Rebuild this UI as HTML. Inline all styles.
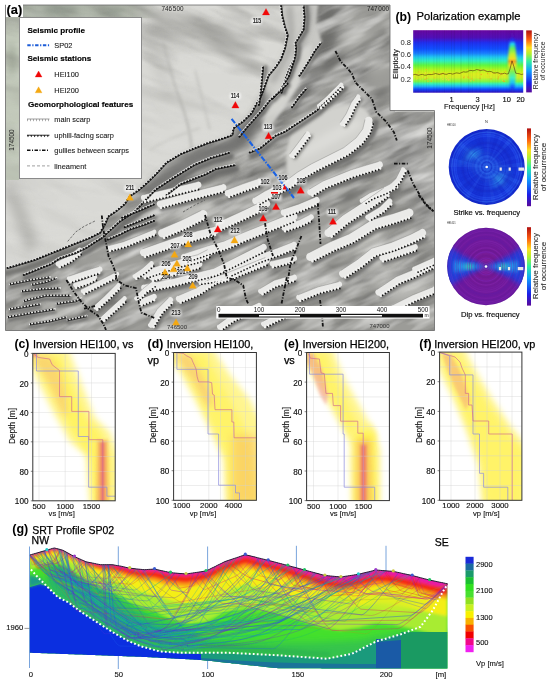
<!DOCTYPE html>
<html><head><meta charset="utf-8">
<style>
html,body{margin:0;padding:0;background:#fff;}
body{width:550px;height:684px;position:relative;overflow:hidden;font-family:"Liberation Sans", sans-serif;}
.abs{position:absolute;}
svg{position:absolute;left:0;top:0;overflow:visible;}
.t{position:absolute;white-space:nowrap;line-height:1;}
</style></head><body>

<svg width="440" height="335" viewBox="0 0 440 335" style="left:0;top:0">
<defs>
<clipPath id="mc"><path d="M5.5,5 H390 V110.5 H434.5 V330.5 H5.5 Z"/></clipPath>
<filter id="bl3" x="-20%" y="-20%" width="140%" height="140%"><feGaussianBlur stdDeviation="3"/></filter>
<filter id="bl6" x="-20%" y="-20%" width="140%" height="140%"><feGaussianBlur stdDeviation="6"/></filter>
<filter id="bl1" x="-20%" y="-20%" width="140%" height="140%"><feGaussianBlur stdDeviation="1"/></filter>
<filter id="bl05" x="-20%" y="-20%" width="140%" height="140%"><feGaussianBlur stdDeviation="0.4"/></filter>
<filter id="bl15" x="-20%" y="-20%" width="140%" height="140%"><feGaussianBlur stdDeviation="1.6"/></filter>
<filter id="tex" x="0" y="0" width="100%" height="100%">
 <feTurbulence type="fractalNoise" baseFrequency="0.018 0.07" numOctaves="3" seed="4" result="n"/>
 <feColorMatrix in="n" type="matrix" values="0 0 0 0 0  0 0 0 0 0  0 0 0 0 0  -1.6 0 0 0 0.9" result="a"/>
 <feComposite in="SourceGraphic" in2="a" operator="in"/>
</filter>
<filter id="tex3" x="0" y="0" width="100%" height="100%">
 <feTurbulence type="fractalNoise" baseFrequency="0.012 0.05" numOctaves="3" seed="21" result="n"/>
 <feColorMatrix in="n" type="matrix" values="0 0 0 0 0  0 0 0 0 0  0 0 0 0 0  -2.2 0 0 0 1.25" result="a"/>
 <feComposite in="SourceGraphic" in2="a" operator="in"/>
</filter>
<filter id="tex2" x="0" y="0" width="100%" height="100%">
 <feTurbulence type="fractalNoise" baseFrequency="0.02 0.09" numOctaves="3" seed="9" result="n"/>
 <feColorMatrix in="n" type="matrix" values="0 0 0 0 0  0 0 0 0 0  0 0 0 0 0  1.7 0 0 0 -0.7" result="a"/>
 <feComposite in="SourceGraphic" in2="a" operator="in"/>
</filter>
</defs>
<g clip-path="url(#mc)">
<rect x="0" y="0" width="440" height="335" fill="#d9d9d5"/>
<g filter="url(#bl6)">
<path d="M150,14 C175,18 200,16 228,28 L236,44 C210,40 175,42 150,34 Z" fill="#b2b2ae"/>
<path d="M222,36 C235,38 248,42 258,48 L254,54 C240,50 230,48 222,44 Z" fill="#bcbcb8"/>
<path d="M150,45 C160,60 170,80 175,100 L168,102 C160,80 152,62 146,50 Z" fill="#c4c4c0"/>
<path d="M5,178 C18,190 28,215 36,240 L30,258 C20,230 12,205 5,195 Z" fill="#b0b0ac"/>
</g>
<rect x="5" y="17" width="14" height="163" fill="#c2c9ba"/>
<defs><linearGradient id="tsg" x1="0" x2="1" y1="0" y2="0"><stop offset="0" stop-color="#a9b1a4"/><stop offset="0.75" stop-color="#b0b6aa"/><stop offset="1" stop-color="#c8c8c4" stop-opacity="0"/></linearGradient></defs>
<rect x="20" y="5" width="150" height="13" fill="url(#tsg)"/>
<g filter="url(#bl3)"><ellipse cx="60" cy="10" rx="18" ry="5" fill="#8f978c"/><ellipse cx="110" cy="12" rx="14" ry="5" fill="#98a094"/><ellipse cx="12" cy="60" rx="4" ry="18" fill="#a8b0a0"/><ellipse cx="12" cy="140" rx="4" ry="14" fill="#b0b8a8"/></g>
<defs><linearGradient id="nwfade" x1="0" y1="0" x2="0" y2="1"><stop offset="0" stop-color="#fff" stop-opacity="1"/><stop offset="0.2" stop-color="#fff" stop-opacity="0.7"/><stop offset="0.35" stop-color="#fff" stop-opacity="0.2"/><stop offset="1" stop-color="#fff" stop-opacity="0.15"/></linearGradient><mask id="nwm"><rect x="0" y="0" width="440" height="335" fill="url(#nwfade)"/></mask></defs>
<g mask="url(#nwm)"><g transform="rotate(20 140 100)"><rect x="-100" y="-150" width="500" height="450" fill="#70706c" filter="url(#tex3)" opacity="0.6"/></g></g>
<g filter="url(#bl15)" opacity="0.8"><path d="M163,42 C168,60 172,80 180,100 C186,115 190,130 192,150" fill="none" stroke="#b4b4b0" stroke-width="2.5"/><path d="M195,70 C200,90 205,110 210,130" fill="none" stroke="#c0c0bc" stroke-width="2"/><path d="M150,150 C165,140 180,135 200,128" fill="none" stroke="#c4c4c0" stroke-width="2"/></g>
<polygon points="3.0,269.0 7.7,268.6 21.4,264.5 35.0,260.5 48.6,255.0 62.3,249.5 75.9,244.0 89.5,238.6 100.5,233.2 105.9,223.6 108.6,216.8 116.8,211.4 125.0,204.5 130.4,196.4 138.6,190.9 145.5,185.0 156.0,175.0 167.0,163.0 181.0,154.5 194.5,149.0 208.0,143.6 221.8,139.5 232.7,135.5 234.0,128.6 243.6,121.8 252.0,113.6 257.0,104.0 261.0,97.7 265.0,86.8 269.0,75.9 276.0,67.7 281.4,59.5 285.4,48.6 288.2,35.0 285.4,26.8 282.7,15.9 281.4,3.0 300.0,3.0 395.0,3.0 395.0,112.0 440.0,112.0 440.0,340.0 0.0,340.0" fill="#9c9c98"/>
<path d="M306,30 L320,44 L309,61 L300,76 L290,95 L282,105 L276,100 L286,80 L296,60 Z" fill="#bcbcb8" filter="url(#bl1)"/>
<g filter="url(#bl6)">
<path d="M316,5 L342,5 L340,30 L336,55 L328,72 L316,62 L310,30 Z" fill="#6e6e6c"/>
<path d="M345,60 L362,62 L372,95 L380,112 L360,110 L350,85 Z" fill="#8a8a88"/>
<path d="M395,112 L434,112 L434,135 L400,140 Z" fill="#8e8e8c"/>
<path d="M405,175 L434,170 L434,240 L420,235 Z" fill="#8a8a88"/>
<path d="M300,70 L320,66 L318,90 L305,105 L292,104 Z" fill="#8a8a88"/>
<ellipse cx="352" cy="34" rx="14" ry="10" fill="#bcbcb8"/>
<ellipse cx="378" cy="56" rx="10" ry="12" fill="#c0c0bc"/>
<ellipse cx="360" cy="95" rx="10" ry="8" fill="#b4b4b0"/>
<ellipse cx="405" cy="150" rx="20" ry="25" fill="#9a9a98"/>
<ellipse cx="420" cy="125" rx="12" ry="10" fill="#b8b8b4"/>
<ellipse cx="400" cy="285" rx="25" ry="15" fill="#bcbcb8"/>
<ellipse cx="370" cy="250" rx="14" ry="10" fill="#c4c4c0"/>
<ellipse cx="60" cy="300" rx="40" ry="15" fill="#b0b0ac"/>
</g>
<clipPath id="darkclip"><polygon points="3.0,269.0 7.7,268.6 21.4,264.5 35.0,260.5 48.6,255.0 62.3,249.5 75.9,244.0 89.5,238.6 100.5,233.2 105.9,223.6 108.6,216.8 116.8,211.4 125.0,204.5 130.4,196.4 138.6,190.9 145.5,185.0 156.0,175.0 167.0,163.0 181.0,154.5 194.5,149.0 208.0,143.6 221.8,139.5 232.7,135.5 234.0,128.6 243.6,121.8 252.0,113.6 257.0,104.0 261.0,97.7 265.0,86.8 269.0,75.9 276.0,67.7 281.4,59.5 285.4,48.6 288.2,35.0 285.4,26.8 282.7,15.9 281.4,3.0 300.0,3.0 395.0,3.0 395.0,112.0 440.0,112.0 440.0,340.0 0.0,340.0"/></clipPath>
<g clip-path="url(#darkclip)"><g transform="rotate(-24 220 200)">
<rect x="-100" y="-150" width="650" height="650" fill="#5e5e5c" filter="url(#tex)"/>
<rect x="-100" y="-150" width="650" height="650" fill="#ececea" filter="url(#tex2)"/>
</g></g>
<g filter="url(#tex2)" opacity="0.2"><rect x="0" y="0" width="300" height="270" fill="#ececea"/></g>
<path d="M284,3 L305,3 L306,17 L304,30 L297,42 L296,57 L290,68 L281,89 L272,100 L262,106 L261,98 L265,87 L269,76 L276,68 L281,60 L285,49 L288,35 L285,27 L283,16 Z" fill="#d0d0cc" filter="url(#bl1)" opacity="0.9"/>
<path d="M305,3 L318,3 L316,25 L322,42 L312,58 L302,75 L296,60 L298,45 L305,33 L306,17 Z" fill="#c8c8c4" filter="url(#bl15)"/>
<path d="M292,130 C305,117 325,108 345,105 C360,104 370,110 371,120 C368,134 358,145 344,153 C325,163 306,173 290,184 C284,168 286,148 292,130 Z" fill="#d2d2ce" filter="url(#bl15)"/>
<path d="M300,150 C320,135 345,122 362,118 L360,128 C340,140 318,152 300,160 Z" fill="#dcdcd8" filter="url(#bl3)"/>
<g filter="url(#bl3)" opacity="0.8">
<path d="M340,240 C355,232 370,228 385,226 L380,238 C365,243 352,250 340,255 Z" fill="#d0d0cc"/>
<path d="M355,262 C370,256 385,252 400,250 L398,262 C383,266 370,270 355,274 Z" fill="#c8c8c4"/>
<path d="M180,215 C195,208 205,204 215,200 L212,210 C200,214 190,220 182,224 Z" fill="#d0d0cc"/>
</g>
<g filter="url(#bl3)">
<ellipse cx="282" cy="96" rx="22" ry="7" transform="rotate(-55 282 96)" fill="#d6d6d2"/>
<ellipse cx="262" cy="140" rx="14" ry="5" transform="rotate(-30 262 140)" fill="#cfcfcb"/>
<path d="M289,5 L291,30 L289,50 L281,66 L272,82" fill="none" stroke="#7a7a78" stroke-width="2.5"/>
<path d="M309,5 L309,20 L305,35 L299,48 L298,60 L291,72" fill="none" stroke="#7a7a78" stroke-width="2.5"/>
<path d="M250,130 L240,140 L225,147 L205,152 L185,160" fill="none" stroke="#6e6e6c" stroke-width="5"/>
</g>
<g filter="url(#bl3)">
<path d="M140,190 L156,177 L170,166 L185,157 L200,151 L215,146 L232,140 L240,128 L250,118 L258,112 L262,125 L252,140 L235,152 L215,158 L195,166 L175,178 L160,190 L150,198 Z" fill="#727270" opacity="0.85"/>
<path d="M165,198 L182,187 L205,178 L218,172 L236,168 L238,176 L215,180 L195,186 L175,196 Z" fill="#6a6a68" opacity="0.8"/>
<path d="M238,132 L248,120 L256,108 L262,98 L266,92 L270,96 L262,110 L252,122 L243,134 Z" fill="#5e5e5c" opacity="0.8"/>
</g>
<g filter="url(#bl15)" opacity="0.9">
<path d="M272,100 L282,88 L290,74 L298,60 L304,48 L312,44 L310,60 L302,76 L294,92 L284,108 L274,122 L266,132 L262,124 Z" fill="#d4d4d0"/>
<path d="M266,140 L280,132 L296,122 L310,114 L318,112 L314,120 L300,128 L284,138 L270,146 Z" fill="#d2d2ce"/>
</g>
<g filter="url(#bl15)"><path d="M3.4,273.5 L8.8,273.0 L22.7,268.8 L36.5,264.7 L50.3,259.2 L64.0,253.7 L77.6,248.2 L91.3,242.7 L102.5,237.2" fill="none" stroke="#6c6c6a" stroke-width="6" stroke-linejoin="round" opacity="0.85"/></g>
<g filter="url(#bl15)">
<path d="M25.2,278.4 L38.9,272.9 L52.8,267.3 L60.8,261.8 L77.0,256.5 L88.3,250.9 L96.7,245.3 L103.4,241.3" fill="none" stroke="#6a6a68" stroke-width="5" stroke-linecap="round" stroke-linejoin="round" opacity="0.9"/>
<path d="M104.2,241.3 L122.3,224.8 L137.4,214.7 L158.4,192.7 L174.6,182.0 L196.2,168.7 L212.2,162.0 L231.0,156.5" fill="none" stroke="#6a6a68" stroke-width="6" stroke-linecap="round" stroke-linejoin="round" opacity="0.9"/>
<path d="M169.2,198.3 L182.7,187.7 L206.9,178.3 L217.1,172.9 L236.2,169.0" fill="none" stroke="#6a6a68" stroke-width="6" stroke-linecap="round" stroke-linejoin="round" opacity="0.9"/>
<path d="M251.2,155.9 L261.7,151.6 L277.7,138.6 L286.5,135.0 L303.1,124.0 L319.5,113.0 L322.9,109.7 L332.3,101.3 L338.7,95.0 L344.9,88.7" fill="none" stroke="#6a6a68" stroke-width="5" stroke-linecap="round" stroke-linejoin="round" opacity="0.9"/>
<path d="M259.9,207.1 L269.7,201.2 L281.6,195.2 L292.4,189.9 L303.4,181.6 L316.7,173.7 L333.0,165.5 L349.6,157.0 L363.9,145.8 L372.7,133.9 L375.8,122.3" fill="none" stroke="#6a6a68" stroke-width="6" stroke-linecap="round" stroke-linejoin="round" opacity="0.9"/>
<path d="M294.2,108.6 L301.6,98.3 L308.8,90.0" fill="none" stroke="#6a6a68" stroke-width="3" stroke-linecap="round" stroke-linejoin="round" opacity="0.9"/>
<path d="M301.7,77.2 L305.8,70.9 L311.1,62.5 L317.2,52.2 L323.5,43.9" fill="none" stroke="#6a6a68" stroke-width="3" stroke-linecap="round" stroke-linejoin="round" opacity="0.9"/>
<path d="M284.5,93.5 L288.8,79.0 L292.9,68.8 L298.2,58.0 L299.3,46.8 L298.2,44.3 L301.0,39.8 L306.5,30.7 L307.6,17.5 L306.6,4.8" fill="none" stroke="#6a6a68" stroke-width="4" stroke-linecap="round" stroke-linejoin="round" opacity="0.9"/>
<path d="M274.6,100.4 L283.1,90.7 L291.4,76.9 L297.0,60.2" fill="none" stroke="#6a6a68" stroke-width="3" stroke-linecap="round" stroke-linejoin="round" opacity="0.9"/>
<path d="M241.6,138.3 L249.6,128.4 L257.6,119.4 L264.6,111.3 L271.5,102.4 L281.4,93.5 L289.5,85.5" fill="none" stroke="#6a6a68" stroke-width="3" stroke-linecap="round" stroke-linejoin="round" opacity="0.9"/>
<path d="M261.6,105.3 L263.1,95.2 L264.4,81.6 L265.7,66.6" fill="none" stroke="#6a6a68" stroke-width="3" stroke-linecap="round" stroke-linejoin="round" opacity="0.9"/>
<path d="M322.2,109.0 L331.6,100.5 L338.0,94.3 L344.2,88.0" fill="none" stroke="#6a6a68" stroke-width="3" stroke-linecap="round" stroke-linejoin="round" opacity="0.9"/>
<path d="M313.9,197.7 L327.4,189.6 L340.7,184.3 L354.0,178.9 L367.7,174.8 L381.4,170.7" fill="none" stroke="#6a6a68" stroke-width="5" stroke-linecap="round" stroke-linejoin="round" opacity="0.9"/>
<path d="M365.4,205.2 L373.4,200.0 L387.1,194.7 L398.0,189.1" fill="none" stroke="#6a6a68" stroke-width="4" stroke-linecap="round" stroke-linejoin="round" opacity="0.9"/>
<path d="M395.5,188.3 L401.2,182.6 L406.9,171.4" fill="none" stroke="#6a6a68" stroke-width="3" stroke-linecap="round" stroke-linejoin="round" opacity="0.9"/>
<path d="M294.9,158.1 L303.1,147.3 L311.2,136.2" fill="none" stroke="#6a6a68" stroke-width="3" stroke-linecap="round" stroke-linejoin="round" opacity="0.9"/>
<path d="M145.6,203.5 L170.6,197.5 L199.6,190.5" fill="none" stroke="#6a6a68" stroke-width="4" stroke-linecap="round" stroke-linejoin="round" opacity="0.9"/>
<path d="M161.7,209.5 L190.7,201.5 L224.6,193.0" fill="none" stroke="#6a6a68" stroke-width="4" stroke-linecap="round" stroke-linejoin="round" opacity="0.9"/>
<path d="M229.9,198.4 L245.9,192.5 L260.8,187.5" fill="none" stroke="#6a6a68" stroke-width="4" stroke-linecap="round" stroke-linejoin="round" opacity="0.9"/>
<path d="M165.2,239.8 L186.3,230.8 L206.4,220.8" fill="none" stroke="#6a6a68" stroke-width="5" stroke-linecap="round" stroke-linejoin="round" opacity="0.9"/>
<path d="M222.3,231.8 L246.3,220.8 L269.3,209.8" fill="none" stroke="#6a6a68" stroke-width="5" stroke-linecap="round" stroke-linejoin="round" opacity="0.9"/>
<path d="M146.0,258.9 L163.0,252.9 L180.9,247.0 L200.8,241.0 L216.8,237.0" fill="none" stroke="#6a6a68" stroke-width="5" stroke-linecap="round" stroke-linejoin="round" opacity="0.9"/>
<path d="M187.0,263.9 L210.9,256.0 L228.1,250.9 L246.2,242.9 L261.2,236.9 L281.2,228.9 L296.2,222.9" fill="none" stroke="#6a6a68" stroke-width="5" stroke-linecap="round" stroke-linejoin="round" opacity="0.9"/>
<path d="M153.7,282.5 L175.7,276.5 L200.7,269.5" fill="none" stroke="#6a6a68" stroke-width="4" stroke-linecap="round" stroke-linejoin="round" opacity="0.9"/>
<path d="M231.1,277.4 L246.1,270.4 L261.0,263.4 L280.9,256.4 L296.0,250.4" fill="none" stroke="#6a6a68" stroke-width="4" stroke-linecap="round" stroke-linejoin="round" opacity="0.9"/>
<path d="M200.4,285.6 L220.4,282.6 L235.3,280.6" fill="none" stroke="#6a6a68" stroke-width="4" stroke-linecap="round" stroke-linejoin="round" opacity="0.9"/>
<path d="M145.8,279.8 L162.2,274.3 L178.4,268.9 L200.3,263.5 L211.7,257.8" fill="none" stroke="#6a6a68" stroke-width="4" stroke-linecap="round" stroke-linejoin="round" opacity="0.9"/>
<path d="M145.5,293.5 L172.9,288.0 L194.6,282.5 L216.9,277.0 L233.5,268.7 L255.2,257.8 L266.2,252.3" fill="none" stroke="#6a6a68" stroke-width="4" stroke-linecap="round" stroke-linejoin="round" opacity="0.9"/>
<path d="M181.5,304.2 L200.7,295.9 L217.2,285.0 L227.7,282.4 L255.0,271.4 L268.7,266.0" fill="none" stroke="#6a6a68" stroke-width="4" stroke-linecap="round" stroke-linejoin="round" opacity="0.9"/>
<path d="M155.4,327.7 L163.5,314.3 L174.1,303.6" fill="none" stroke="#6a6a68" stroke-width="4" stroke-linecap="round" stroke-linejoin="round" opacity="0.9"/>
<path d="M263.6,295.8 L277.0,287.9 L295.7,282.5" fill="none" stroke="#6a6a68" stroke-width="4" stroke-linecap="round" stroke-linejoin="round" opacity="0.9"/>
<path d="M222.9,331.1 L233.7,323.2 L244.3,317.9 L261.1,310.4" fill="none" stroke="#6a6a68" stroke-width="4" stroke-linecap="round" stroke-linejoin="round" opacity="0.9"/>
<path d="M266.2,328.7 L282.5,320.6 L296.0,315.1" fill="none" stroke="#6a6a68" stroke-width="4" stroke-linecap="round" stroke-linejoin="round" opacity="0.9"/>
<path d="M273.5,268.4 L295.5,263.0" fill="none" stroke="#6a6a68" stroke-width="3" stroke-linecap="round" stroke-linejoin="round" opacity="0.9"/>
<path d="M333.4,238.4 L349.5,224.8 L368.5,212.6 L390.4,197.6" fill="none" stroke="#6a6a68" stroke-width="5" stroke-linecap="round" stroke-linejoin="round" opacity="0.9"/>
<path d="M285.8,218.0 L302.3,212.4 L318.7,205.6" fill="none" stroke="#6a6a68" stroke-width="4" stroke-linecap="round" stroke-linejoin="round" opacity="0.9"/>
<path d="M313.7,263.3 L335.3,252.3 L354.7,244.1 L376.3,230.5 L394.9,225.3 L411.5,219.7" fill="none" stroke="#6a6a68" stroke-width="5" stroke-linecap="round" stroke-linejoin="round" opacity="0.9"/>
<path d="M346.7,279.4 L363.2,268.5 L376.4,257.8 L395.0,252.4 L414.5,244.2 L425.4,238.8" fill="none" stroke="#6a6a68" stroke-width="5" stroke-linecap="round" stroke-linejoin="round" opacity="0.9"/>
<path d="M383.8,263.0 L400.3,257.5 L416.8,252.0" fill="none" stroke="#6a6a68" stroke-width="4" stroke-linecap="round" stroke-linejoin="round" opacity="0.9"/>
<path d="M370.8,221.7 L384.6,213.5 L393.2,205.1" fill="none" stroke="#6a6a68" stroke-width="4" stroke-linecap="round" stroke-linejoin="round" opacity="0.9"/>
<path d="M285.8,233.0 L302.4,227.4 L313.5,221.8" fill="none" stroke="#6a6a68" stroke-width="4" stroke-linecap="round" stroke-linejoin="round" opacity="0.9"/>
<path d="M381.9,297.2 L400.8,284.6 L414.3,279.2 L436.2,268.3" fill="none" stroke="#6a6a68" stroke-width="4" stroke-linecap="round" stroke-linejoin="round" opacity="0.9"/>
<path d="M416.8,273.3 L435.8,264.9" fill="none" stroke="#6a6a68" stroke-width="3" stroke-linecap="round" stroke-linejoin="round" opacity="0.9"/>
<path d="M396.2,312.3 L416.1,302.4 L436.0,294.4" fill="none" stroke="#6a6a68" stroke-width="4" stroke-linecap="round" stroke-linejoin="round" opacity="0.9"/>
<path d="M301.0,302.4 L320.8,294.5 L340.6,289.5" fill="none" stroke="#6a6a68" stroke-width="4" stroke-linecap="round" stroke-linejoin="round" opacity="0.9"/>
<path d="M32.8,288.0 L46.7,285.2 L57.7,281.0" fill="none" stroke="#6a6a68" stroke-width="4" stroke-linecap="round" stroke-linejoin="round" opacity="0.9"/>
<path d="M60.4,268.3 L71.6,262.8 L82.7,254.4" fill="none" stroke="#6a6a68" stroke-width="3" stroke-linecap="round" stroke-linejoin="round" opacity="0.9"/>
<path d="M71.3,283.9 L87.6,278.5 L101.3,274.3" fill="none" stroke="#6a6a68" stroke-width="4" stroke-linecap="round" stroke-linejoin="round" opacity="0.9"/>
<path d="M24.6,304.3 L46.3,299.0 L70.5,299.0" fill="none" stroke="#6a6a68" stroke-width="4" stroke-linecap="round" stroke-linejoin="round" opacity="0.9"/>
<path d="M57.1,306.6 L76.4,303.8 L82.4,300.9" fill="none" stroke="#6a6a68" stroke-width="3" stroke-linecap="round" stroke-linejoin="round" opacity="0.9"/>
<path d="M84.9,294.9 L100.9,286.9 L118.9,277.9" fill="none" stroke="#6a6a68" stroke-width="3" stroke-linecap="round" stroke-linejoin="round" opacity="0.9"/>
<path d="M76.7,289.0 L88.8,284.9 L96.9,280.9" fill="none" stroke="#6a6a68" stroke-width="3" stroke-linecap="round" stroke-linejoin="round" opacity="0.9"/>
<path d="M98.4,310.6 L109.5,300.5 L121.5,288.5" fill="none" stroke="#6a6a68" stroke-width="3" stroke-linecap="round" stroke-linejoin="round" opacity="0.9"/>
<path d="M105.4,321.6 L116.4,311.6 L127.4,301.6" fill="none" stroke="#6a6a68" stroke-width="3" stroke-linecap="round" stroke-linejoin="round" opacity="0.9"/>
<path d="M68.1,323.0 L87.2,318.9" fill="none" stroke="#6a6a68" stroke-width="3" stroke-linecap="round" stroke-linejoin="round" opacity="0.9"/>
<path d="M137.2,279.7 L146.3,273.7 L154.4,266.6" fill="none" stroke="#6a6a68" stroke-width="3" stroke-linecap="round" stroke-linejoin="round" opacity="0.9"/>
<path d="M139.5,301.5 L147.4,293.6 L156.3,286.7" fill="none" stroke="#6a6a68" stroke-width="3" stroke-linecap="round" stroke-linejoin="round" opacity="0.9"/>
<path d="M142.2,306.4 L155.8,300.9" fill="none" stroke="#6a6a68" stroke-width="3" stroke-linecap="round" stroke-linejoin="round" opacity="0.9"/>
<path d="M109.0,242.4 L119.1,238.4 L131.0,232.4 L145.9,227.4 L156.0,223.4" fill="none" stroke="#6a6a68" stroke-width="4" stroke-linecap="round" stroke-linejoin="round" opacity="0.9"/>
<path d="M110.7,252.5 L125.8,248.5 L141.0,242.4 L156.0,236.4" fill="none" stroke="#6a6a68" stroke-width="4" stroke-linecap="round" stroke-linejoin="round" opacity="0.9"/>
<path d="M123.1,220.1 L136.8,214.6 L155.8,206.4" fill="none" stroke="#6a6a68" stroke-width="3" stroke-linecap="round" stroke-linejoin="round" opacity="0.9"/>
<path d="M125.8,229.6 L142.2,222.9 L155.8,217.4" fill="none" stroke="#6a6a68" stroke-width="3" stroke-linecap="round" stroke-linejoin="round" opacity="0.9"/>
<path d="M10.4,287.1 L30.4,283.1 L50.3,280.1" fill="none" stroke="#6a6a68" stroke-width="3" stroke-linecap="round" stroke-linejoin="round" opacity="0.9"/>
<path d="M22.2,294.1 L40.2,292.1 L60.1,291.1" fill="none" stroke="#6a6a68" stroke-width="3" stroke-linecap="round" stroke-linejoin="round" opacity="0.9"/>
<path d="M8.4,320.1 L30.4,316.1 L55.3,312.1" fill="none" stroke="#6a6a68" stroke-width="3" stroke-linecap="round" stroke-linejoin="round" opacity="0.9"/>
<path d="M30.3,327.1 L50.4,324.1 L66.5,320.0" fill="none" stroke="#6a6a68" stroke-width="3" stroke-linecap="round" stroke-linejoin="round" opacity="0.9"/>
<path d="M10.3,312.1 L40.3,307.1" fill="none" stroke="#6a6a68" stroke-width="3" stroke-linecap="round" stroke-linejoin="round" opacity="0.9"/>
<path d="M345.7,126.2 L351.8,117.0 L356.8,106.0 L361.7,99.2" fill="none" stroke="#6a6a68" stroke-width="3" stroke-linecap="round" stroke-linejoin="round" opacity="0.9"/>
<path d="M397.1,105.1 L405.1,97.1" fill="none" stroke="#6a6a68" stroke-width="2" stroke-linecap="round" stroke-linejoin="round" opacity="0.9"/>
</g>
<g filter="url(#bl05)">
<path d="M256.1,200.8 L266.2,194.7 L278.3,188.6 L288.5,183.6 L299.3,175.5 L313.2,167.2 L329.7,159.0 L345.7,150.8 L358.8,140.5 L366.1,130.6 L368.7,120.5" fill="none" stroke="#eaeae8" stroke-width="7.5" stroke-linecap="round" stroke-linejoin="round"/>
<path d="M254.1,197.6 L264.4,191.4 L276.7,185.3 L286.5,180.4 L297.2,172.4 L311.4,163.9 L328.0,155.6 L343.7,147.7 L356.1,137.9 L362.8,128.9 L365.0,119.5" fill="none" stroke="#7a7a78" stroke-width="0.6" opacity="0.7"/>
<path d="M319.3,105.7 L328.7,97.4 L334.9,91.2 L341.1,84.9" fill="none" stroke="#eaeae8" stroke-width="4.5" stroke-linecap="round" stroke-linejoin="round"/>
<path d="M317.8,104.0 L327.1,95.7 L333.3,89.6 L339.5,83.3" fill="none" stroke="#7a7a78" stroke-width="0.6" opacity="0.7"/>
<path d="M310.6,192.2 L324.5,183.9 L338.3,178.4 L351.9,172.9 L365.9,168.7 L379.6,164.6" fill="none" stroke="#eaeae8" stroke-width="6.5" stroke-linecap="round" stroke-linejoin="round"/>
<path d="M309.0,189.4 L323.1,181.0 L337.1,175.4 L350.8,169.9 L364.9,165.6 L378.6,161.5" fill="none" stroke="#7a7a78" stroke-width="0.6" opacity="0.7"/>
<path d="M362.5,200.7 L371.1,195.2 L384.9,189.8 L395.6,184.3" fill="none" stroke="#eaeae8" stroke-width="5.5" stroke-linecap="round" stroke-linejoin="round"/>
<path d="M361.0,198.4 L369.9,192.8 L383.8,187.3 L394.3,181.9" fill="none" stroke="#7a7a78" stroke-width="0.6" opacity="0.7"/>
<path d="M392.4,185.2 L397.6,180.1 L403.0,169.5" fill="none" stroke="#eaeae8" stroke-width="4.5" stroke-linecap="round" stroke-linejoin="round"/>
<path d="M390.8,183.6 L395.8,178.9 L401.0,168.5" fill="none" stroke="#7a7a78" stroke-width="0.6" opacity="0.7"/>
<path d="M291.4,155.4 L299.6,144.7 L307.7,133.7" fill="none" stroke="#eaeae8" stroke-width="4.5" stroke-linecap="round" stroke-linejoin="round"/>
<path d="M289.6,154.1 L297.8,143.3 L305.9,132.3" fill="none" stroke="#7a7a78" stroke-width="0.6" opacity="0.7"/>
<path d="M144.2,197.8 L169.2,191.8 L198.2,184.8" fill="none" stroke="#eaeae8" stroke-width="6.5" stroke-linecap="round" stroke-linejoin="round"/>
<path d="M143.5,194.7 L168.5,188.7 L197.5,181.7" fill="none" stroke="#7a7a78" stroke-width="0.6" opacity="0.7"/>
<path d="M160.1,203.9 L189.2,195.9 L223.2,187.3" fill="none" stroke="#eaeae8" stroke-width="6.5" stroke-linecap="round" stroke-linejoin="round"/>
<path d="M159.3,200.7 L188.4,192.7 L222.4,184.2" fill="none" stroke="#7a7a78" stroke-width="0.6" opacity="0.7"/>
<path d="M227.9,193.0 L243.9,186.9 L259.0,181.9" fill="none" stroke="#eaeae8" stroke-width="6.5" stroke-linecap="round" stroke-linejoin="round"/>
<path d="M226.7,189.9 L242.8,183.9 L257.9,178.8" fill="none" stroke="#7a7a78" stroke-width="0.6" opacity="0.7"/>
<path d="M162.3,233.1 L183.2,224.1 L203.1,214.2" fill="none" stroke="#eaeae8" stroke-width="8.5" stroke-linecap="round" stroke-linejoin="round"/>
<path d="M160.7,229.2 L181.4,220.3 L201.2,210.4" fill="none" stroke="#7a7a78" stroke-width="0.6" opacity="0.7"/>
<path d="M219.4,225.6 L243.4,214.6 L266.4,203.6" fill="none" stroke="#eaeae8" stroke-width="7.5" stroke-linecap="round" stroke-linejoin="round"/>
<path d="M217.9,222.2 L241.8,211.2 L264.8,200.2" fill="none" stroke="#7a7a78" stroke-width="0.6" opacity="0.7"/>
<path d="M143.8,252.5 L160.8,246.5 L178.9,240.4 L199.0,234.4 L215.1,230.4" fill="none" stroke="#eaeae8" stroke-width="7.5" stroke-linecap="round" stroke-linejoin="round"/>
<path d="M142.5,248.9 L159.6,242.9 L177.7,236.8 L198.0,230.8 L214.2,226.7" fill="none" stroke="#7a7a78" stroke-width="0.6" opacity="0.7"/>
<path d="M184.8,257.4 L208.9,249.4 L225.7,244.5 L243.5,236.5 L258.6,230.5 L278.6,222.5 L293.6,216.5" fill="none" stroke="#eaeae8" stroke-width="7.5" stroke-linecap="round" stroke-linejoin="round"/>
<path d="M183.6,253.9 L207.7,245.9 L224.4,241.0 L242.1,233.1 L257.2,227.0 L277.2,219.0 L292.2,213.0" fill="none" stroke="#7a7a78" stroke-width="0.6" opacity="0.7"/>
<path d="M152.1,276.9 L174.1,270.9 L199.1,263.9" fill="none" stroke="#eaeae8" stroke-width="6.5" stroke-linecap="round" stroke-linejoin="round"/>
<path d="M151.3,273.7 L173.3,267.7 L198.2,260.7" fill="none" stroke="#7a7a78" stroke-width="0.6" opacity="0.7"/>
<path d="M228.6,272.1 L243.6,265.1 L258.8,258.0 L278.9,251.0 L293.8,245.0" fill="none" stroke="#eaeae8" stroke-width="6.5" stroke-linecap="round" stroke-linejoin="round"/>
<path d="M227.3,269.1 L242.3,262.1 L257.6,255.0 L277.7,247.9 L292.6,242.0" fill="none" stroke="#7a7a78" stroke-width="0.6" opacity="0.7"/>
<path d="M199.6,280.3 L219.6,277.3 L234.6,275.3" fill="none" stroke="#eaeae8" stroke-width="5.5" stroke-linecap="round" stroke-linejoin="round"/>
<path d="M199.2,277.6 L219.2,274.6 L234.3,272.5" fill="none" stroke="#7a7a78" stroke-width="0.6" opacity="0.7"/>
<path d="M144.0,274.2 L160.4,268.7 L176.8,263.3 L198.5,257.9 L209.0,252.6" fill="none" stroke="#eaeae8" stroke-width="6.5" stroke-linecap="round" stroke-linejoin="round"/>
<path d="M142.9,271.1 L159.3,265.6 L175.9,260.1 L197.5,254.8 L207.6,249.7" fill="none" stroke="#7a7a78" stroke-width="0.6" opacity="0.7"/>
<path d="M144.4,287.8 L171.6,282.3 L193.2,276.8 L214.9,271.4 L230.8,263.5 L252.5,252.6 L263.5,247.1" fill="none" stroke="#eaeae8" stroke-width="6.5" stroke-linecap="round" stroke-linejoin="round"/>
<path d="M143.7,284.6 L170.9,279.2 L192.4,273.7 L213.8,268.4 L229.4,260.6 L251.1,249.7 L262.1,244.2" fill="none" stroke="#7a7a78" stroke-width="0.6" opacity="0.7"/>
<path d="M179.2,298.8 L198.0,290.7 L214.6,279.8 L225.7,276.9 L252.8,266.0 L266.5,260.6" fill="none" stroke="#eaeae8" stroke-width="6.5" stroke-linecap="round" stroke-linejoin="round"/>
<path d="M177.9,295.8 L196.4,287.9 L213.1,276.9 L224.6,273.9 L251.6,263.0 L265.3,257.6" fill="none" stroke="#7a7a78" stroke-width="0.6" opacity="0.7"/>
<path d="M150.8,325.0 L159.2,311.0 L170.4,299.9" fill="none" stroke="#eaeae8" stroke-width="5.5" stroke-linecap="round" stroke-linejoin="round"/>
<path d="M148.5,323.6 L157.1,309.3 L168.4,297.9" fill="none" stroke="#7a7a78" stroke-width="0.6" opacity="0.7"/>
<path d="M260.9,291.2 L274.9,283.0 L294.2,277.4" fill="none" stroke="#eaeae8" stroke-width="5.5" stroke-linecap="round" stroke-linejoin="round"/>
<path d="M259.5,288.9 L273.9,280.4 L293.5,274.7" fill="none" stroke="#7a7a78" stroke-width="0.6" opacity="0.7"/>
<path d="M219.8,326.8 L230.9,318.7 L242.0,313.0 L258.9,305.5" fill="none" stroke="#eaeae8" stroke-width="5.5" stroke-linecap="round" stroke-linejoin="round"/>
<path d="M218.1,324.6 L229.4,316.3 L240.9,310.5 L257.8,303.0" fill="none" stroke="#7a7a78" stroke-width="0.6" opacity="0.7"/>
<path d="M263.8,323.9 L280.3,315.7 L294.0,310.2" fill="none" stroke="#eaeae8" stroke-width="5.5" stroke-linecap="round" stroke-linejoin="round"/>
<path d="M262.5,321.5 L279.1,313.2 L292.9,307.6" fill="none" stroke="#7a7a78" stroke-width="0.6" opacity="0.7"/>
<path d="M272.3,263.7 L294.3,258.3" fill="none" stroke="#eaeae8" stroke-width="5.5" stroke-linecap="round" stroke-linejoin="round"/>
<path d="M271.7,261.1 L293.7,255.7" fill="none" stroke="#7a7a78" stroke-width="0.6" opacity="0.7"/>
<path d="M328.7,232.7 L345.2,218.9 L364.4,206.5 L386.2,191.5" fill="none" stroke="#eaeae8" stroke-width="8.5" stroke-linecap="round" stroke-linejoin="round"/>
<path d="M325.9,229.5 L342.7,215.4 L362.1,202.9 L383.8,188.0" fill="none" stroke="#7a7a78" stroke-width="0.6" opacity="0.7"/>
<path d="M284.0,212.4 L300.3,207.0 L316.4,200.2" fill="none" stroke="#eaeae8" stroke-width="6.5" stroke-linecap="round" stroke-linejoin="round"/>
<path d="M282.9,209.3 L299.1,203.9 L315.2,197.2" fill="none" stroke="#7a7a78" stroke-width="0.6" opacity="0.7"/>
<path d="M310.4,256.7 L332.2,245.6 L351.2,237.6 L373.2,223.9 L392.8,218.2 L409.2,212.8" fill="none" stroke="#eaeae8" stroke-width="8.5" stroke-linecap="round" stroke-linejoin="round"/>
<path d="M308.5,252.9 L330.4,241.8 L349.2,233.9 L371.4,220.0 L391.5,214.2 L407.8,208.7" fill="none" stroke="#7a7a78" stroke-width="0.6" opacity="0.7"/>
<path d="M342.9,273.7 L359.2,263.0 L373.3,251.7 L392.7,246.0 L411.7,238.0 L422.3,232.6" fill="none" stroke="#eaeae8" stroke-width="7.5" stroke-linecap="round" stroke-linejoin="round"/>
<path d="M340.9,270.5 L357.0,259.9 L371.6,248.3 L391.5,242.4 L410.1,234.6 L420.6,229.3" fill="none" stroke="#7a7a78" stroke-width="0.6" opacity="0.7"/>
<path d="M382.1,257.9 L398.6,252.4 L415.1,246.9" fill="none" stroke="#eaeae8" stroke-width="5.5" stroke-linecap="round" stroke-linejoin="round"/>
<path d="M381.3,255.3 L397.8,249.8 L414.3,244.3" fill="none" stroke="#7a7a78" stroke-width="0.6" opacity="0.7"/>
<path d="M368.1,217.1 L381.4,209.2 L389.5,201.2" fill="none" stroke="#eaeae8" stroke-width="5.5" stroke-linecap="round" stroke-linejoin="round"/>
<path d="M366.7,214.8 L379.7,207.0 L387.6,199.3" fill="none" stroke="#7a7a78" stroke-width="0.6" opacity="0.7"/>
<path d="M284.1,227.9 L300.4,222.4 L311.1,217.0" fill="none" stroke="#eaeae8" stroke-width="5.5" stroke-linecap="round" stroke-linejoin="round"/>
<path d="M283.3,225.3 L299.3,219.9 L309.8,214.6" fill="none" stroke="#7a7a78" stroke-width="0.6" opacity="0.7"/>
<path d="M378.7,292.3 L397.9,279.5 L411.8,273.8 L433.6,263.1" fill="none" stroke="#eaeae8" stroke-width="6.5" stroke-linecap="round" stroke-linejoin="round"/>
<path d="M376.9,289.6 L396.3,276.6 L410.5,270.9 L432.1,260.2" fill="none" stroke="#7a7a78" stroke-width="0.6" opacity="0.7"/>
<path d="M414.9,268.9 L433.9,260.5" fill="none" stroke="#eaeae8" stroke-width="5.5" stroke-linecap="round" stroke-linejoin="round"/>
<path d="M413.8,266.4 L432.8,258.0" fill="none" stroke="#7a7a78" stroke-width="0.6" opacity="0.7"/>
<path d="M393.8,307.5 L413.9,297.5 L434.0,289.4" fill="none" stroke="#eaeae8" stroke-width="5.5" stroke-linecap="round" stroke-linejoin="round"/>
<path d="M392.5,305.1 L412.7,295.0 L433.0,286.9" fill="none" stroke="#7a7a78" stroke-width="0.6" opacity="0.7"/>
<path d="M299.0,297.4 L319.2,289.4 L339.3,284.3" fill="none" stroke="#eaeae8" stroke-width="5.5" stroke-linecap="round" stroke-linejoin="round"/>
<path d="M298.0,294.9 L318.3,286.8 L338.7,281.7" fill="none" stroke="#7a7a78" stroke-width="0.6" opacity="0.7"/>
<path d="M32.1,284.5 L45.7,281.7 L56.4,277.7" fill="none" stroke="#eaeae8" stroke-width="2" stroke-linecap="round" stroke-linejoin="round"/>
<path d="M31.9,283.5 L45.5,280.8 L56.1,276.7" fill="none" stroke="#7a7a78" stroke-width="0.6" opacity="0.7"/>
<path d="M58.3,263.9 L69.0,258.7 L79.7,250.5" fill="none" stroke="#eaeae8" stroke-width="5.5" stroke-linecap="round" stroke-linejoin="round"/>
<path d="M57.1,261.5 L67.6,256.3 L78.1,248.3" fill="none" stroke="#7a7a78" stroke-width="0.6" opacity="0.7"/>
<path d="M69.6,278.8 L86.0,273.4 L99.7,269.2" fill="none" stroke="#eaeae8" stroke-width="5.5" stroke-linecap="round" stroke-linejoin="round"/>
<path d="M68.8,276.2 L85.1,270.8 L98.9,266.5" fill="none" stroke="#7a7a78" stroke-width="0.6" opacity="0.7"/>
<path d="M23.8,300.8 L45.9,295.4 L70.5,295.4" fill="none" stroke="#eaeae8" stroke-width="2" stroke-linecap="round" stroke-linejoin="round"/>
<path d="M23.5,299.9 L45.8,294.4 L70.5,294.4" fill="none" stroke="#7a7a78" stroke-width="0.6" opacity="0.7"/>
<path d="M56.7,303.5 L75.7,300.8 L80.9,298.1" fill="none" stroke="#eaeae8" stroke-width="2" stroke-linecap="round" stroke-linejoin="round"/>
<path d="M56.5,302.5 L75.5,299.8 L80.5,297.2" fill="none" stroke="#7a7a78" stroke-width="0.6" opacity="0.7"/>
<path d="M83.0,291.0 L99.0,283.0 L117.0,274.0" fill="none" stroke="#eaeae8" stroke-width="4.5" stroke-linecap="round" stroke-linejoin="round"/>
<path d="M82.0,289.0 L98.0,281.0 L116.0,272.0" fill="none" stroke="#7a7a78" stroke-width="0.6" opacity="0.7"/>
<path d="M75.3,284.9 L87.2,280.9 L95.0,277.0" fill="none" stroke="#eaeae8" stroke-width="4.5" stroke-linecap="round" stroke-linejoin="round"/>
<path d="M74.6,282.7 L86.3,278.8 L94.0,275.0" fill="none" stroke="#7a7a78" stroke-width="0.6" opacity="0.7"/>
<path d="M95.5,307.3 L106.4,297.4 L118.4,285.4" fill="none" stroke="#eaeae8" stroke-width="4.5" stroke-linecap="round" stroke-linejoin="round"/>
<path d="M94.0,305.7 L104.9,295.7 L116.8,283.8" fill="none" stroke="#7a7a78" stroke-width="0.6" opacity="0.7"/>
<path d="M102.5,318.3 L113.5,308.3 L124.5,298.3" fill="none" stroke="#eaeae8" stroke-width="4.5" stroke-linecap="round" stroke-linejoin="round"/>
<path d="M101.0,316.7 L112.0,306.7 L123.0,296.7" fill="none" stroke="#7a7a78" stroke-width="0.6" opacity="0.7"/>
<path d="M67.5,319.9 L86.6,315.8" fill="none" stroke="#eaeae8" stroke-width="2" stroke-linecap="round" stroke-linejoin="round"/>
<path d="M67.3,318.9 L86.4,314.8" fill="none" stroke="#7a7a78" stroke-width="0.6" opacity="0.7"/>
<path d="M134.8,276.1 L143.6,270.2 L151.5,263.3" fill="none" stroke="#eaeae8" stroke-width="4.5" stroke-linecap="round" stroke-linejoin="round"/>
<path d="M133.5,274.3 L142.3,268.4 L150.0,261.6" fill="none" stroke="#7a7a78" stroke-width="0.6" opacity="0.7"/>
<path d="M136.4,298.4 L144.5,290.3 L153.6,283.2" fill="none" stroke="#eaeae8" stroke-width="4.5" stroke-linecap="round" stroke-linejoin="round"/>
<path d="M134.8,296.8 L143.0,288.6 L152.2,281.4" fill="none" stroke="#7a7a78" stroke-width="0.6" opacity="0.7"/>
<path d="M140.4,302.0 L154.0,296.5" fill="none" stroke="#eaeae8" stroke-width="5.5" stroke-linecap="round" stroke-linejoin="round"/>
<path d="M139.3,299.4 L152.9,293.9" fill="none" stroke="#7a7a78" stroke-width="0.6" opacity="0.7"/>
<path d="M109.4,247.8 L124.3,243.9 L139.2,237.9 L154.2,231.9" fill="none" stroke="#eaeae8" stroke-width="4.5" stroke-linecap="round" stroke-linejoin="round"/>
<path d="M108.8,245.7 L123.6,241.7 L138.3,235.8 L153.3,229.8" fill="none" stroke="#7a7a78" stroke-width="0.6" opacity="0.7"/>
<path d="M9.8,284.0 L29.8,280.0 L49.9,277.0" fill="none" stroke="#eaeae8" stroke-width="2" stroke-linecap="round" stroke-linejoin="round"/>
<path d="M9.6,283.0 L29.7,279.0 L49.7,276.0" fill="none" stroke="#7a7a78" stroke-width="0.6" opacity="0.7"/>
<path d="M21.9,291.0 L39.9,289.0 L60.0,288.0" fill="none" stroke="#eaeae8" stroke-width="2" stroke-linecap="round" stroke-linejoin="round"/>
<path d="M21.8,290.0 L39.8,288.0 L59.9,287.0" fill="none" stroke="#7a7a78" stroke-width="0.6" opacity="0.7"/>
<path d="M7.8,317.0 L29.8,313.0 L54.8,309.0" fill="none" stroke="#eaeae8" stroke-width="2" stroke-linecap="round" stroke-linejoin="round"/>
<path d="M7.6,316.0 L29.7,312.0 L54.7,308.0" fill="none" stroke="#7a7a78" stroke-width="0.6" opacity="0.7"/>
<path d="M29.9,324.0 L49.8,321.0 L65.8,317.0" fill="none" stroke="#eaeae8" stroke-width="2" stroke-linecap="round" stroke-linejoin="round"/>
<path d="M29.7,323.0 L49.6,320.0 L65.5,316.1" fill="none" stroke="#7a7a78" stroke-width="0.6" opacity="0.7"/>
<path d="M9.8,309.0 L39.8,304.0" fill="none" stroke="#eaeae8" stroke-width="2" stroke-linecap="round" stroke-linejoin="round"/>
<path d="M9.7,308.0 L39.7,303.0" fill="none" stroke="#7a7a78" stroke-width="0.6" opacity="0.7"/>
<path d="M342.1,123.8 L348.0,114.9 L353.0,103.9 L358.2,96.7" fill="none" stroke="#eaeae8" stroke-width="4.5" stroke-linecap="round" stroke-linejoin="round"/>
<path d="M340.3,122.5 L346.1,113.8 L351.1,102.8 L356.3,95.4" fill="none" stroke="#7a7a78" stroke-width="0.6" opacity="0.7"/>
<path d="M395.3,103.3 L403.3,95.3" fill="none" stroke="#eaeae8" stroke-width="2" stroke-linecap="round" stroke-linejoin="round"/>
<path d="M394.6,102.6 L402.6,94.6" fill="none" stroke="#7a7a78" stroke-width="0.6" opacity="0.7"/>
</g>
<path d="M7.3,267.3 L21.0,263.2 L34.5,259.2 L48.1,253.7 L61.8,248.2 L75.4,242.7 L88.9,237.3 L99.6,232.2 L104.6,223.0 L107.6,215.9 L116.0,210.3 L124.0,203.6 L129.4,195.4 L137.8,189.8 L144.6,184.0 L155.0,174.0 L166.1,161.9 L180.4,153.3 L194.0,147.7 L207.5,142.3 L221.4,138.2 L231.8,134.5 L232.9,127.7 L242.7,120.7 L250.9,112.8 L255.8,103.3 L259.7,97.1 L263.7,86.3 L267.8,75.2 L274.9,66.9 L280.1,58.9 L284.1,48.2 L286.8,35.0 L284.1,27.2 L281.3,16.1 L280.0,3.1" fill="none" stroke="#e6e6e4" stroke-width="1.6" opacity="0.9"/>
<path d="M7.7,268.6 L21.4,264.5 L35.0,260.5 L48.6,255.0 L62.3,249.5 L75.9,244.0 L89.5,238.6 L100.5,233.2 L105.9,223.6 L108.6,216.8 L116.8,211.4 L125.0,204.5 L130.4,196.4 L138.6,190.9 L145.5,185.0 L156.0,175.0 L167.0,163.0 L181.0,154.5 L194.5,149.0 L208.0,143.6 L221.8,139.5 L232.7,135.5 L234.0,128.6 L243.6,121.8 L252.0,113.6 L257.0,104.0 L261.0,97.7 L265.0,86.8 L269.0,75.9 L276.0,67.7 L281.4,59.5 L285.4,48.6 L288.2,35.0 L285.4,26.8 L282.7,15.9 L281.4,3.0" fill="none" stroke="#1a1a1a" stroke-width="0.8"/>
<path d="M7.5,268.0 L21.2,263.9 L34.8,259.9 L48.4,254.4 L62.1,248.9 L75.7,243.4 L89.3,238.1 L100.1,232.8 L105.4,223.3 L108.2,216.4 L116.4,210.9 L124.6,204.1 L130.0,196.0 L138.2,190.4 L145.1,184.6 L155.6,174.6 L166.6,162.5 L180.7,154.0 L194.3,148.4 L207.8,143.0 L221.6,138.9 L232.3,135.1 L233.5,128.2 L243.2,121.3 L251.5,113.2 L256.5,103.7 L260.5,97.4 L264.4,86.6 L268.5,75.6 L275.5,67.3 L280.9,59.2 L284.8,48.4 L287.6,35.0 L284.8,27.0 L282.1,16.0 L280.8,3.1" fill="none" stroke="#141414" stroke-width="2.1" stroke-linecap="round" stroke-dasharray="0.01 3.1"/>
<path d="M23.5,274.2 L37.2,268.7 L50.8,263.3 L58.9,257.7 L75.4,252.3 L86.1,247.0 L94.2,241.5 L101.1,237.4" fill="none" stroke="#e6e6e4" stroke-width="1.6" opacity="0.9"/>
<path d="M24.0,275.5 L37.7,270.0 L51.4,264.5 L59.5,259.0 L75.9,253.6 L86.8,248.2 L95.0,242.7 L101.8,238.6" fill="none" stroke="#1a1a1a" stroke-width="0.8"/>
<path d="M23.8,274.9 L37.5,269.4 L51.1,264.0 L59.3,258.5 L75.7,253.0 L86.5,247.7 L94.7,242.2 L101.5,238.1" fill="none" stroke="#141414" stroke-width="2.1" stroke-linecap="round" stroke-dasharray="0.01 3.1"/>
<path d="M100.9,237.6 L119.1,220.9 L134.1,211.0 L155.1,188.9 L171.9,177.8 L193.8,164.3 L210.5,157.3 L229.6,151.7" fill="none" stroke="#e6e6e4" stroke-width="1.6" opacity="0.9"/>
<path d="M101.8,238.6 L120.0,222.0 L135.0,212.0 L156.0,190.0 L172.7,179.0 L194.5,165.5 L211.0,158.6 L230.0,153.0" fill="none" stroke="#1a1a1a" stroke-width="0.8"/>
<path d="M101.4,238.2 L119.6,221.5 L134.6,211.6 L155.6,189.5 L172.4,178.5 L194.2,165.0 L210.8,158.0 L229.8,152.4" fill="none" stroke="#141414" stroke-width="2.1" stroke-linecap="round" stroke-dasharray="0.01 3.1"/>
<path d="M166.1,194.4 L180.3,183.3 L204.9,173.7 L215.6,168.2 L235.2,164.1" fill="none" stroke="#e6e6e4" stroke-width="1.6" opacity="0.9"/>
<path d="M167.0,195.5 L181.0,184.5 L205.5,175.0 L216.0,169.5 L235.5,165.5" fill="none" stroke="#1a1a1a" stroke-width="0.8"/>
<path d="M166.6,195.0 L180.7,184.0 L205.3,174.4 L215.8,168.9 L235.4,164.9" fill="none" stroke="#141414" stroke-width="2.1" stroke-linecap="round" stroke-dasharray="0.01 3.1"/>
<path d="M249.5,151.7 L259.2,147.8 L275.2,134.8 L284.3,131.1 L300.6,120.2 L316.9,109.4 L319.9,106.4 L329.2,98.0 L335.5,91.8 L341.7,85.5" fill="none" stroke="#e6e6e4" stroke-width="1.6" opacity="0.9"/>
<path d="M250.0,153.0 L260.0,149.0 L276.0,136.0 L285.0,132.3 L301.4,121.4 L317.7,110.5 L320.8,107.4 L330.2,99.0 L336.5,92.8 L342.7,86.5" fill="none" stroke="#1a1a1a" stroke-width="0.8"/>
<path d="M249.8,152.4 L259.7,148.5 L275.7,135.5 L284.7,131.8 L301.1,120.9 L317.3,110.0 L320.4,107.0 L329.8,98.6 L336.1,92.4 L342.3,86.1" fill="none" stroke="#141414" stroke-width="2.1" stroke-linecap="round" stroke-dasharray="0.01 3.1"/>
<path d="M258.3,204.4 L268.2,198.4 L280.2,192.4 L290.8,187.2 L301.7,179.0 L315.2,170.9 L331.6,162.7 L348.0,154.4 L361.8,143.6 L369.9,132.5 L372.8,121.5" fill="none" stroke="#f2f2f0" stroke-width="3.0" stroke-linecap="round" stroke-dasharray="0.01 3.3"/>
<path d="M258.8,205.3 L268.7,199.3 L280.7,193.3 L291.3,188.1 L302.2,179.8 L315.7,171.8 L332.1,163.6 L348.5,155.3 L362.5,144.3 L370.8,133.0 L373.8,121.8" fill="none" stroke="#141414" stroke-width="1.7" stroke-linecap="round" stroke-dasharray="0.01 3.3" stroke-dashoffset="1.65"/>
<path d="M291.4,106.6 L298.8,96.1 L306.1,87.7" fill="none" stroke="#e6e6e4" stroke-width="1.6" opacity="0.9"/>
<path d="M292.5,107.4 L299.9,97.0 L307.2,88.6" fill="none" stroke="#1a1a1a" stroke-width="0.8"/>
<path d="M292.0,107.1 L299.4,96.6 L306.7,88.2" fill="none" stroke="#141414" stroke-width="2.1" stroke-linecap="round" stroke-dasharray="0.01 3.1"/>
<path d="M298.7,75.2 L302.8,69.0 L308.1,60.7 L314.3,50.2 L320.7,41.8" fill="none" stroke="#e6e6e4" stroke-width="1.6" opacity="0.9"/>
<path d="M299.9,76.0 L304.0,69.8 L309.3,61.4 L315.5,51.0 L321.8,42.6" fill="none" stroke="#1a1a1a" stroke-width="0.8"/>
<path d="M299.4,75.7 L303.5,69.5 L308.8,61.1 L315.0,50.7 L321.3,42.2" fill="none" stroke="#141414" stroke-width="2.1" stroke-linecap="round" stroke-dasharray="0.01 3.1"/>
<path d="M280.7,92.4 L285.0,77.8 L289.2,67.1 L294.4,56.9 L295.3,46.8 L294.3,43.4 L297.6,37.8 L302.7,29.6 L303.6,17.5 L302.6,5.1" fill="none" stroke="#e6e6e4" stroke-width="1.6" opacity="0.9"/>
<path d="M282.0,92.8 L286.3,78.2 L290.5,67.7 L295.7,57.3 L296.7,46.8 L295.7,43.7 L298.8,38.5 L304.0,30.0 L305.0,17.5 L304.0,5.0" fill="none" stroke="#1a1a1a" stroke-width="0.8"/>
<path d="M281.4,92.6 L285.7,78.0 L290.0,67.5 L295.1,57.1 L296.1,46.8 L295.1,43.6 L298.3,38.2 L303.4,29.8 L304.4,17.5 L303.4,5.0" fill="none" stroke="#141414" stroke-width="2.1" stroke-linecap="round" stroke-dasharray="0.01 3.1"/>
<path d="M272.0,98.1 L280.3,88.7 L288.2,75.4 L293.7,59.1" fill="none" stroke="#e6e6e4" stroke-width="1.6" opacity="0.9"/>
<path d="M273.0,99.0 L281.4,89.5 L289.5,76.0 L295.0,59.5" fill="none" stroke="#1a1a1a" stroke-width="0.8"/>
<path d="M272.6,98.6 L280.9,89.2 L289.0,75.8 L294.4,59.3" fill="none" stroke="#141414" stroke-width="2.1" stroke-linecap="round" stroke-dasharray="0.01 3.1"/>
<path d="M238.9,136.1 L246.9,126.1 L255.0,117.1 L261.9,109.1 L269.0,100.0 L279.0,91.0 L287.0,83.0" fill="none" stroke="#e6e6e4" stroke-width="1.6" opacity="0.9"/>
<path d="M240.0,137.0 L248.0,127.0 L256.0,118.0 L263.0,110.0 L270.0,101.0 L280.0,92.0 L288.0,84.0" fill="none" stroke="#1a1a1a" stroke-width="0.8"/>
<path d="M239.5,136.6 L247.5,126.6 L255.6,117.6 L262.5,109.6 L269.6,100.6 L279.6,91.6 L287.6,83.6" fill="none" stroke="#141414" stroke-width="2.1" stroke-linecap="round" stroke-dasharray="0.01 3.1"/>
<path d="M258.1,104.8 L259.6,94.8 L260.9,81.3 L262.2,66.3" fill="none" stroke="#e6e6e4" stroke-width="1.6" opacity="0.9"/>
<path d="M259.5,105.0 L261.0,95.0 L262.3,81.4 L263.6,66.4" fill="none" stroke="#1a1a1a" stroke-width="0.8"/>
<path d="M258.9,104.9 L260.4,94.9 L261.7,81.3 L263.0,66.3" fill="none" stroke="#141414" stroke-width="2.1" stroke-linecap="round" stroke-dasharray="0.01 3.1"/>
<path d="M321.1,107.8 L330.5,99.4 L336.9,93.2 L343.1,86.9" fill="none" stroke="#f2f2f0" stroke-width="3.0" stroke-linecap="round" stroke-dasharray="0.01 3.3"/>
<path d="M321.8,108.5 L331.2,100.1 L337.6,93.9 L343.8,87.6" fill="none" stroke="#141414" stroke-width="1.7" stroke-linecap="round" stroke-dasharray="0.01 3.3" stroke-dashoffset="1.65"/>
<path d="M312.6,195.4 L326.2,187.2 L339.7,181.9 L353.2,176.5 L366.9,172.3 L380.6,168.2" fill="none" stroke="#f2f2f0" stroke-width="3.0" stroke-linecap="round" stroke-dasharray="0.01 3.3"/>
<path d="M313.1,196.3 L326.7,188.1 L340.1,182.8 L353.5,177.4 L367.2,173.2 L380.9,169.1" fill="none" stroke="#141414" stroke-width="1.7" stroke-linecap="round" stroke-dasharray="0.01 3.3" stroke-dashoffset="1.65"/>
<path d="M364.3,203.4 L372.5,198.1 L386.2,192.8 L397.0,187.2" fill="none" stroke="#f2f2f0" stroke-width="3.0" stroke-linecap="round" stroke-dasharray="0.01 3.3"/>
<path d="M364.8,204.3 L373.0,199.0 L386.6,193.7 L397.5,188.1" fill="none" stroke="#141414" stroke-width="1.7" stroke-linecap="round" stroke-dasharray="0.01 3.3" stroke-dashoffset="1.65"/>
<path d="M394.4,187.2 L399.9,181.7 L405.4,170.7" fill="none" stroke="#f2f2f0" stroke-width="3.0" stroke-linecap="round" stroke-dasharray="0.01 3.3"/>
<path d="M395.1,187.9 L400.7,182.2 L406.3,171.2" fill="none" stroke="#141414" stroke-width="1.7" stroke-linecap="round" stroke-dasharray="0.01 3.3" stroke-dashoffset="1.65"/>
<path d="M293.6,157.1 L301.8,146.3 L309.9,135.3" fill="none" stroke="#f2f2f0" stroke-width="3.0" stroke-linecap="round" stroke-dasharray="0.01 3.3"/>
<path d="M294.4,157.7 L302.6,146.9 L310.7,135.9" fill="none" stroke="#141414" stroke-width="1.7" stroke-linecap="round" stroke-dasharray="0.01 3.3" stroke-dashoffset="1.65"/>
<path d="M145.1,201.5 L170.1,195.5 L199.1,188.5" fill="none" stroke="#f2f2f0" stroke-width="3.0" stroke-linecap="round" stroke-dasharray="0.01 3.3"/>
<path d="M145.4,202.5 L170.4,196.5 L199.4,189.5" fill="none" stroke="#141414" stroke-width="1.7" stroke-linecap="round" stroke-dasharray="0.01 3.3" stroke-dashoffset="1.65"/>
<path d="M161.1,207.5 L190.1,199.5 L224.1,191.0" fill="none" stroke="#f2f2f0" stroke-width="3.0" stroke-linecap="round" stroke-dasharray="0.01 3.3"/>
<path d="M161.4,208.4 L190.4,200.5 L224.4,192.0" fill="none" stroke="#141414" stroke-width="1.7" stroke-linecap="round" stroke-dasharray="0.01 3.3" stroke-dashoffset="1.65"/>
<path d="M229.2,196.5 L245.2,190.5 L260.2,185.5" fill="none" stroke="#f2f2f0" stroke-width="3.0" stroke-linecap="round" stroke-dasharray="0.01 3.3"/>
<path d="M229.5,197.4 L245.5,191.4 L260.5,186.4" fill="none" stroke="#141414" stroke-width="1.7" stroke-linecap="round" stroke-dasharray="0.01 3.3" stroke-dashoffset="1.65"/>
<path d="M164.2,237.5 L185.2,228.5 L205.2,218.4" fill="none" stroke="#f2f2f0" stroke-width="3.0" stroke-linecap="round" stroke-dasharray="0.01 3.3"/>
<path d="M164.6,238.4 L185.6,229.4 L205.7,219.3" fill="none" stroke="#141414" stroke-width="1.7" stroke-linecap="round" stroke-dasharray="0.01 3.3" stroke-dashoffset="1.65"/>
<path d="M221.2,229.5 L245.2,218.5 L268.2,207.5" fill="none" stroke="#f2f2f0" stroke-width="3.0" stroke-linecap="round" stroke-dasharray="0.01 3.3"/>
<path d="M221.6,230.4 L245.6,219.4 L268.6,208.4" fill="none" stroke="#141414" stroke-width="1.7" stroke-linecap="round" stroke-dasharray="0.01 3.3" stroke-dashoffset="1.65"/>
<path d="M145.2,256.5 L162.2,250.5 L180.2,244.5 L200.1,238.5 L216.1,234.5" fill="none" stroke="#f2f2f0" stroke-width="3.0" stroke-linecap="round" stroke-dasharray="0.01 3.3"/>
<path d="M145.5,257.4 L162.5,251.4 L180.5,245.4 L200.4,239.4 L216.4,235.5" fill="none" stroke="#141414" stroke-width="1.7" stroke-linecap="round" stroke-dasharray="0.01 3.3" stroke-dashoffset="1.65"/>
<path d="M186.2,261.5 L210.2,253.5 L227.2,248.5 L245.2,240.5 L260.2,234.5 L280.2,226.5 L295.2,220.5" fill="none" stroke="#f2f2f0" stroke-width="3.0" stroke-linecap="round" stroke-dasharray="0.01 3.3"/>
<path d="M186.5,262.4 L210.5,254.4 L227.5,249.4 L245.6,241.4 L260.6,235.4 L280.6,227.4 L295.6,221.4" fill="none" stroke="#141414" stroke-width="1.7" stroke-linecap="round" stroke-dasharray="0.01 3.3" stroke-dashoffset="1.65"/>
<path d="M153.1,280.5 L175.1,274.5 L200.1,267.5" fill="none" stroke="#f2f2f0" stroke-width="3.0" stroke-linecap="round" stroke-dasharray="0.01 3.3"/>
<path d="M153.4,281.4 L175.4,275.4 L200.4,268.4" fill="none" stroke="#141414" stroke-width="1.7" stroke-linecap="round" stroke-dasharray="0.01 3.3" stroke-dashoffset="1.65"/>
<path d="M230.2,275.5 L245.2,268.5 L260.2,261.5 L280.2,254.5 L295.2,248.5" fill="none" stroke="#f2f2f0" stroke-width="3.0" stroke-linecap="round" stroke-dasharray="0.01 3.3"/>
<path d="M230.6,276.4 L245.6,269.4 L260.6,262.4 L280.5,255.4 L295.6,249.4" fill="none" stroke="#141414" stroke-width="1.7" stroke-linecap="round" stroke-dasharray="0.01 3.3" stroke-dashoffset="1.65"/>
<path d="M200.1,283.5 L220.1,280.5 L235.1,278.5" fill="none" stroke="#f2f2f0" stroke-width="3.0" stroke-linecap="round" stroke-dasharray="0.01 3.3"/>
<path d="M200.2,284.5 L220.2,281.5 L235.2,279.5" fill="none" stroke="#141414" stroke-width="1.7" stroke-linecap="round" stroke-dasharray="0.01 3.3" stroke-dashoffset="1.65"/>
<path d="M145.2,277.8 L161.6,272.3 L177.8,266.9 L199.7,261.5 L210.7,255.9" fill="none" stroke="#f2f2f0" stroke-width="3.0" stroke-linecap="round" stroke-dasharray="0.01 3.3"/>
<path d="M145.5,278.7 L161.9,273.2 L178.1,267.8 L200.0,262.4 L211.2,256.8" fill="none" stroke="#141414" stroke-width="1.7" stroke-linecap="round" stroke-dasharray="0.01 3.3" stroke-dashoffset="1.65"/>
<path d="M145.1,291.5 L172.4,286.0 L194.1,280.5 L216.2,275.0 L232.5,266.8 L254.2,255.9 L265.2,250.4" fill="none" stroke="#f2f2f0" stroke-width="3.0" stroke-linecap="round" stroke-dasharray="0.01 3.3"/>
<path d="M145.3,292.5 L172.6,287.0 L194.4,281.5 L216.5,275.9 L233.0,267.7 L254.7,256.8 L265.7,251.3" fill="none" stroke="#141414" stroke-width="1.7" stroke-linecap="round" stroke-dasharray="0.01 3.3" stroke-dashoffset="1.65"/>
<path d="M180.7,302.3 L199.7,294.0 L216.2,283.1 L227.0,280.5 L254.2,269.5 L267.9,264.1" fill="none" stroke="#f2f2f0" stroke-width="3.0" stroke-linecap="round" stroke-dasharray="0.01 3.3"/>
<path d="M181.1,303.2 L200.2,294.9 L216.7,284.0 L227.3,281.4 L254.6,270.4 L268.3,265.0" fill="none" stroke="#141414" stroke-width="1.7" stroke-linecap="round" stroke-dasharray="0.01 3.3" stroke-dashoffset="1.65"/>
<path d="M153.6,326.7 L161.8,313.0 L172.7,302.2" fill="none" stroke="#f2f2f0" stroke-width="3.0" stroke-linecap="round" stroke-dasharray="0.01 3.3"/>
<path d="M154.5,327.2 L162.6,313.6 L173.4,302.9" fill="none" stroke="#141414" stroke-width="1.7" stroke-linecap="round" stroke-dasharray="0.01 3.3" stroke-dashoffset="1.65"/>
<path d="M262.6,294.0 L276.2,286.0 L295.1,280.5" fill="none" stroke="#f2f2f0" stroke-width="3.0" stroke-linecap="round" stroke-dasharray="0.01 3.3"/>
<path d="M263.1,294.9 L276.6,286.9 L295.4,281.4" fill="none" stroke="#141414" stroke-width="1.7" stroke-linecap="round" stroke-dasharray="0.01 3.3" stroke-dashoffset="1.65"/>
<path d="M221.7,329.4 L232.6,321.4 L243.4,316.0 L260.2,308.5" fill="none" stroke="#f2f2f0" stroke-width="3.0" stroke-linecap="round" stroke-dasharray="0.01 3.3"/>
<path d="M222.3,330.2 L233.1,322.3 L243.8,316.9 L260.6,309.4" fill="none" stroke="#141414" stroke-width="1.7" stroke-linecap="round" stroke-dasharray="0.01 3.3" stroke-dashoffset="1.65"/>
<path d="M265.2,326.8 L281.6,318.7 L295.2,313.2" fill="none" stroke="#f2f2f0" stroke-width="3.0" stroke-linecap="round" stroke-dasharray="0.01 3.3"/>
<path d="M265.7,327.7 L282.0,319.6 L295.6,314.1" fill="none" stroke="#141414" stroke-width="1.7" stroke-linecap="round" stroke-dasharray="0.01 3.3" stroke-dashoffset="1.65"/>
<path d="M273.1,266.9 L295.1,261.5" fill="none" stroke="#f2f2f0" stroke-width="3.0" stroke-linecap="round" stroke-dasharray="0.01 3.3"/>
<path d="M273.4,267.9 L295.4,262.5" fill="none" stroke="#141414" stroke-width="1.7" stroke-linecap="round" stroke-dasharray="0.01 3.3" stroke-dashoffset="1.65"/>
<path d="M331.7,236.4 L348.0,222.7 L367.1,210.4 L388.9,195.4" fill="none" stroke="#f2f2f0" stroke-width="3.0" stroke-linecap="round" stroke-dasharray="0.01 3.3"/>
<path d="M332.4,237.1 L348.6,223.5 L367.6,211.2 L389.5,196.2" fill="none" stroke="#141414" stroke-width="1.7" stroke-linecap="round" stroke-dasharray="0.01 3.3" stroke-dashoffset="1.65"/>
<path d="M285.2,216.0 L301.6,210.5 L317.9,203.7" fill="none" stroke="#f2f2f0" stroke-width="3.0" stroke-linecap="round" stroke-dasharray="0.01 3.3"/>
<path d="M285.5,216.9 L301.9,211.4 L318.3,204.6" fill="none" stroke="#141414" stroke-width="1.7" stroke-linecap="round" stroke-dasharray="0.01 3.3" stroke-dashoffset="1.65"/>
<path d="M312.5,260.9 L334.2,250.0 L353.4,241.8 L375.2,228.2 L394.1,222.8 L410.7,217.3" fill="none" stroke="#f2f2f0" stroke-width="3.0" stroke-linecap="round" stroke-dasharray="0.01 3.3"/>
<path d="M313.0,261.8 L334.6,250.9 L353.9,242.7 L375.6,229.1 L394.4,223.7 L411.0,218.2" fill="none" stroke="#141414" stroke-width="1.7" stroke-linecap="round" stroke-dasharray="0.01 3.3" stroke-dashoffset="1.65"/>
<path d="M345.3,277.2 L361.7,266.4 L375.2,255.4 L394.2,250.0 L413.4,241.9 L424.2,236.4" fill="none" stroke="#f2f2f0" stroke-width="3.0" stroke-linecap="round" stroke-dasharray="0.01 3.3"/>
<path d="M345.8,278.1 L362.3,267.2 L375.7,256.3 L394.5,250.9 L413.8,242.8 L424.7,237.3" fill="none" stroke="#141414" stroke-width="1.7" stroke-linecap="round" stroke-dasharray="0.01 3.3" stroke-dashoffset="1.65"/>
<path d="M383.2,261.0 L399.7,255.5 L416.2,250.0" fill="none" stroke="#f2f2f0" stroke-width="3.0" stroke-linecap="round" stroke-dasharray="0.01 3.3"/>
<path d="M383.5,261.9 L400.0,256.4 L416.5,250.9" fill="none" stroke="#141414" stroke-width="1.7" stroke-linecap="round" stroke-dasharray="0.01 3.3" stroke-dashoffset="1.65"/>
<path d="M369.8,219.9 L383.3,211.8 L391.7,203.6" fill="none" stroke="#f2f2f0" stroke-width="3.0" stroke-linecap="round" stroke-dasharray="0.01 3.3"/>
<path d="M370.3,220.8 L383.9,212.6 L392.4,204.3" fill="none" stroke="#141414" stroke-width="1.7" stroke-linecap="round" stroke-dasharray="0.01 3.3" stroke-dashoffset="1.65"/>
<path d="M285.2,231.0 L301.6,225.5 L312.5,219.9" fill="none" stroke="#f2f2f0" stroke-width="3.0" stroke-linecap="round" stroke-dasharray="0.01 3.3"/>
<path d="M285.5,231.9 L302.0,226.4 L313.0,220.8" fill="none" stroke="#141414" stroke-width="1.7" stroke-linecap="round" stroke-dasharray="0.01 3.3" stroke-dashoffset="1.65"/>
<path d="M380.8,295.4 L399.7,282.7 L413.4,277.3 L435.2,266.4" fill="none" stroke="#f2f2f0" stroke-width="3.0" stroke-linecap="round" stroke-dasharray="0.01 3.3"/>
<path d="M381.3,296.2 L400.2,283.6 L413.8,278.2 L435.7,267.3" fill="none" stroke="#141414" stroke-width="1.7" stroke-linecap="round" stroke-dasharray="0.01 3.3" stroke-dashoffset="1.65"/>
<path d="M416.2,271.9 L435.2,263.5" fill="none" stroke="#f2f2f0" stroke-width="3.0" stroke-linecap="round" stroke-dasharray="0.01 3.3"/>
<path d="M416.6,272.8 L435.6,264.4" fill="none" stroke="#141414" stroke-width="1.7" stroke-linecap="round" stroke-dasharray="0.01 3.3" stroke-dashoffset="1.65"/>
<path d="M395.2,310.4 L415.2,300.5 L435.2,292.5" fill="none" stroke="#f2f2f0" stroke-width="3.0" stroke-linecap="round" stroke-dasharray="0.01 3.3"/>
<path d="M395.7,311.3 L415.6,301.4 L435.6,293.4" fill="none" stroke="#141414" stroke-width="1.7" stroke-linecap="round" stroke-dasharray="0.01 3.3" stroke-dashoffset="1.65"/>
<path d="M300.2,300.5 L320.2,292.5 L340.1,287.5" fill="none" stroke="#f2f2f0" stroke-width="3.0" stroke-linecap="round" stroke-dasharray="0.01 3.3"/>
<path d="M300.6,301.4 L320.5,293.4 L340.4,288.5" fill="none" stroke="#141414" stroke-width="1.7" stroke-linecap="round" stroke-dasharray="0.01 3.3" stroke-dashoffset="1.65"/>
<path d="M32.3,285.5 L46.0,282.7 L56.8,278.6" fill="none" stroke="#161616" stroke-width="0.8"/>
<path d="M32.1,284.6 L45.8,281.8 L56.5,277.8" fill="none" stroke="#161616" stroke-width="2.0" stroke-dasharray="1.3 1.9"/>
<path d="M59.7,266.8 L70.8,261.4 L81.7,253.1" fill="none" stroke="#f2f2f0" stroke-width="3.0" stroke-linecap="round" stroke-dasharray="0.01 3.3"/>
<path d="M60.2,267.7 L71.3,262.3 L82.3,253.9" fill="none" stroke="#141414" stroke-width="1.7" stroke-linecap="round" stroke-dasharray="0.01 3.3" stroke-dashoffset="1.65"/>
<path d="M70.7,281.9 L87.0,276.5 L100.6,272.3" fill="none" stroke="#f2f2f0" stroke-width="3.0" stroke-linecap="round" stroke-dasharray="0.01 3.3"/>
<path d="M71.0,282.8 L87.3,277.4 L100.9,273.2" fill="none" stroke="#141414" stroke-width="1.7" stroke-linecap="round" stroke-dasharray="0.01 3.3" stroke-dashoffset="1.65"/>
<path d="M24.0,301.8 L46.0,296.4 L70.5,296.4" fill="none" stroke="#161616" stroke-width="0.8"/>
<path d="M23.8,300.9 L45.9,295.5 L70.5,295.5" fill="none" stroke="#161616" stroke-width="2.0" stroke-dasharray="1.3 1.9"/>
<path d="M56.8,304.5 L75.9,301.8 L81.4,299.0" fill="none" stroke="#161616" stroke-width="0.8"/>
<path d="M56.7,303.6 L75.7,300.9 L81.0,298.2" fill="none" stroke="#161616" stroke-width="2.0" stroke-dasharray="1.3 1.9"/>
<path d="M84.2,293.4 L100.2,285.4 L118.2,276.4" fill="none" stroke="#f2f2f0" stroke-width="3.0" stroke-linecap="round" stroke-dasharray="0.01 3.3"/>
<path d="M84.7,294.3 L100.7,286.3 L118.7,277.3" fill="none" stroke="#141414" stroke-width="1.7" stroke-linecap="round" stroke-dasharray="0.01 3.3" stroke-dashoffset="1.65"/>
<path d="M76.2,287.5 L88.2,283.5 L96.2,279.4" fill="none" stroke="#f2f2f0" stroke-width="3.0" stroke-linecap="round" stroke-dasharray="0.01 3.3"/>
<path d="M76.5,288.4 L88.6,284.4 L96.7,280.3" fill="none" stroke="#141414" stroke-width="1.7" stroke-linecap="round" stroke-dasharray="0.01 3.3" stroke-dashoffset="1.65"/>
<path d="M97.3,309.4 L108.3,299.4 L120.4,287.4" fill="none" stroke="#f2f2f0" stroke-width="3.0" stroke-linecap="round" stroke-dasharray="0.01 3.3"/>
<path d="M98.0,310.1 L109.0,300.1 L121.1,288.1" fill="none" stroke="#141414" stroke-width="1.7" stroke-linecap="round" stroke-dasharray="0.01 3.3" stroke-dashoffset="1.65"/>
<path d="M104.3,320.4 L115.3,310.4 L126.3,300.4" fill="none" stroke="#f2f2f0" stroke-width="3.0" stroke-linecap="round" stroke-dasharray="0.01 3.3"/>
<path d="M105.0,321.1 L116.0,311.1 L127.0,301.1" fill="none" stroke="#141414" stroke-width="1.7" stroke-linecap="round" stroke-dasharray="0.01 3.3" stroke-dashoffset="1.65"/>
<path d="M67.7,320.9 L86.8,316.8" fill="none" stroke="#161616" stroke-width="0.8"/>
<path d="M67.5,320.0 L86.6,315.9" fill="none" stroke="#161616" stroke-width="2.0" stroke-dasharray="1.3 1.9"/>
<path d="M136.3,278.4 L145.3,272.4 L153.3,265.4" fill="none" stroke="#f2f2f0" stroke-width="3.0" stroke-linecap="round" stroke-dasharray="0.01 3.3"/>
<path d="M136.8,279.2 L145.9,273.2 L154.0,266.1" fill="none" stroke="#141414" stroke-width="1.7" stroke-linecap="round" stroke-dasharray="0.01 3.3" stroke-dashoffset="1.65"/>
<path d="M138.4,300.4 L146.3,292.4 L155.3,285.4" fill="none" stroke="#f2f2f0" stroke-width="3.0" stroke-linecap="round" stroke-dasharray="0.01 3.3"/>
<path d="M139.1,301.1 L147.0,293.1 L155.9,286.2" fill="none" stroke="#141414" stroke-width="1.7" stroke-linecap="round" stroke-dasharray="0.01 3.3" stroke-dashoffset="1.65"/>
<path d="M141.6,305.0 L155.2,299.5" fill="none" stroke="#f2f2f0" stroke-width="3.0" stroke-linecap="round" stroke-dasharray="0.01 3.3"/>
<path d="M142.0,305.9 L155.6,300.4" fill="none" stroke="#141414" stroke-width="1.7" stroke-linecap="round" stroke-dasharray="0.01 3.3" stroke-dashoffset="1.65"/>
<path d="M107.5,238.7 L117.4,234.7 L129.5,228.7 L144.5,223.7 L154.5,219.7" fill="none" stroke="#e6e6e4" stroke-width="1.6" opacity="0.9"/>
<path d="M108.0,240.0 L118.0,236.0 L130.0,230.0 L145.0,225.0 L155.0,221.0" fill="none" stroke="#1a1a1a" stroke-width="0.8"/>
<path d="M107.8,239.4 L117.8,235.5 L129.8,229.4 L144.8,224.4 L154.8,220.4" fill="none" stroke="#141414" stroke-width="2.1" stroke-linecap="round" stroke-dasharray="0.01 3.1"/>
<path d="M110.1,250.5 L125.2,246.5 L140.2,240.5 L155.2,234.5" fill="none" stroke="#f2f2f0" stroke-width="3.0" stroke-linecap="round" stroke-dasharray="0.01 3.3"/>
<path d="M110.4,251.4 L125.5,247.4 L140.6,241.4 L155.6,235.4" fill="none" stroke="#141414" stroke-width="1.7" stroke-linecap="round" stroke-dasharray="0.01 3.3" stroke-dashoffset="1.65"/>
<path d="M121.8,216.9 L135.5,211.4 L154.4,203.2" fill="none" stroke="#e6e6e4" stroke-width="1.6" opacity="0.9"/>
<path d="M122.3,218.2 L136.0,212.7 L155.0,204.5" fill="none" stroke="#1a1a1a" stroke-width="0.8"/>
<path d="M122.1,217.6 L135.8,212.1 L154.8,203.9" fill="none" stroke="#141414" stroke-width="2.1" stroke-linecap="round" stroke-dasharray="0.01 3.1"/>
<path d="M124.5,226.4 L140.9,219.7 L154.5,214.2" fill="none" stroke="#e6e6e4" stroke-width="1.6" opacity="0.9"/>
<path d="M125.0,227.7 L141.4,221.0 L155.0,215.5" fill="none" stroke="#1a1a1a" stroke-width="0.8"/>
<path d="M124.8,227.1 L141.2,220.4 L154.8,214.9" fill="none" stroke="#141414" stroke-width="2.1" stroke-linecap="round" stroke-dasharray="0.01 3.1"/>
<path d="M10.0,285.0 L30.0,281.0 L50.0,278.0" fill="none" stroke="#161616" stroke-width="0.8"/>
<path d="M9.8,284.1 L29.8,280.1 L49.9,277.1" fill="none" stroke="#161616" stroke-width="2.0" stroke-dasharray="1.3 1.9"/>
<path d="M22.0,292.0 L40.0,290.0 L60.0,289.0" fill="none" stroke="#161616" stroke-width="0.8"/>
<path d="M21.9,291.1 L39.9,289.1 L60.0,288.1" fill="none" stroke="#161616" stroke-width="2.0" stroke-dasharray="1.3 1.9"/>
<path d="M8.0,318.0 L30.0,314.0 L55.0,310.0" fill="none" stroke="#161616" stroke-width="0.8"/>
<path d="M7.8,317.1 L29.8,313.1 L54.9,309.1" fill="none" stroke="#161616" stroke-width="2.0" stroke-dasharray="1.3 1.9"/>
<path d="M30.0,325.0 L50.0,322.0 L66.0,318.0" fill="none" stroke="#161616" stroke-width="0.8"/>
<path d="M29.9,324.1 L49.8,321.1 L65.8,317.1" fill="none" stroke="#161616" stroke-width="2.0" stroke-dasharray="1.3 1.9"/>
<path d="M10.0,310.0 L40.0,305.0" fill="none" stroke="#161616" stroke-width="0.8"/>
<path d="M9.9,309.1 L39.9,304.1" fill="none" stroke="#161616" stroke-width="2.0" stroke-dasharray="1.3 1.9"/>
<path d="M344.4,125.3 L350.4,116.2 L355.4,105.2 L360.4,98.3" fill="none" stroke="#f2f2f0" stroke-width="3.0" stroke-linecap="round" stroke-dasharray="0.01 3.3"/>
<path d="M345.2,125.8 L351.3,116.7 L356.3,105.7 L361.2,98.9" fill="none" stroke="#141414" stroke-width="1.7" stroke-linecap="round" stroke-dasharray="0.01 3.3" stroke-dashoffset="1.65"/>
<path d="M396.0,104.0 L404.0,96.0" fill="none" stroke="#161616" stroke-width="0.8"/>
<path d="M395.4,103.4 L403.4,95.4" fill="none" stroke="#161616" stroke-width="2.0" stroke-dasharray="1.3 1.9"/>
<path d="M335.4,51.0 L340.6,61.4 L346.9,67.7 L352.1,74.0 L355.3,82.4 L363.6,90.7 L372.0,99.0 L376.2,112.0 L386.0,121.4 L394.0,132.3 L396.8,140.5" fill="none" stroke="#141414" stroke-width="1.8" stroke-dasharray="3.6 1.5 1.1 1.5" />
<path d="M407.7,170.5 L413.2,184.0 L421.4,197.7 L426.8,205.0 L433.6,211.4" fill="none" stroke="#141414" stroke-width="1.8" stroke-dasharray="3.6 1.5 1.1 1.5" />
<path d="M394.0,163.6 L407.7,163.6" fill="none" stroke="#141414" stroke-width="1.8" stroke-dasharray="3.6 1.5 1.1 1.5" />
<path d="M101.8,215.5 L103.2,229.0 L106.0,242.7 L108.6,256.4 L112.7,264.5 L115.5,272.7 L116.8,280.0 L125.0,285.5 L136.0,288.2 L138.6,301.8 L141.4,312.7 L155.0,318.2" fill="none" stroke="#141414" stroke-width="1.8" stroke-dasharray="3.6 1.5 1.1 1.5" />
<path d="M66.4,280.0 L73.2,291.0 L81.4,301.8 L89.5,310.0 L97.7,315.5 L103.2,323.6 L106.0,330.0" fill="none" stroke="#141414" stroke-width="1.8" stroke-dasharray="3.6 1.5 1.1 1.5" />
<path d="M84.0,308.6 L95.0,306.0" fill="none" stroke="#141414" stroke-width="1.8" stroke-dasharray="3.6 1.5 1.1 1.5" />
<path d="M205.0,215.0 L210.5,234.0 L218.6,250.5 L224.0,264.0 L226.8,277.7 L235.0,280.0 L243.2,285.5 L246.0,299.0 L248.6,304.5" fill="none" stroke="#141414" stroke-width="1.8" stroke-dasharray="3.6 1.5 1.1 1.5" />
<path d="M265.0,223.2 L267.7,239.5 L273.0,256.0" fill="none" stroke="#141414" stroke-width="1.8" stroke-dasharray="3.6 1.5 1.1 1.5" />
<path d="M286.8,277.3 L284.0,291.0 L281.4,304.5" fill="none" stroke="#141414" stroke-width="1.8" stroke-dasharray="3.6 1.5 1.1 1.5" />
<path d="M317.7,203.2 L319.0,219.5 L320.5,244.0" fill="none" stroke="#141414" stroke-width="1.8" stroke-dasharray="3.6 1.5 1.1 1.5" />
<path d="M301.4,236.0 L296.0,249.5 L290.5,263.0 L287.7,282.3" fill="none" stroke="#141414" stroke-width="1.8" stroke-dasharray="3.6 1.5 1.1 1.5" />
<path d="M418.6,195.0 L426.8,206.0 L433.6,211.4" fill="none" stroke="#141414" stroke-width="1.8" stroke-dasharray="3.6 1.5 1.1 1.5" />
<path d="M320.0,300.0 L322.0,315.0 L323.0,328.0" fill="none" stroke="#141414" stroke-width="1.8" stroke-dasharray="3.6 1.5 1.1 1.5" />
<path d="M67.7,241.4 L75.9,231.8 L84.0,226.4 L95.0,221.0" fill="none" stroke="#555" stroke-width="0.8" stroke-dasharray="2.5 1.5" />
<path d="M183.0,212.0 L195.0,205.0 L205.0,200.0" fill="none" stroke="#555" stroke-width="0.8" stroke-dasharray="2.5 1.5" />
</g>
<path d="M5.5,5 H390 V110.5 H434.5 V330.5 H5.5 Z" fill="none" stroke="#6a6a6a" stroke-width="0.8"/>
<line x1="231.6" y1="118.9" x2="294" y2="198" stroke="#1a62e4" stroke-width="2.1" stroke-dasharray="5.5 1.4 1.3 1.4"/>
<rect x="216.3" y="306" width="213.2" height="12.6" fill="#fff"/>
<rect x="218.5" y="313.8" width="204.5" height="3.7" fill="#111"/>
<rect x="259" y="315" width="41" height="1.5" fill="#fff"/>
<rect x="341" y="315" width="41" height="1.5" fill="#fff"/>
</svg>
<div class="t" style="left:218.8px;top:306.6px;font-size:6.3px;color:#111;transform:translateX(-50%)">0</div>
<div class="t" style="left:259px;top:306.6px;font-size:6.3px;color:#111;transform:translateX(-50%)">100</div>
<div class="t" style="left:300px;top:306.6px;font-size:6.3px;color:#111;transform:translateX(-50%)">200</div>
<div class="t" style="left:341px;top:306.6px;font-size:6.3px;color:#111;transform:translateX(-50%)">300</div>
<div class="t" style="left:382px;top:306.6px;font-size:6.3px;color:#111;transform:translateX(-50%)">400</div>
<div class="t" style="left:423px;top:306.6px;font-size:6.3px;color:#111;transform:translateX(-50%)">500</div>
<div class="t" style="left:424.6px;top:313.2px;font-size:5px;color:#111">m</div>
<svg width="440" height="335" style="left:0;top:0"><defs><filter id="lh" x="-30%" y="-30%" width="160%" height="160%"><feGaussianBlur stdDeviation="0.8"/></filter></defs>
<rect x="251.0" y="17.6" width="11" height="6.8" rx="2.5" fill="#fff" opacity="0.75" filter="url(#lh)"/>
<rect x="229.8" y="92.6" width="11" height="6.8" rx="2.5" fill="#fff" opacity="0.75" filter="url(#lh)"/>
<rect x="262.5" y="124.2" width="11" height="6.8" rx="2.5" fill="#fff" opacity="0.75" filter="url(#lh)"/>
<rect x="277.8" y="175.1" width="11" height="6.8" rx="2.5" fill="#fff" opacity="0.75" filter="url(#lh)"/>
<rect x="271.7" y="185.0" width="11" height="6.8" rx="2.5" fill="#fff" opacity="0.75" filter="url(#lh)"/>
<rect x="295.2" y="178.0" width="11" height="6.8" rx="2.5" fill="#fff" opacity="0.75" filter="url(#lh)"/>
<rect x="270.8" y="194.1" width="11" height="6.8" rx="2.5" fill="#fff" opacity="0.75" filter="url(#lh)"/>
<rect x="257.5" y="206.3" width="11" height="6.8" rx="2.5" fill="#fff" opacity="0.75" filter="url(#lh)"/>
<rect x="326.9" y="209.0" width="11" height="6.8" rx="2.5" fill="#fff" opacity="0.75" filter="url(#lh)"/>
<rect x="212.7" y="216.6" width="11" height="6.8" rx="2.5" fill="#fff" opacity="0.75" filter="url(#lh)"/>
<rect x="229.0" y="228.0" width="11" height="6.8" rx="2.5" fill="#fff" opacity="0.75" filter="url(#lh)"/>
<rect x="182.7" y="231.4" width="11" height="6.8" rx="2.5" fill="#fff" opacity="0.75" filter="url(#lh)"/>
<rect x="169.5" y="242.6" width="11" height="6.8" rx="2.5" fill="#fff" opacity="0.75" filter="url(#lh)"/>
<rect x="181.5" y="255.8" width="11" height="6.8" rx="2.5" fill="#fff" opacity="0.75" filter="url(#lh)"/>
<rect x="160.0" y="260.8" width="11" height="6.8" rx="2.5" fill="#fff" opacity="0.75" filter="url(#lh)"/>
<rect x="187.2" y="273.6" width="11" height="6.8" rx="2.5" fill="#fff" opacity="0.75" filter="url(#lh)"/>
<rect x="124.3" y="185.0" width="11" height="6.8" rx="2.5" fill="#fff" opacity="0.75" filter="url(#lh)"/>
<rect x="170.5" y="309.6" width="11" height="6.8" rx="2.5" fill="#fff" opacity="0.75" filter="url(#lh)"/>
<rect x="259.2" y="178.4" width="11" height="6.8" rx="2.5" fill="#fff" opacity="0.75" filter="url(#lh)"/>
<rect x="175.8" y="269.0" width="11" height="6.8" rx="2.5" fill="#fff" opacity="0.75" filter="url(#lh)"/>
<rect x="160.5" y="273.6" width="11" height="6.8" rx="2.5" fill="#fff" opacity="0.75" filter="url(#lh)"/>
<polygon points="266.0,8.5 262.4,14.9 269.6,14.9" fill="#f00808" stroke="#f00808" stroke-width="0.3"/>
<polygon points="235.4,101.6 231.8,108.0 239.0,108.0" fill="#f00808" stroke="#f00808" stroke-width="0.3"/>
<polygon points="268.6,132.4 265.0,138.8 272.2,138.8" fill="#f00808" stroke="#f00808" stroke-width="0.3"/>
<polygon points="300.7,186.8 297.1,193.2 304.3,193.2" fill="#f00808" stroke="#f00808" stroke-width="0.3"/>
<polygon points="276.0,203.2 272.4,209.6 279.6,209.6" fill="#f00808" stroke="#f00808" stroke-width="0.3"/>
<polygon points="263.2,214.7 259.6,221.1 266.8,221.1" fill="#f00808" stroke="#f00808" stroke-width="0.3"/>
<polygon points="333.0,217.9 329.4,224.3 336.6,224.3" fill="#f00808" stroke="#f00808" stroke-width="0.3"/>
<polygon points="217.8,225.6 214.2,232.0 221.4,232.0" fill="#f00808" stroke="#f00808" stroke-width="0.3"/>
<polygon points="234.5,236.5 230.9,242.9 238.1,242.9" fill="#f4a812" stroke="#f4a812" stroke-width="0.3"/>
<polygon points="188.2,240.5 184.6,246.9 191.8,246.9" fill="#f4a812" stroke="#f4a812" stroke-width="0.3"/>
<polygon points="174.5,250.9 170.9,257.3 178.1,257.3" fill="#f4a812" stroke="#f4a812" stroke-width="0.3"/>
<polygon points="187.3,264.7 183.7,271.1 190.9,271.1" fill="#f4a812" stroke="#f4a812" stroke-width="0.3"/>
<polygon points="176.9,259.9 173.3,266.3 180.5,266.3" fill="#f4a812" stroke="#f4a812" stroke-width="0.3"/>
<polygon points="173.6,265.4 170.0,271.8 177.2,271.8" fill="#f4a812" stroke="#f4a812" stroke-width="0.3"/>
<polygon points="165.0,268.7 161.4,275.1 168.6,275.1" fill="#f4a812" stroke="#f4a812" stroke-width="0.3"/>
<polygon points="192.7,281.9 189.1,288.3 196.3,288.3" fill="#f4a812" stroke="#f4a812" stroke-width="0.3"/>
<polygon points="129.8,193.9 126.2,200.3 133.4,200.3" fill="#f4a812" stroke="#f4a812" stroke-width="0.3"/>
<polygon points="176.0,318.9 172.4,325.3 179.6,325.3" fill="#f4a812" stroke="#f4a812" stroke-width="0.3"/>
<polygon points="284.6,184.5 282.6,189.5 286.8,189.5" fill="#f00808"/>
<rect x="271" y="192" width="7" height="1.6" fill="#f00808"/>
</svg>
<div class="t" style="left:256.5px;top:17.7px;font-size:6.3px;color:#000;-webkit-text-stroke:0.15px #000;transform:translateX(-50%) scaleX(0.86)">115</div>
<div class="t" style="left:235.3px;top:92.7px;font-size:6.3px;color:#000;-webkit-text-stroke:0.15px #000;transform:translateX(-50%) scaleX(0.86)">114</div>
<div class="t" style="left:268.0px;top:124.3px;font-size:6.3px;color:#000;-webkit-text-stroke:0.15px #000;transform:translateX(-50%) scaleX(0.86)">113</div>
<div class="t" style="left:283.3px;top:175.2px;font-size:6.3px;color:#000;-webkit-text-stroke:0.15px #000;transform:translateX(-50%) scaleX(0.86)">106</div>
<div class="t" style="left:277.2px;top:185.1px;font-size:6.3px;color:#000;-webkit-text-stroke:0.15px #000;transform:translateX(-50%) scaleX(0.86)">103</div>
<div class="t" style="left:300.7px;top:178.1px;font-size:6.3px;color:#000;-webkit-text-stroke:0.15px #000;transform:translateX(-50%) scaleX(0.86)">108</div>
<div class="t" style="left:276.3px;top:194.2px;font-size:6.3px;color:#000;-webkit-text-stroke:0.15px #000;transform:translateX(-50%) scaleX(0.86)">107</div>
<div class="t" style="left:263.0px;top:206.4px;font-size:6.3px;color:#000;-webkit-text-stroke:0.15px #000;transform:translateX(-50%) scaleX(0.86)">109</div>
<div class="t" style="left:332.4px;top:209.1px;font-size:6.3px;color:#000;-webkit-text-stroke:0.15px #000;transform:translateX(-50%) scaleX(0.86)">111</div>
<div class="t" style="left:218.2px;top:216.7px;font-size:6.3px;color:#000;-webkit-text-stroke:0.15px #000;transform:translateX(-50%) scaleX(0.86)">112</div>
<div class="t" style="left:234.5px;top:228.1px;font-size:6.3px;color:#000;-webkit-text-stroke:0.15px #000;transform:translateX(-50%) scaleX(0.86)">212</div>
<div class="t" style="left:188.2px;top:231.5px;font-size:6.3px;color:#000;-webkit-text-stroke:0.15px #000;transform:translateX(-50%) scaleX(0.86)">208</div>
<div class="t" style="left:175.0px;top:242.7px;font-size:6.3px;color:#000;-webkit-text-stroke:0.15px #000;transform:translateX(-50%) scaleX(0.86)">207</div>
<div class="t" style="left:187.0px;top:255.9px;font-size:6.3px;color:#000;-webkit-text-stroke:0.15px #000;transform:translateX(-50%) scaleX(0.86)">205</div>
<div class="t" style="left:165.5px;top:260.9px;font-size:6.3px;color:#000;-webkit-text-stroke:0.15px #000;transform:translateX(-50%) scaleX(0.86)">206</div>
<div class="t" style="left:192.7px;top:273.7px;font-size:6.3px;color:#000;-webkit-text-stroke:0.15px #000;transform:translateX(-50%) scaleX(0.86)">209</div>
<div class="t" style="left:129.8px;top:185.1px;font-size:6.3px;color:#000;-webkit-text-stroke:0.15px #000;transform:translateX(-50%) scaleX(0.86)">211</div>
<div class="t" style="left:176.0px;top:309.7px;font-size:6.3px;color:#000;-webkit-text-stroke:0.15px #000;transform:translateX(-50%) scaleX(0.86)">213</div>
<div class="t" style="left:264.7px;top:178.5px;font-size:6.3px;color:#000;-webkit-text-stroke:0.15px #000;transform:translateX(-50%) scaleX(0.86)">102</div>
<div class="t" style="left:181.3px;top:269.1px;font-size:6.3px;color:#000;-webkit-text-stroke:0.15px #000;transform:translateX(-50%) scaleX(0.86)">201</div>
<div class="t" style="left:166.0px;top:273.7px;font-size:6.3px;color:#000;-webkit-text-stroke:0.15px #000;transform:translateX(-50%) scaleX(0.86)">204</div>
<div class="t" style="left:161.5px;top:5.8px;font-size:6.4px;color:#222">746<sup style="font-size:3.5px;vertical-align:3px">&#8242;</sup>500</div>
<div class="t" style="left:367px;top:5.8px;font-size:6.4px;color:#222">747<sup style="font-size:3.5px;vertical-align:3px">&#8242;</sup>000</div>
<div class="t" style="left:11.5px;top:140px;font-size:6.4px;color:#222;transform:translate(-50%,-50%) rotate(-90deg)">174500</div>
<div class="t" style="left:429.5px;top:138px;font-size:6.4px;color:#222;transform:translate(-50%,-50%) rotate(-90deg)">174500</div>
<div class="t" style="left:167px;top:323.5px;font-size:6px;color:#333">746500</div>
<div class="t" style="left:369.5px;top:322.6px;font-size:6px;color:#333">747000</div>
<div class="abs" style="left:5.9px;top:3.5px;width:17.2px;height:13.9px;background:#fff"></div>
<div class="t" style="left:6.6px;top:4.2px;font-size:12.8px;font-weight:bold;color:#000;-webkit-text-stroke:0.2px #000">(a)</div>
<div class="abs" style="left:18.5px;top:17.4px;width:123px;height:161.2px;background:#fff;border:0.8px solid #8a8a8a;box-sizing:border-box"></div>
<div class="t" style="left:27.4px;top:26.6px;font-size:8.1px;font-weight:bold;color:#000;-webkit-text-stroke:0.15px #000">Seismic profile</div>
<div class="t" style="left:54.3px;top:41.6px;font-size:7.4px;color:#1a1a1a;-webkit-text-stroke:0.1px #1a1a1a">SP02</div>
<div class="t" style="left:27.4px;top:55.3px;font-size:8.1px;font-weight:bold;color:#000;-webkit-text-stroke:0.15px #000">Seismic stations</div>
<div class="t" style="left:54.3px;top:70.6px;font-size:7.4px;color:#1a1a1a;-webkit-text-stroke:0.1px #1a1a1a">HEI100</div>
<div class="t" style="left:54.3px;top:86.6px;font-size:7.4px;color:#1a1a1a;-webkit-text-stroke:0.1px #1a1a1a">HEI200</div>
<div class="t" style="left:28px;top:100.6px;font-size:8.1px;font-weight:bold;color:#000;-webkit-text-stroke:0.15px #000">Geomorphological features</div>
<div class="t" style="left:54.3px;top:115.5px;font-size:7.4px;color:#1a1a1a;-webkit-text-stroke:0.1px #1a1a1a">main scarp</div>
<div class="t" style="left:54.3px;top:132px;font-size:7.4px;color:#1a1a1a;-webkit-text-stroke:0.1px #1a1a1a">uphill-facing scarp</div>
<div class="t" style="left:54.3px;top:146.8px;font-size:7.4px;color:#1a1a1a;-webkit-text-stroke:0.1px #1a1a1a">gullies between scarps</div>
<div class="t" style="left:54.3px;top:162.6px;font-size:7.4px;color:#1a1a1a;-webkit-text-stroke:0.1px #1a1a1a">lineament</div>
<svg width="440" height="335" style="left:0;top:0">
<line x1="27.3" y1="45.2" x2="50.3" y2="45.2" stroke="#1c5cd8" stroke-width="1.9" stroke-dasharray="3.4 1.6 1.2 1.6"/>
<polygon points="38.6,71.0 35.2,77.0 42.0,77.0" fill="#f00808" stroke="#f00808" stroke-width="0.3"/>
<polygon points="38.6,86.8 35.2,92.8 42.0,92.8" fill="#f4a812" stroke="#f4a812" stroke-width="0.3"/>
<line x1="27" y1="119" x2="49.5" y2="119" stroke="#777" stroke-width="0.7"/>
<line x1="27.5" y1="119" x2="27.5" y2="121.2" stroke="#777" stroke-width="0.6"/>
<line x1="30.5" y1="119" x2="30.5" y2="121.2" stroke="#777" stroke-width="0.6"/>
<line x1="33.5" y1="119" x2="33.5" y2="121.2" stroke="#777" stroke-width="0.6"/>
<line x1="36.5" y1="119" x2="36.5" y2="121.2" stroke="#777" stroke-width="0.6"/>
<line x1="39.5" y1="119" x2="39.5" y2="121.2" stroke="#777" stroke-width="0.6"/>
<line x1="42.5" y1="119" x2="42.5" y2="121.2" stroke="#777" stroke-width="0.6"/>
<line x1="45.5" y1="119" x2="45.5" y2="121.2" stroke="#777" stroke-width="0.6"/>
<line x1="48.5" y1="119" x2="48.5" y2="121.2" stroke="#777" stroke-width="0.6"/>
<line x1="27" y1="135.2" x2="49.5" y2="135.2" stroke="#111" stroke-width="0.8"/>
<polygon points="26.9,135.2 29.1,135.2 28.0,137.2" fill="#111"/>
<polygon points="30.2,135.2 32.4,135.2 31.3,137.2" fill="#111"/>
<polygon points="33.5,135.2 35.7,135.2 34.6,137.2" fill="#111"/>
<polygon points="36.8,135.2 39.0,135.2 37.9,137.2" fill="#111"/>
<polygon points="40.1,135.2 42.3,135.2 41.2,137.2" fill="#111"/>
<polygon points="43.4,135.2 45.6,135.2 44.5,137.2" fill="#111"/>
<polygon points="46.7,135.2 48.9,135.2 47.8,137.2" fill="#111"/>
<line x1="27" y1="150.2" x2="49.5" y2="150.2" stroke="#111" stroke-width="1.4" stroke-dasharray="3.5 1.5 1 1.5"/>
<line x1="27" y1="165.9" x2="49.5" y2="165.9" stroke="#888" stroke-width="0.8" stroke-dasharray="3 2"/>
</svg>
<div class="t" style="left:395.5px;top:10.5px;font-size:12.3px;font-weight:bold;color:#000">(b)</div>
<div class="t" style="left:416.5px;top:10.5px;font-size:11.2px;color:#000;-webkit-text-stroke:0.25px #000">Polarization example</div>
<svg width="550" height="684" style="left:0;top:0">
<defs>
<linearGradient id="specg" x1="0" y1="0" x2="0" y2="1">
<stop offset="0" stop-color="#6808a0"/>
<stop offset="0.12" stop-color="#5010b8"/>
<stop offset="0.2" stop-color="#2030f0"/>
<stop offset="0.3" stop-color="#1050ff"/>
<stop offset="0.37" stop-color="#1a80ff"/>
<stop offset="0.43" stop-color="#20c8f0"/>
<stop offset="0.49" stop-color="#30f0c0"/>
<stop offset="0.56" stop-color="#60f840"/>
<stop offset="0.63" stop-color="#b0f820"/>
<stop offset="0.7" stop-color="#dcf020"/>
<stop offset="0.76" stop-color="#d0f028"/>
<stop offset="0.82" stop-color="#80f848"/>
<stop offset="0.86" stop-color="#30f0c0"/>
<stop offset="0.9" stop-color="#20b0f8"/>
<stop offset="0.945" stop-color="#1048ff"/>
<stop offset="1" stop-color="#3010b8"/>
</linearGradient>
<radialGradient id="spike" cx="0.5" cy="0.5" r="0.5">
<stop offset="0" stop-color="#f8e020"/>
<stop offset="0.35" stop-color="#60f090"/>
<stop offset="0.7" stop-color="#20b0ff"/>
<stop offset="1" stop-color="#1040ff" stop-opacity="0"/>
</radialGradient>
<filter id="sb1"><feGaussianBlur stdDeviation="0.8"/></filter><filter id="sbh" x="-60%" y="0" width="220%" height="100%"><feGaussianBlur stdDeviation="1.3 0"/></filter>
<linearGradient id="spkg" gradientUnits="userSpaceOnUse" x1="0" y1="30.2" x2="0" y2="92.7">
<stop offset="0" stop-color="#6808a0"/>
<stop offset="0.1" stop-color="#5010b8"/>
<stop offset="0.16" stop-color="#2030f0"/>
<stop offset="0.22" stop-color="#20d0f0"/>
<stop offset="0.29" stop-color="#60f060"/>
<stop offset="0.38" stop-color="#c0f030"/>
<stop offset="0.45" stop-color="#f0e020"/>
<stop offset="0.5" stop-color="#f8a020"/>
<stop offset="0.56" stop-color="#f0e020"/>
<stop offset="0.66" stop-color="#80f050"/>
<stop offset="0.76" stop-color="#40f0c0"/>
<stop offset="0.84" stop-color="#20c0f0"/>
<stop offset="0.92" stop-color="#1048ff"/>
<stop offset="1" stop-color="#4010a8"/>
</linearGradient>
<filter id="sb05" x="-50%" y="-20%" width="200%" height="140%"><feGaussianBlur stdDeviation="0.6"/></filter>
<linearGradient id="cbar" x1="0" y1="1" x2="0" y2="0">
<stop offset="0" stop-color="#5a0a9a"/>
<stop offset="0.15" stop-color="#1a20e8"/>
<stop offset="0.35" stop-color="#10a0ff"/>
<stop offset="0.5" stop-color="#30f0a0"/>
<stop offset="0.62" stop-color="#b0f030"/>
<stop offset="0.72" stop-color="#ffe020"/>
<stop offset="0.85" stop-color="#ff6010"/>
<stop offset="1" stop-color="#b01010"/>
</linearGradient>
<radialGradient id="pol1" cx="0.5" cy="0.5" r="0.5">
<stop offset="0" stop-color="#1a34d4"/>
<stop offset="0.8" stop-color="#1a3ae0"/>
<stop offset="0.93" stop-color="#1630d4"/>
<stop offset="1" stop-color="#1428c8"/>
</radialGradient>
<radialGradient id="pol2" cx="0.5" cy="0.5" r="0.5">
<stop offset="0" stop-color="#7a1a90"/>
<stop offset="1" stop-color="#6a1aa0"/>
</radialGradient>
<filter id="pb2" x="-50%" y="-50%" width="200%" height="200%"><feGaussianBlur stdDeviation="2"/></filter>
<filter id="pb4" x="-50%" y="-50%" width="200%" height="200%"><feGaussianBlur stdDeviation="3.5"/></filter>
</defs>
<rect x="413.2" y="30.2" width="110.00000000000006" height="62.5" fill="url(#specg)"/>
<rect x="413.2" y="30.2" width="0.8" height="62.5" fill="#000" opacity="0.04"/>
<rect x="415.1" y="30.2" width="1.2" height="62.5" fill="#000" opacity="0.05"/>
<rect x="416.9" y="30.2" width="0.6" height="62.5" fill="#000" opacity="0.07"/>
<rect x="418.4" y="30.2" width="0.8" height="62.5" fill="#000" opacity="0.08"/>
<rect x="420.4" y="30.2" width="1.4" height="62.5" fill="#000" opacity="0.04"/>
<rect x="423.3" y="30.2" width="0.8" height="62.5" fill="#000" opacity="0.05"/>
<rect x="425.9" y="30.2" width="1.1" height="62.5" fill="#000" opacity="0.06"/>
<rect x="428.5" y="30.2" width="0.7" height="62.5" fill="#000" opacity="0.06"/>
<rect x="430.6" y="30.2" width="0.9" height="62.5" fill="#000" opacity="0.00"/>
<rect x="433.3" y="30.2" width="1.1" height="62.5" fill="#000" opacity="0.06"/>
<rect x="436.2" y="30.2" width="1.3" height="62.5" fill="#000" opacity="0.07"/>
<rect x="438.6" y="30.2" width="1.4" height="62.5" fill="#000" opacity="0.04"/>
<rect x="441.9" y="30.2" width="1.5" height="62.5" fill="#000" opacity="0.01"/>
<rect x="444.0" y="30.2" width="0.8" height="62.5" fill="#000" opacity="0.08"/>
<rect x="446.0" y="30.2" width="1.2" height="62.5" fill="#000" opacity="0.02"/>
<rect x="448.5" y="30.2" width="1.0" height="62.5" fill="#000" opacity="0.03"/>
<rect x="450.9" y="30.2" width="1.2" height="62.5" fill="#000" opacity="0.07"/>
<rect x="453.6" y="30.2" width="1.5" height="62.5" fill="#000" opacity="0.07"/>
<rect x="457.1" y="30.2" width="1.3" height="62.5" fill="#000" opacity="0.01"/>
<rect x="460.2" y="30.2" width="1.6" height="62.5" fill="#000" opacity="0.07"/>
<rect x="463.1" y="30.2" width="1.3" height="62.5" fill="#000" opacity="0.02"/>
<rect x="466.1" y="30.2" width="1.2" height="62.5" fill="#000" opacity="0.02"/>
<rect x="467.9" y="30.2" width="1.5" height="62.5" fill="#000" opacity="0.08"/>
<rect x="470.0" y="30.2" width="1.4" height="62.5" fill="#000" opacity="0.03"/>
<rect x="472.1" y="30.2" width="0.9" height="62.5" fill="#000" opacity="0.06"/>
<rect x="474.8" y="30.2" width="0.6" height="62.5" fill="#000" opacity="0.05"/>
<rect x="476.0" y="30.2" width="1.3" height="62.5" fill="#000" opacity="0.03"/>
<rect x="479.2" y="30.2" width="1.6" height="62.5" fill="#000" opacity="0.04"/>
<rect x="482.8" y="30.2" width="0.9" height="62.5" fill="#000" opacity="0.01"/>
<rect x="485.1" y="30.2" width="0.6" height="62.5" fill="#000" opacity="0.02"/>
<rect x="486.8" y="30.2" width="1.2" height="62.5" fill="#000" opacity="0.01"/>
<rect x="488.6" y="30.2" width="1.5" height="62.5" fill="#000" opacity="0.03"/>
<rect x="492.0" y="30.2" width="1.5" height="62.5" fill="#000" opacity="0.03"/>
<rect x="494.7" y="30.2" width="1.1" height="62.5" fill="#000" opacity="0.05"/>
<rect x="497.2" y="30.2" width="1.2" height="62.5" fill="#000" opacity="0.05"/>
<rect x="500.3" y="30.2" width="1.1" height="62.5" fill="#000" opacity="0.03"/>
<rect x="502.9" y="30.2" width="0.8" height="62.5" fill="#000" opacity="0.02"/>
<rect x="505.7" y="30.2" width="1.1" height="62.5" fill="#000" opacity="0.04"/>
<rect x="507.4" y="30.2" width="1.0" height="62.5" fill="#000" opacity="0.05"/>
<rect x="508.9" y="30.2" width="1.2" height="62.5" fill="#000" opacity="0.05"/>
<rect x="510.7" y="30.2" width="1.2" height="62.5" fill="#000" opacity="0.04"/>
<rect x="513.5" y="30.2" width="1.0" height="62.5" fill="#000" opacity="0.06"/>
<rect x="516.0" y="30.2" width="0.6" height="62.5" fill="#000" opacity="0.00"/>
<rect x="518.2" y="30.2" width="1.6" height="62.5" fill="#000" opacity="0.02"/>
<rect x="520.9" y="30.2" width="1.2" height="62.5" fill="#000" opacity="0.03"/>
<rect x="523.2" y="30.2" width="0.9" height="62.5" fill="#000" opacity="0.03"/>
<rect x="470.8" y="77.9" width="1.2" height="1.2" fill="#f0c020" opacity="0.8"/>
<rect x="490.5" y="78.3" width="1.2" height="1.2" fill="#f4a020" opacity="0.8"/>
<rect x="473.1" y="79.8" width="1.2" height="1.2" fill="#f0c020" opacity="0.8"/>
<rect x="448.0" y="79.4" width="1.2" height="1.2" fill="#f8d040" opacity="0.8"/>
<rect x="463.6" y="75.9" width="1.2" height="1.2" fill="#f0c020" opacity="0.8"/>
<rect x="480.6" y="73.9" width="1.2" height="1.2" fill="#f4a020" opacity="0.8"/>
<rect x="497.4" y="78.2" width="1.2" height="1.2" fill="#f4a020" opacity="0.8"/>
<rect x="483.4" y="69.9" width="1.2" height="1.2" fill="#f8d040" opacity="0.8"/>
<rect x="425.7" y="69.0" width="1.2" height="1.2" fill="#f0c020" opacity="0.8"/>
<rect x="433.2" y="71.6" width="1.2" height="1.2" fill="#f4a020" opacity="0.8"/>
<rect x="493.4" y="72.5" width="1.2" height="1.2" fill="#f4a020" opacity="0.8"/>
<rect x="463.2" y="77.1" width="1.2" height="1.2" fill="#f4a020" opacity="0.8"/>
<rect x="430.7" y="80.6" width="1.2" height="1.2" fill="#f4a020" opacity="0.8"/>
<rect x="502.0" y="79.7" width="1.2" height="1.2" fill="#e8e020" opacity="0.8"/>
<rect x="416.2" y="74.0" width="1.2" height="1.2" fill="#f4a020" opacity="0.8"/>
<rect x="438.2" y="73.0" width="1.2" height="1.2" fill="#f0c020" opacity="0.8"/>
<rect x="468.3" y="77.5" width="1.2" height="1.2" fill="#f0c020" opacity="0.8"/>
<rect x="442.3" y="78.8" width="1.2" height="1.2" fill="#f8d040" opacity="0.8"/>
<rect x="477.4" y="71.2" width="1.2" height="1.2" fill="#f8d040" opacity="0.8"/>
<rect x="478.2" y="69.7" width="1.2" height="1.2" fill="#f0c020" opacity="0.8"/>
<rect x="500.4" y="73.3" width="1.2" height="1.2" fill="#f8d040" opacity="0.8"/>
<rect x="415.8" y="78.5" width="1.2" height="1.2" fill="#e8e020" opacity="0.8"/>
<rect x="448.4" y="79.1" width="1.2" height="1.2" fill="#f8d040" opacity="0.8"/>
<rect x="418.4" y="71.2" width="1.2" height="1.2" fill="#f4a020" opacity="0.8"/>
<rect x="425.0" y="72.0" width="1.2" height="1.2" fill="#f8d040" opacity="0.8"/>
<rect x="445.5" y="73.3" width="1.2" height="1.2" fill="#e8e020" opacity="0.8"/>
<rect x="484.6" y="70.3" width="1.2" height="1.2" fill="#e8e020" opacity="0.8"/>
<rect x="492.3" y="69.4" width="1.2" height="1.2" fill="#f0c020" opacity="0.8"/>
<rect x="433.1" y="75.2" width="1.2" height="1.2" fill="#e8e020" opacity="0.8"/>
<rect x="497.6" y="73.1" width="1.2" height="1.2" fill="#f0c020" opacity="0.8"/>
<rect x="442.6" y="72.8" width="1.2" height="1.2" fill="#f4a020" opacity="0.8"/>
<rect x="486.7" y="76.5" width="1.2" height="1.2" fill="#e8e020" opacity="0.8"/>
<rect x="504.7" y="70.9" width="1.2" height="1.2" fill="#f0c020" opacity="0.8"/>
<rect x="421.6" y="76.2" width="1.2" height="1.2" fill="#f8d040" opacity="0.8"/>
<rect x="417.1" y="77.9" width="1.2" height="1.2" fill="#e8e020" opacity="0.8"/>
<rect x="489.2" y="74.5" width="1.2" height="1.2" fill="#f8d040" opacity="0.8"/>
<rect x="427.4" y="80.7" width="1.2" height="1.2" fill="#f0c020" opacity="0.8"/>
<rect x="487.0" y="73.0" width="1.2" height="1.2" fill="#f4a020" opacity="0.8"/>
<rect x="426.1" y="77.8" width="1.2" height="1.2" fill="#f4a020" opacity="0.8"/>
<rect x="471.4" y="78.5" width="1.2" height="1.2" fill="#f0c020" opacity="0.8"/>
<rect x="429.5" y="73.5" width="1.2" height="1.2" fill="#f0c020" opacity="0.8"/>
<rect x="490.9" y="72.5" width="1.2" height="1.2" fill="#f8d040" opacity="0.8"/>
<rect x="497.9" y="76.4" width="1.2" height="1.2" fill="#f4a020" opacity="0.8"/>
<rect x="502.8" y="74.4" width="1.2" height="1.2" fill="#f8d040" opacity="0.8"/>
<rect x="476.7" y="72.8" width="1.2" height="1.2" fill="#e8e020" opacity="0.8"/>
<rect x="440.6" y="73.8" width="1.2" height="1.2" fill="#f4a020" opacity="0.8"/>
<rect x="424.4" y="78.9" width="1.2" height="1.2" fill="#f4a020" opacity="0.8"/>
<rect x="471.1" y="75.0" width="1.2" height="1.2" fill="#e8e020" opacity="0.8"/>
<rect x="430.6" y="74.9" width="1.2" height="1.2" fill="#e8e020" opacity="0.8"/>
<rect x="419.9" y="78.5" width="1.2" height="1.2" fill="#e8e020" opacity="0.8"/>
<rect x="477.3" y="77.0" width="1.2" height="1.2" fill="#e8e020" opacity="0.8"/>
<rect x="447.2" y="77.5" width="1.2" height="1.2" fill="#e8e020" opacity="0.8"/>
<rect x="490.0" y="72.2" width="1.2" height="1.2" fill="#e8e020" opacity="0.8"/>
<rect x="501.1" y="73.1" width="1.2" height="1.2" fill="#f4a020" opacity="0.8"/>
<rect x="466.9" y="69.1" width="1.2" height="1.2" fill="#e8e020" opacity="0.8"/>
<rect x="443.8" y="72.3" width="1.2" height="1.2" fill="#e8e020" opacity="0.8"/>
<rect x="488.4" y="76.8" width="1.2" height="1.2" fill="#e8e020" opacity="0.8"/>
<rect x="445.8" y="76.7" width="1.2" height="1.2" fill="#f8d040" opacity="0.8"/>
<rect x="446.0" y="79.1" width="1.2" height="1.2" fill="#f8d040" opacity="0.8"/>
<rect x="502.8" y="80.5" width="1.2" height="1.2" fill="#f4a020" opacity="0.8"/>
<rect x="462.3" y="71.0" width="1.2" height="1.2" fill="#e8e020" opacity="0.8"/>
<rect x="499.3" y="74.7" width="1.2" height="1.2" fill="#f0c020" opacity="0.8"/>
<rect x="479.5" y="77.8" width="1.2" height="1.2" fill="#f4a020" opacity="0.8"/>
<rect x="470.2" y="80.2" width="1.2" height="1.2" fill="#f8d040" opacity="0.8"/>
<rect x="441.7" y="75.6" width="1.2" height="1.2" fill="#e8e020" opacity="0.8"/>
<rect x="479.6" y="69.3" width="1.2" height="1.2" fill="#f4a020" opacity="0.8"/>
<rect x="467.4" y="76.5" width="1.2" height="1.2" fill="#f4a020" opacity="0.8"/>
<rect x="434.1" y="77.2" width="1.2" height="1.2" fill="#f0c020" opacity="0.8"/>
<rect x="503.8" y="80.8" width="1.2" height="1.2" fill="#f4a020" opacity="0.8"/>
<rect x="419.1" y="70.6" width="1.2" height="1.2" fill="#e8e020" opacity="0.8"/>
<path d="M512.3,30.2 L514.8,40 L516.5,58 L516.5,70 L514.8,86 L512.3,92.7 L509.79999999999995,86 L508.09999999999997,70 L508.09999999999997,58 L509.79999999999995,40 Z" fill="url(#spkg)" filter="url(#sbh)"/>
<polyline points="413.2,74.8 415.1,74.3 416.9,74.9 418.8,75.3 420.7,74.6 422.5,74.4 424.4,75.1 426.3,75.1 428.1,74.4 430.0,74.6 431.8,74.5 433.7,74.1 435.6,73.5 437.4,74.0 439.3,74.5 441.2,73.8 443.0,73.5 444.9,74.2 446.8,74.3 448.6,73.5 450.5,73.5 452.4,74.1 454.2,73.7 456.1,72.9 457.9,73.1 459.8,73.4 461.7,72.5 463.5,71.8 465.4,72.1 467.3,71.9 469.1,70.7 471.0,70.4 472.9,70.8 474.7,70.4 476.6,69.6 478.5,69.9 480.3,70.6 482.2,70.2 484.0,70.0 485.9,71.0 487.8,71.7 489.6,71.4 491.5,71.7 493.4,72.8 495.2,73.0 497.1,72.6 499.0,73.1 500.8,74.0 502.7,73.7 504.6,73.2 506.4,73.9 508.3,73.9 510.1,68.7 512.0,60.8 513.9,66.5 515.7,73.2 517.6,73.5 519.5,73.8 521.3,74.5 523.2,74.1" fill="none" stroke="#402010" stroke-width="0.7" opacity="0.8"/>
<rect x="526.2" y="30.4" width="5.6" height="62" fill="url(#cbar)"/>
</svg>
<div class="t" style="left:400.5px;top:38.5px;font-size:7.6px;color:#222">0.8</div>
<div class="t" style="left:400.5px;top:50.9px;font-size:7.6px;color:#222">0.6</div>
<div class="t" style="left:400.5px;top:63.3px;font-size:7.6px;color:#222">0.4</div>
<div class="t" style="left:400.5px;top:75.8px;font-size:7.6px;color:#222">0.2</div>
<div class="t" style="left:451.7px;top:95.5px;font-size:7.5px;color:#111;-webkit-text-stroke:0.15px #111;transform:translateX(-50%)">1</div>
<div class="t" style="left:477.7px;top:95.5px;font-size:7.5px;color:#111;-webkit-text-stroke:0.15px #111;transform:translateX(-50%)">3</div>
<div class="t" style="left:506.7px;top:95.5px;font-size:7.5px;color:#111;-webkit-text-stroke:0.15px #111;transform:translateX(-50%)">10</div>
<div class="t" style="left:520.6px;top:95.5px;font-size:7.5px;color:#111;-webkit-text-stroke:0.15px #111;transform:translateX(-50%)">20</div>
<div class="t" style="left:444px;top:102.5px;font-size:7.5px;color:#111;-webkit-text-stroke:0.12px #111">Frequency [Hz]</div>
<div class="t" style="left:395.6px;top:63.5px;font-size:7.6px;color:#111;-webkit-text-stroke:0.12px #111;transform:translate(-50%,-50%) rotate(-90deg)">Ellipticity</div>
<div class="t" style="left:538.5px;top:61px;font-size:6.8px;color:#222;line-height:1.05;text-align:center;transform:translate(-50%,-50%) rotate(-90deg)">Relative frequency<br>of occurence</div>
<svg width="550" height="684" style="left:0;top:0">
<clipPath id="pc1"><circle cx="486.7" cy="167" r="38"/></clipPath>
<circle cx="486.7" cy="167" r="38" fill="url(#pol1)"/>
<g clip-path="url(#pc1)">
<g filter="url(#pb4)"><ellipse cx="486.7" cy="167" rx="32.3" ry="10.64" transform="rotate(35 486.7 167)" fill="#2c8cf0" opacity="0.38"/></g>
<g filter="url(#pb2)"><ellipse cx="473.7" cy="154" rx="6" ry="2.5" transform="rotate(35 473.7 154)" fill="#40c8f0" opacity="0.7"/><ellipse cx="498.7" cy="180" rx="7" ry="2.5" transform="rotate(35 498.7 180)" fill="#40c0f0" opacity="0.7"/></g>
<circle cx="486.7" cy="167" r="3.0" fill="none" stroke="#3a70f0" stroke-width="1.2" opacity="0.34"/>
<circle cx="486.7" cy="167" r="5.1" fill="none" stroke="#1020c0" stroke-width="1.2" opacity="0.42"/>
<circle cx="486.7" cy="167" r="6.6" fill="none" stroke="#3a70f0" stroke-width="1.2" opacity="0.36"/>
<circle cx="486.7" cy="167" r="8.7" fill="none" stroke="#1020c0" stroke-width="1.2" opacity="0.21"/>
<circle cx="486.7" cy="167" r="10.8" fill="none" stroke="#3a70f0" stroke-width="1.2" opacity="0.20"/>
<circle cx="486.7" cy="167" r="12.7" fill="none" stroke="#1028c8" stroke-width="1.2" opacity="0.36"/>
<circle cx="486.7" cy="167" r="14.2" fill="none" stroke="#1a20b0" stroke-width="1.2" opacity="0.19"/>
<circle cx="486.7" cy="167" r="15.5" fill="none" stroke="#1028c8" stroke-width="1.2" opacity="0.29"/>
<circle cx="486.7" cy="167" r="17.1" fill="none" stroke="#1028c8" stroke-width="1.2" opacity="0.30"/>
<circle cx="486.7" cy="167" r="19.4" fill="none" stroke="#1020c0" stroke-width="1.2" opacity="0.44"/>
<circle cx="486.7" cy="167" r="21.2" fill="none" stroke="#1a20b0" stroke-width="1.2" opacity="0.17"/>
<circle cx="486.7" cy="167" r="22.5" fill="none" stroke="#1020c0" stroke-width="1.2" opacity="0.29"/>
<circle cx="486.7" cy="167" r="24.0" fill="none" stroke="#1028c8" stroke-width="1.2" opacity="0.16"/>
<circle cx="486.7" cy="167" r="26.2" fill="none" stroke="#1028c8" stroke-width="1.2" opacity="0.41"/>
<circle cx="486.7" cy="167" r="27.7" fill="none" stroke="#1028c8" stroke-width="1.2" opacity="0.44"/>
<circle cx="486.7" cy="167" r="29.2" fill="none" stroke="#1020c0" stroke-width="1.2" opacity="0.34"/>
<circle cx="486.7" cy="167" r="30.8" fill="none" stroke="#2a58f0" stroke-width="1.2" opacity="0.28"/>
<circle cx="486.7" cy="167" r="32.5" fill="none" stroke="#2a58f0" stroke-width="1.2" opacity="0.53"/>
<circle cx="486.7" cy="167" r="34.9" fill="none" stroke="#3a70f0" stroke-width="1.2" opacity="0.47"/>
<circle cx="486.7" cy="167" r="36.5" fill="none" stroke="#1020c0" stroke-width="1.2" opacity="0.37"/>
<path d="M486.7,167 L524.7,167.0 A38,38 0 0 1 524.4,172.0 Z" fill="#1020b8" opacity="0.02"/>
<path d="M486.7,167 L524.4,172.0 A38,38 0 0 1 523.4,176.8 Z" fill="#3a78f0" opacity="0.01"/>
<path d="M486.7,167 L523.4,176.8 A38,38 0 0 1 521.8,181.5 Z" fill="#1020b8" opacity="0.13"/>
<path d="M486.7,167 L521.8,181.5 A38,38 0 0 1 519.6,186.0 Z" fill="#3a78f0" opacity="0.12"/>
<path d="M486.7,167 L519.6,186.0 A38,38 0 0 1 516.8,190.1 Z" fill="#1020b8" opacity="0.16"/>
<path d="M486.7,167 L516.8,190.1 A38,38 0 0 1 513.6,193.9 Z" fill="#3a78f0" opacity="0.02"/>
<path d="M486.7,167 L513.6,193.9 A38,38 0 0 1 509.8,197.1 Z" fill="#3a78f0" opacity="0.14"/>
<path d="M486.7,167 L509.8,197.1 A38,38 0 0 1 505.7,199.9 Z" fill="#1020b8" opacity="0.07"/>
<path d="M486.7,167 L505.7,199.9 A38,38 0 0 1 501.2,202.1 Z" fill="#3a78f0" opacity="0.10"/>
<path d="M486.7,167 L501.2,202.1 A38,38 0 0 1 496.5,203.7 Z" fill="#3a78f0" opacity="0.05"/>
<path d="M486.7,167 L496.5,203.7 A38,38 0 0 1 491.7,204.7 Z" fill="#3a78f0" opacity="0.17"/>
<path d="M486.7,167 L491.7,204.7 A38,38 0 0 1 486.7,205.0 Z" fill="#3a78f0" opacity="0.06"/>
<path d="M486.7,167 L486.7,205.0 A38,38 0 0 1 481.7,204.7 Z" fill="#3a78f0" opacity="0.09"/>
<path d="M486.7,167 L481.7,204.7 A38,38 0 0 1 476.9,203.7 Z" fill="#1020b8" opacity="0.11"/>
<path d="M486.7,167 L476.9,203.7 A38,38 0 0 1 472.2,202.1 Z" fill="#1020b8" opacity="0.15"/>
<path d="M486.7,167 L472.2,202.1 A38,38 0 0 1 467.7,199.9 Z" fill="#1020b8" opacity="0.11"/>
<path d="M486.7,167 L467.7,199.9 A38,38 0 0 1 463.6,197.1 Z" fill="#3a78f0" opacity="0.15"/>
<path d="M486.7,167 L463.6,197.1 A38,38 0 0 1 459.8,193.9 Z" fill="#1020b8" opacity="0.02"/>
<path d="M486.7,167 L459.8,193.9 A38,38 0 0 1 456.6,190.1 Z" fill="#1020b8" opacity="0.18"/>
<path d="M486.7,167 L456.6,190.1 A38,38 0 0 1 453.8,186.0 Z" fill="#3a78f0" opacity="0.05"/>
<path d="M486.7,167 L453.8,186.0 A38,38 0 0 1 451.6,181.5 Z" fill="#1020b8" opacity="0.06"/>
<path d="M486.7,167 L451.6,181.5 A38,38 0 0 1 450.0,176.8 Z" fill="#3a78f0" opacity="0.02"/>
<path d="M486.7,167 L450.0,176.8 A38,38 0 0 1 449.0,172.0 Z" fill="#1020b8" opacity="0.08"/>
<path d="M486.7,167 L449.0,172.0 A38,38 0 0 1 448.7,167.0 Z" fill="#3a78f0" opacity="0.02"/>
<path d="M486.7,167 L448.7,167.0 A38,38 0 0 1 449.0,162.0 Z" fill="#3a78f0" opacity="0.17"/>
<path d="M486.7,167 L449.0,162.0 A38,38 0 0 1 450.0,157.2 Z" fill="#3a78f0" opacity="0.14"/>
<path d="M486.7,167 L450.0,157.2 A38,38 0 0 1 451.6,152.5 Z" fill="#1020b8" opacity="0.12"/>
<path d="M486.7,167 L451.6,152.5 A38,38 0 0 1 453.8,148.0 Z" fill="#1020b8" opacity="0.10"/>
<path d="M486.7,167 L453.8,148.0 A38,38 0 0 1 456.6,143.9 Z" fill="#1020b8" opacity="0.04"/>
<path d="M486.7,167 L456.6,143.9 A38,38 0 0 1 459.8,140.1 Z" fill="#3a78f0" opacity="0.13"/>
<path d="M486.7,167 L459.8,140.1 A38,38 0 0 1 463.6,136.9 Z" fill="#1020b8" opacity="0.06"/>
<path d="M486.7,167 L463.6,136.9 A38,38 0 0 1 467.7,134.1 Z" fill="#1020b8" opacity="0.06"/>
<path d="M486.7,167 L467.7,134.1 A38,38 0 0 1 472.2,131.9 Z" fill="#1020b8" opacity="0.02"/>
<path d="M486.7,167 L472.2,131.9 A38,38 0 0 1 476.9,130.3 Z" fill="#1020b8" opacity="0.13"/>
<path d="M486.7,167 L476.9,130.3 A38,38 0 0 1 481.7,129.3 Z" fill="#1020b8" opacity="0.12"/>
<path d="M486.7,167 L481.7,129.3 A38,38 0 0 1 486.7,129.0 Z" fill="#3a78f0" opacity="0.01"/>
<path d="M486.7,167 L486.7,129.0 A38,38 0 0 1 491.7,129.3 Z" fill="#3a78f0" opacity="0.13"/>
<path d="M486.7,167 L491.7,129.3 A38,38 0 0 1 496.5,130.3 Z" fill="#3a78f0" opacity="0.03"/>
<path d="M486.7,167 L496.5,130.3 A38,38 0 0 1 501.2,131.9 Z" fill="#1020b8" opacity="0.16"/>
<path d="M486.7,167 L501.2,131.9 A38,38 0 0 1 505.7,134.1 Z" fill="#3a78f0" opacity="0.08"/>
<path d="M486.7,167 L505.7,134.1 A38,38 0 0 1 509.8,136.9 Z" fill="#1020b8" opacity="0.10"/>
<path d="M486.7,167 L509.8,136.9 A38,38 0 0 1 513.6,140.1 Z" fill="#3a78f0" opacity="0.17"/>
<path d="M486.7,167 L513.6,140.1 A38,38 0 0 1 516.8,143.9 Z" fill="#1020b8" opacity="0.13"/>
<path d="M486.7,167 L516.8,143.9 A38,38 0 0 1 519.6,148.0 Z" fill="#3a78f0" opacity="0.01"/>
<path d="M486.7,167 L519.6,148.0 A38,38 0 0 1 521.8,152.5 Z" fill="#1020b8" opacity="0.05"/>
<path d="M486.7,167 L521.8,152.5 A38,38 0 0 1 523.4,157.2 Z" fill="#3a78f0" opacity="0.08"/>
<path d="M486.7,167 L523.4,157.2 A38,38 0 0 1 524.4,162.0 Z" fill="#1020b8" opacity="0.04"/>
<path d="M486.7,167 L524.4,162.0 A38,38 0 0 1 524.7,167.0 Z" fill="#3a78f0" opacity="0.15"/>
<circle cx="486.7" cy="167" r="24.3" fill="none" stroke="#1020b8" stroke-width="2.5" opacity="0.35"/>
<g filter="url(#pb2)">
<ellipse cx="468.7" cy="157" rx="3" ry="1.6" fill="#40c0f0" opacity="0.7"/>
<ellipse cx="478.7" cy="151" rx="2.5" ry="1.6" fill="#30b0f0" opacity="0.7"/>
<ellipse cx="500.7" cy="176" rx="3" ry="1.6" fill="#40c8e8" opacity="0.7"/>
<ellipse cx="494.7" cy="185" rx="2.5" ry="1.6" fill="#30b8f0" opacity="0.7"/>
<ellipse cx="461.7" cy="162" rx="2" ry="1.6" fill="#2a90f0" opacity="0.7"/>
<ellipse cx="508.7" cy="171" rx="2" ry="1.6" fill="#2a90f0" opacity="0.7"/>
</g>
</g>
<circle cx="486.7" cy="167" r="1.3" fill="#fff"/>
<rect x="499.6" y="167.5" width="2.2" height="3.2" fill="#e8e8e8"/>
<rect x="508.6" y="167.5" width="2.2" height="3.2" fill="#e8e8e8"/>
<rect x="518.5" y="167.5" width="5.5" height="3.2" fill="#e8e8e8"/>
<rect x="527" y="128.4" width="4" height="77.79999999999998" fill="url(#cbar)"/>
</svg>
<div class="t" style="left:447px;top:124.5px;font-size:2.6px;color:#333">HEI100</div>
<div class="t" style="left:453.4px;top:208.5px;font-size:7.6px;color:#111;-webkit-text-stroke:0.2px #111">Strike vs. frequency</div>
<div class="t" style="left:539.5px;top:167.3px;font-size:8px;color:#333;line-height:1.0;text-align:center;-webkit-text-stroke:0.1px #333;transform:translate(-50%,-50%) rotate(-90deg)">Relative frequency<br>of occurrence</div>
<div class="t" style="left:485px;top:119.5px;font-size:4px;color:#333">N</div>
<svg width="550" height="684" style="left:0;top:0">
<clipPath id="pc2"><circle cx="486" cy="266.5" r="38.8"/></clipPath>
<circle cx="486" cy="266.5" r="38.8" fill="url(#pol2)"/>
<g clip-path="url(#pc2)">
<g filter="url(#pb2)"><path d="M486,266.5 L447.2,247.5 L447.2,285.5 Z M486,266.5 L524.8,247.5 L524.8,285.5 Z" fill="#1840e0" opacity="0.9"/></g>
<g filter="url(#pb4)"><ellipse cx="451.2" cy="266.5" rx="5" ry="20" fill="#2040e0" opacity="0.8"/><ellipse cx="520.8" cy="266.5" rx="5" ry="20" fill="#2040e0" opacity="0.8"/></g>
<g filter="url(#pb2)"><path d="M486,266.5 L454,260.5 L454,272.5 Z M486,266.5 L518,260.5 L518,272.5 Z" fill="#20a8f0" opacity="0.85"/></g>
<g filter="url(#pb2)"><ellipse cx="469" cy="266.5" rx="4" ry="2" fill="#40f0a0"/><ellipse cx="503" cy="266.5" rx="4" ry="2" fill="#40e0b0"/></g>
<circle cx="486" cy="266.5" r="3.0" fill="none" stroke="#8a2ab8" stroke-width="1.2" opacity="0.43"/>
<circle cx="486" cy="266.5" r="5.0" fill="none" stroke="#8a2ab8" stroke-width="1.2" opacity="0.32"/>
<circle cx="486" cy="266.5" r="6.7" fill="none" stroke="#8a2ab8" stroke-width="1.2" opacity="0.44"/>
<circle cx="486" cy="266.5" r="8.5" fill="none" stroke="#7a28c0" stroke-width="1.2" opacity="0.42"/>
<circle cx="486" cy="266.5" r="10.9" fill="none" stroke="#601890" stroke-width="1.2" opacity="0.26"/>
<circle cx="486" cy="266.5" r="13.3" fill="none" stroke="#8a2ab8" stroke-width="1.2" opacity="0.13"/>
<circle cx="486" cy="266.5" r="14.6" fill="none" stroke="#7a28c0" stroke-width="1.2" opacity="0.43"/>
<circle cx="486" cy="266.5" r="16.7" fill="none" stroke="#601890" stroke-width="1.2" opacity="0.39"/>
<circle cx="486" cy="266.5" r="18.6" fill="none" stroke="#8a2ab8" stroke-width="1.2" opacity="0.38"/>
<circle cx="486" cy="266.5" r="20.6" fill="none" stroke="#601890" stroke-width="1.2" opacity="0.12"/>
<circle cx="486" cy="266.5" r="21.9" fill="none" stroke="#7a28c0" stroke-width="1.2" opacity="0.12"/>
<circle cx="486" cy="266.5" r="23.8" fill="none" stroke="#8a2ab8" stroke-width="1.2" opacity="0.21"/>
<circle cx="486" cy="266.5" r="25.7" fill="none" stroke="#8a2ab8" stroke-width="1.2" opacity="0.35"/>
<circle cx="486" cy="266.5" r="28.0" fill="none" stroke="#5a18a8" stroke-width="1.2" opacity="0.36"/>
<circle cx="486" cy="266.5" r="29.6" fill="none" stroke="#5a18a8" stroke-width="1.2" opacity="0.28"/>
<circle cx="486" cy="266.5" r="31.9" fill="none" stroke="#8a2ab8" stroke-width="1.2" opacity="0.20"/>
<circle cx="486" cy="266.5" r="34.0" fill="none" stroke="#601890" stroke-width="1.2" opacity="0.15"/>
<circle cx="486" cy="266.5" r="35.6" fill="none" stroke="#8a2ab8" stroke-width="1.2" opacity="0.25"/>
<circle cx="486" cy="266.5" r="37.0" fill="none" stroke="#8a2ab8" stroke-width="1.2" opacity="0.19"/>
<circle cx="486" cy="266.5" r="38.6" fill="none" stroke="#601890" stroke-width="1.2" opacity="0.33"/>
</g>
<circle cx="486" cy="266.5" r="1.3" fill="#fff"/>
<rect x="498.9" y="267.0" width="2.2" height="3.2" fill="#e8e8e8"/>
<rect x="507.9" y="267.0" width="2.2" height="3.2" fill="#e8e8e8"/>
<rect x="517.8" y="267.0" width="5.5" height="3.2" fill="#e8e8e8"/>
<rect x="527" y="227.2" width="4" height="78.40000000000003" fill="url(#cbar)"/>
</svg>
<div class="t" style="left:447px;top:223.2px;font-size:2.6px;color:#333">HEI401</div>
<div class="t" style="left:461px;top:310.5px;font-size:7.6px;color:#111;-webkit-text-stroke:0.2px #111">Dip vs. frequency</div>
<div class="t" style="left:539.5px;top:266.4px;font-size:8px;color:#333;line-height:1.0;text-align:center;-webkit-text-stroke:0.1px #333;transform:translate(-50%,-50%) rotate(-90deg)">Relative frequency<br>of occurrence</div>
<svg width="550" height="684" style="left:0;top:0"><defs>
<filter id="hb5" x="-50%" y="-50%" width="200%" height="200%"><feGaussianBlur stdDeviation="4.5"/></filter>
<filter id="hb3" x="-50%" y="-50%" width="200%" height="200%"><feGaussianBlur stdDeviation="3"/></filter>
<filter id="hb2" x="-50%" y="-50%" width="200%" height="200%"><feGaussianBlur stdDeviation="1.8"/></filter>
<filter id="hb4" x="-50%" y="-50%" width="200%" height="200%"><feGaussianBlur stdDeviation="3.3"/></filter>
<filter id="hb8" x="-50%" y="-50%" width="200%" height="200%"><feGaussianBlur stdDeviation="8"/></filter>
</defs></svg>
<svg width="550" height="684" style="left:0;top:0">
<clipPath id="cc"><rect x="32.8" y="353.4" width="82.4" height="147.40000000000003"/></clipPath>
<rect x="32.8" y="353.4" width="82.4" height="147.40000000000003" fill="#fff"/>
<g clip-path="url(#cc)">
<polygon points="28.0,348.0 68.0,348.0 82.0,385.0 95.0,418.0 110.0,432.0 120.0,460.0 120.0,505.0 90.0,505.0 86.0,455.0 70.0,442.0 52.0,410.0 36.0,378.0 28.0,360.0" fill="#fff480" opacity="0.85" filter="url(#hb4)"/>
<polygon points="34.0,354.0 60.0,356.0 74.0,390.0 86.0,418.0 100.0,432.0 110.0,460.0 110.0,505.0 94.0,505.0 90.0,458.0 74.0,436.0 56.0,402.0 42.0,375.0 34.0,362.0" fill="#fff250" opacity="0.7" filter="url(#hb3)"/>
<polygon points="35.0,355.0 50.0,357.0 60.0,372.0 66.0,395.0 68.0,415.0 62.0,414.0 52.0,390.0 42.0,372.0 34.0,362.0" fill="#f09a88" opacity="0.32" filter="url(#hb3)"/>
<polygon points="97.0,440.0 108.0,440.0 109.0,505.0 96.0,505.0" fill="#f6b060" opacity="0.75" filter="url(#hb2)"/>
<polygon points="100.5,442.0 104.5,442.0 104.5,505.0 100.5,505.0" fill="#ea6070" opacity="0.8" filter="url(#hb2)"/>
<polygon points="33.0,353.0 37.0,353.0 37.0,357.0 33.0,357.0" fill="#ea6070" opacity="0.7" filter="url(#hb2)"/>
<line x1="32.8" y1="368.1" x2="115.2" y2="368.1" stroke="#d0d0d0" stroke-width="0.5" opacity="0.8"/>
<line x1="32.8" y1="382.9" x2="115.2" y2="382.9" stroke="#d0d0d0" stroke-width="0.5" opacity="0.8"/>
<line x1="32.8" y1="397.6" x2="115.2" y2="397.6" stroke="#d0d0d0" stroke-width="0.5" opacity="0.8"/>
<line x1="32.8" y1="412.4" x2="115.2" y2="412.4" stroke="#d0d0d0" stroke-width="0.5" opacity="0.8"/>
<line x1="32.8" y1="427.1" x2="115.2" y2="427.1" stroke="#d0d0d0" stroke-width="0.5" opacity="0.8"/>
<line x1="32.8" y1="441.8" x2="115.2" y2="441.8" stroke="#d0d0d0" stroke-width="0.5" opacity="0.8"/>
<line x1="32.8" y1="456.6" x2="115.2" y2="456.6" stroke="#d0d0d0" stroke-width="0.5" opacity="0.8"/>
<line x1="32.8" y1="471.3" x2="115.2" y2="471.3" stroke="#d0d0d0" stroke-width="0.5" opacity="0.8"/>
<line x1="32.8" y1="486.1" x2="115.2" y2="486.1" stroke="#d0d0d0" stroke-width="0.5" opacity="0.8"/>
<line x1="39.0" y1="353.4" x2="39.0" y2="500.8" stroke="#d0d0d0" stroke-width="0.5" opacity="0.8"/>
<line x1="65.2" y1="353.4" x2="65.2" y2="500.8" stroke="#d0d0d0" stroke-width="0.5" opacity="0.8"/>
<line x1="91.4" y1="353.4" x2="91.4" y2="500.8" stroke="#d0d0d0" stroke-width="0.5" opacity="0.8"/>
<polyline points="36.5,353.4 36.5,371.0 78.3,371.0 78.3,436.5 88.6,436.5 88.6,487.2 106.9,487.2 106.9,496.2 115.2,496.2" fill="none" stroke="#8c8ce0" stroke-width="0.7"/>
<polyline points="34.0,354.0 38.2,357.4 49.6,359.0 52.1,364.7 56.2,368.0 59.5,370.5 59.5,396.6 71.7,396.6 71.7,411.4 88.9,411.4 88.9,439.7 102.8,439.7 102.8,501.0" fill="none" stroke="#d2708e" stroke-width="0.7"/>
</g>
<rect x="32.8" y="353.4" width="82.4" height="147.40000000000003" fill="none" stroke="#333" stroke-width="1"/>
<line x1="30.799999999999997" y1="353.4" x2="32.8" y2="353.4" stroke="#333" stroke-width="0.6"/>
<line x1="30.799999999999997" y1="382.9" x2="32.8" y2="382.9" stroke="#333" stroke-width="0.6"/>
<line x1="30.799999999999997" y1="412.4" x2="32.8" y2="412.4" stroke="#333" stroke-width="0.6"/>
<line x1="30.799999999999997" y1="441.8" x2="32.8" y2="441.8" stroke="#333" stroke-width="0.6"/>
<line x1="30.799999999999997" y1="471.3" x2="32.8" y2="471.3" stroke="#333" stroke-width="0.6"/>
<line x1="30.799999999999997" y1="500.8" x2="32.8" y2="500.8" stroke="#333" stroke-width="0.6"/>
</svg>
<div class="t" style="left:28.5px;top:355.0px;font-size:8.2px;color:#111;-webkit-text-stroke:0.15px #111;transform:translate(-100%,-50%)">0</div>
<div class="t" style="left:28.5px;top:384.5px;font-size:8.2px;color:#111;-webkit-text-stroke:0.15px #111;transform:translate(-100%,-50%)">20</div>
<div class="t" style="left:28.5px;top:414.0px;font-size:8.2px;color:#111;-webkit-text-stroke:0.15px #111;transform:translate(-100%,-50%)">40</div>
<div class="t" style="left:28.5px;top:443.4px;font-size:8.2px;color:#111;-webkit-text-stroke:0.15px #111;transform:translate(-100%,-50%)">60</div>
<div class="t" style="left:28.5px;top:472.9px;font-size:8.2px;color:#111;-webkit-text-stroke:0.15px #111;transform:translate(-100%,-50%)">80</div>
<div class="t" style="left:28.5px;top:502.4px;font-size:8.2px;color:#111;-webkit-text-stroke:0.15px #111;transform:translate(-100%,-50%)">100</div>
<div class="t" style="left:39.0px;top:502.8px;font-size:7.8px;color:#111;-webkit-text-stroke:0.15px #111;transform:translateX(-50%)">500</div>
<div class="t" style="left:65.2px;top:502.8px;font-size:7.8px;color:#111;-webkit-text-stroke:0.15px #111;transform:translateX(-50%)">1000</div>
<div class="t" style="left:91.4px;top:502.8px;font-size:7.8px;color:#111;-webkit-text-stroke:0.15px #111;transform:translateX(-50%)">1500</div>
<div class="t" style="left:48.6px;top:510.4px;font-size:7.6px;color:#111;-webkit-text-stroke:0.12px #111">vs [m/s]</div>
<div class="t" style="left:11.8px;top:425.6px;font-size:8.3px;color:#111;-webkit-text-stroke:0.12px #111;transform:translate(-50%,-50%) rotate(-90deg)">Depth [m]</div>
<div class="t" style="left:14.4px;top:338.4px;font-size:12.3px;font-weight:bold;color:#000">(c)</div>
<div class="t" style="left:32.9px;top:338.9px;font-size:10.9px;color:#000;-webkit-text-stroke:0.25px #000">Inversion HEI100, vs</div>
<svg width="550" height="684" style="left:0;top:0">
<clipPath id="dd"><rect x="173.6" y="352.5" width="82.79999999999998" height="147.8"/></clipPath>
<rect x="173.6" y="352.5" width="82.79999999999998" height="147.8" fill="#fff"/>
<g clip-path="url(#dd)">
<polygon points="168.0,348.0 212.0,348.0 230.0,375.0 250.0,400.0 262.0,425.0 262.0,505.0 226.0,505.0 224.0,460.0 210.0,430.0 195.0,400.0 180.0,372.0 168.0,360.0" fill="#fff480" opacity="0.88" filter="url(#hb4)"/>
<polygon points="176.0,353.0 205.0,355.0 222.0,385.0 238.0,415.0 250.0,440.0 258.0,505.0 229.0,505.0 226.0,455.0 212.0,425.0 198.0,395.0 184.0,370.0" fill="#fff250" opacity="0.6" filter="url(#hb3)"/>
<polygon points="175.0,353.0 190.0,355.0 200.0,372.0 210.0,392.0 214.0,405.0 206.0,405.0 194.0,382.0 182.0,366.0" fill="#f09a88" opacity="0.35" filter="url(#hb3)"/>
<polygon points="232.0,435.0 256.0,435.0 260.0,505.0 232.0,505.0" fill="#f6b060" opacity="0.45" filter="url(#hb5)"/>
<line x1="173.6" y1="367.3" x2="256.4" y2="367.3" stroke="#d0d0d0" stroke-width="0.5" opacity="0.8"/>
<line x1="173.6" y1="382.1" x2="256.4" y2="382.1" stroke="#d0d0d0" stroke-width="0.5" opacity="0.8"/>
<line x1="173.6" y1="396.8" x2="256.4" y2="396.8" stroke="#d0d0d0" stroke-width="0.5" opacity="0.8"/>
<line x1="173.6" y1="411.6" x2="256.4" y2="411.6" stroke="#d0d0d0" stroke-width="0.5" opacity="0.8"/>
<line x1="173.6" y1="426.4" x2="256.4" y2="426.4" stroke="#d0d0d0" stroke-width="0.5" opacity="0.8"/>
<line x1="173.6" y1="441.2" x2="256.4" y2="441.2" stroke="#d0d0d0" stroke-width="0.5" opacity="0.8"/>
<line x1="173.6" y1="456.0" x2="256.4" y2="456.0" stroke="#d0d0d0" stroke-width="0.5" opacity="0.8"/>
<line x1="173.6" y1="470.7" x2="256.4" y2="470.7" stroke="#d0d0d0" stroke-width="0.5" opacity="0.8"/>
<line x1="173.6" y1="485.5" x2="256.4" y2="485.5" stroke="#d0d0d0" stroke-width="0.5" opacity="0.8"/>
<line x1="181.6" y1="352.5" x2="181.6" y2="500.3" stroke="#d0d0d0" stroke-width="0.5" opacity="0.8"/>
<line x1="208.8" y1="352.5" x2="208.8" y2="500.3" stroke="#d0d0d0" stroke-width="0.5" opacity="0.8"/>
<line x1="220.5" y1="352.5" x2="220.5" y2="500.3" stroke="#d0d0d0" stroke-width="0.5" opacity="0.8"/>
<line x1="233.5" y1="352.5" x2="233.5" y2="500.3" stroke="#d0d0d0" stroke-width="0.5" opacity="0.8"/>
<line x1="245.3" y1="352.5" x2="245.3" y2="500.3" stroke="#d0d0d0" stroke-width="0.5" opacity="0.8"/>
<polyline points="176.9,352.5 176.9,369.3 208.0,369.3 208.0,434.0 218.6,434.0 218.6,485.2 235.5,485.2 235.5,492.9 239.5,492.9 239.5,500.3" fill="none" stroke="#8c8ce0" stroke-width="0.7"/>
<polyline points="174.1,352.5 183.1,353.3 186.4,355.7 191.3,358.2 193.0,362.3 194.5,365.5 196.2,369.6 197.0,376.2 198.6,381.9 208.5,381.9 211.7,382.7 212.5,394.2 214.2,395.0 215.0,409.7 231.9,409.7 231.9,422.0 233.8,422.0 234.1,437.8 256.4,437.8" fill="none" stroke="#d2708e" stroke-width="0.7"/>
</g>
<rect x="173.6" y="352.5" width="82.79999999999998" height="147.8" fill="none" stroke="#333" stroke-width="1"/>
<line x1="171.6" y1="352.5" x2="173.6" y2="352.5" stroke="#333" stroke-width="0.6"/>
<line x1="171.6" y1="382.1" x2="173.6" y2="382.1" stroke="#333" stroke-width="0.6"/>
<line x1="171.6" y1="411.6" x2="173.6" y2="411.6" stroke="#333" stroke-width="0.6"/>
<line x1="171.6" y1="441.2" x2="173.6" y2="441.2" stroke="#333" stroke-width="0.6"/>
<line x1="171.6" y1="470.7" x2="173.6" y2="470.7" stroke="#333" stroke-width="0.6"/>
<line x1="171.6" y1="500.3" x2="173.6" y2="500.3" stroke="#333" stroke-width="0.6"/>
</svg>
<div class="t" style="left:169.3px;top:354.1px;font-size:8.2px;color:#111;-webkit-text-stroke:0.15px #111;transform:translate(-100%,-50%)">0</div>
<div class="t" style="left:169.3px;top:383.7px;font-size:8.2px;color:#111;-webkit-text-stroke:0.15px #111;transform:translate(-100%,-50%)">20</div>
<div class="t" style="left:169.3px;top:413.2px;font-size:8.2px;color:#111;-webkit-text-stroke:0.15px #111;transform:translate(-100%,-50%)">40</div>
<div class="t" style="left:169.3px;top:442.8px;font-size:8.2px;color:#111;-webkit-text-stroke:0.15px #111;transform:translate(-100%,-50%)">60</div>
<div class="t" style="left:169.3px;top:472.3px;font-size:8.2px;color:#111;-webkit-text-stroke:0.15px #111;transform:translate(-100%,-50%)">80</div>
<div class="t" style="left:169.3px;top:501.9px;font-size:8.2px;color:#111;-webkit-text-stroke:0.15px #111;transform:translate(-100%,-50%)">100</div>
<div class="t" style="left:181.6px;top:502.3px;font-size:7.8px;color:#111;-webkit-text-stroke:0.15px #111;transform:translateX(-50%)">1000</div>
<div class="t" style="left:208.8px;top:502.3px;font-size:7.8px;color:#111;-webkit-text-stroke:0.15px #111;transform:translateX(-50%)">2000</div>
<div class="t" style="left:233.5px;top:502.3px;font-size:7.8px;color:#111;-webkit-text-stroke:0.15px #111;transform:translateX(-50%)">4000</div>
<div class="t" style="left:189.7px;top:509.9px;font-size:7.6px;color:#111;-webkit-text-stroke:0.12px #111">vp [m/s]</div>
<div class="t" style="left:152.6px;top:424.9px;font-size:8.3px;color:#111;-webkit-text-stroke:0.12px #111;transform:translate(-50%,-50%) rotate(-90deg)">Depth [m]</div>
<div class="t" style="left:147.6px;top:338.4px;font-size:12.3px;font-weight:bold;color:#000">(d)</div>
<div class="t" style="left:166.8px;top:338.9px;font-size:10.9px;color:#000;-webkit-text-stroke:0.25px #000">Inversion HEI100,</div>
<div class="t" style="left:147.6px;top:354.6px;font-size:10.9px;color:#000;-webkit-text-stroke:0.25px #000">vp</div>
<svg width="550" height="684" style="left:0;top:0">
<clipPath id="ee"><rect x="306.6" y="352.5" width="82.79999999999995" height="148.10000000000002"/></clipPath>
<rect x="306.6" y="352.5" width="82.79999999999995" height="148.10000000000002" fill="#fff"/>
<g clip-path="url(#ee)">
<polygon points="302.0,348.0 332.0,348.0 345.0,380.0 362.0,410.0 376.0,435.0 372.0,450.0 352.0,445.0 335.0,415.0 318.0,385.0 304.0,362.0" fill="#fff480" opacity="0.88" filter="url(#hb4)"/>
<polygon points="307.0,353.0 326.0,354.0 336.0,380.0 350.0,410.0 362.0,432.0 350.0,436.0 336.0,410.0 322.0,385.0 310.0,365.0" fill="#fff250" opacity="0.6" filter="url(#hb3)"/>
<polygon points="352.0,425.0 372.0,425.0 380.0,450.0 380.0,505.0 352.0,505.0 350.0,460.0" fill="#fff480" opacity="0.9" filter="url(#hb4)"/>
<polygon points="356.0,432.0 374.0,432.0 376.0,505.0 355.0,505.0" fill="#fff250" opacity="0.9" filter="url(#hb3)"/>
<polygon points="307.0,353.0 314.0,354.0 322.0,370.0 328.0,395.0 326.0,405.0 320.0,395.0 313.0,375.0 307.0,362.0" fill="#f08a90" opacity="0.5" filter="url(#hb2)"/>
<polygon points="357.0,440.0 370.0,440.0 371.0,505.0 357.0,505.0" fill="#f6b060" opacity="0.8" filter="url(#hb3)"/>
<polygon points="361.0,445.0 366.0,445.0 366.0,505.0 361.0,505.0" fill="#ea6070" opacity="0.75" filter="url(#hb2)"/>
<line x1="306.6" y1="367.3" x2="389.4" y2="367.3" stroke="#d0d0d0" stroke-width="0.5" opacity="0.8"/>
<line x1="306.6" y1="382.1" x2="389.4" y2="382.1" stroke="#d0d0d0" stroke-width="0.5" opacity="0.8"/>
<line x1="306.6" y1="396.9" x2="389.4" y2="396.9" stroke="#d0d0d0" stroke-width="0.5" opacity="0.8"/>
<line x1="306.6" y1="411.7" x2="389.4" y2="411.7" stroke="#d0d0d0" stroke-width="0.5" opacity="0.8"/>
<line x1="306.6" y1="426.6" x2="389.4" y2="426.6" stroke="#d0d0d0" stroke-width="0.5" opacity="0.8"/>
<line x1="306.6" y1="441.4" x2="389.4" y2="441.4" stroke="#d0d0d0" stroke-width="0.5" opacity="0.8"/>
<line x1="306.6" y1="456.2" x2="389.4" y2="456.2" stroke="#d0d0d0" stroke-width="0.5" opacity="0.8"/>
<line x1="306.6" y1="471.0" x2="389.4" y2="471.0" stroke="#d0d0d0" stroke-width="0.5" opacity="0.8"/>
<line x1="306.6" y1="485.8" x2="389.4" y2="485.8" stroke="#d0d0d0" stroke-width="0.5" opacity="0.8"/>
<line x1="313.5" y1="352.5" x2="313.5" y2="500.6" stroke="#d0d0d0" stroke-width="0.5" opacity="0.8"/>
<line x1="338.0" y1="352.5" x2="338.0" y2="500.6" stroke="#d0d0d0" stroke-width="0.5" opacity="0.8"/>
<line x1="363.5" y1="352.5" x2="363.5" y2="500.6" stroke="#d0d0d0" stroke-width="0.5" opacity="0.8"/>
<polyline points="309.5,352.5 309.5,374.2 343.1,374.2 343.1,434.0 344.2,434.0 344.2,487.2 374.7,487.2 374.7,500.6" fill="none" stroke="#8c8ce0" stroke-width="0.7"/>
<polyline points="307.1,352.5 308.7,354.0 310.4,358.2 319.4,359.0 321.0,372.9 324.3,373.7 325.9,393.4 332.5,393.4 333.3,405.6 340.6,405.6 340.6,421.2 357.8,421.2 357.8,433.2 363.2,433.2 363.2,500.6" fill="none" stroke="#d2708e" stroke-width="0.7"/>
</g>
<rect x="306.6" y="352.5" width="82.79999999999995" height="148.10000000000002" fill="none" stroke="#333" stroke-width="1"/>
<line x1="304.6" y1="352.5" x2="306.6" y2="352.5" stroke="#333" stroke-width="0.6"/>
<line x1="304.6" y1="382.1" x2="306.6" y2="382.1" stroke="#333" stroke-width="0.6"/>
<line x1="304.6" y1="411.7" x2="306.6" y2="411.7" stroke="#333" stroke-width="0.6"/>
<line x1="304.6" y1="441.4" x2="306.6" y2="441.4" stroke="#333" stroke-width="0.6"/>
<line x1="304.6" y1="471.0" x2="306.6" y2="471.0" stroke="#333" stroke-width="0.6"/>
<line x1="304.6" y1="500.6" x2="306.6" y2="500.6" stroke="#333" stroke-width="0.6"/>
</svg>
<div class="t" style="left:302.3px;top:354.1px;font-size:8.2px;color:#111;-webkit-text-stroke:0.15px #111;transform:translate(-100%,-50%)">0</div>
<div class="t" style="left:302.3px;top:383.7px;font-size:8.2px;color:#111;-webkit-text-stroke:0.15px #111;transform:translate(-100%,-50%)">20</div>
<div class="t" style="left:302.3px;top:413.3px;font-size:8.2px;color:#111;-webkit-text-stroke:0.15px #111;transform:translate(-100%,-50%)">40</div>
<div class="t" style="left:302.3px;top:443.0px;font-size:8.2px;color:#111;-webkit-text-stroke:0.15px #111;transform:translate(-100%,-50%)">60</div>
<div class="t" style="left:302.3px;top:472.6px;font-size:8.2px;color:#111;-webkit-text-stroke:0.15px #111;transform:translate(-100%,-50%)">80</div>
<div class="t" style="left:302.3px;top:502.2px;font-size:8.2px;color:#111;-webkit-text-stroke:0.15px #111;transform:translate(-100%,-50%)">100</div>
<div class="t" style="left:313.5px;top:502.6px;font-size:7.8px;color:#111;-webkit-text-stroke:0.15px #111;transform:translateX(-50%)">500</div>
<div class="t" style="left:338.0px;top:502.6px;font-size:7.8px;color:#111;-webkit-text-stroke:0.15px #111;transform:translateX(-50%)">1000</div>
<div class="t" style="left:363.5px;top:502.6px;font-size:7.8px;color:#111;-webkit-text-stroke:0.15px #111;transform:translateX(-50%)">1500</div>
<div class="t" style="left:330.0px;top:510.2px;font-size:7.6px;color:#111;-webkit-text-stroke:0.12px #111">vs [m/s]</div>
<div class="t" style="left:285.6px;top:425.1px;font-size:8.3px;color:#111;-webkit-text-stroke:0.12px #111;transform:translate(-50%,-50%) rotate(-90deg)">Depth [m]</div>
<div class="t" style="left:283.9px;top:338.4px;font-size:12.3px;font-weight:bold;color:#000">(e)</div>
<div class="t" style="left:302.5px;top:338.9px;font-size:10.9px;color:#000;-webkit-text-stroke:0.25px #000">Inversion HEI200,</div>
<div class="t" style="left:283.9px;top:354.6px;font-size:10.9px;color:#000;-webkit-text-stroke:0.25px #000">vs</div>
<svg width="550" height="684" style="left:0;top:0">
<clipPath id="ff"><rect x="439.6" y="352.1" width="82.29999999999995" height="148.2"/></clipPath>
<rect x="439.6" y="352.1" width="82.29999999999995" height="148.2" fill="#fff"/>
<g clip-path="url(#ff)">
<polygon points="434.0,348.0 464.0,348.0 478.0,375.0 493.0,400.0 510.0,425.0 526.0,445.0 526.0,505.0 482.0,505.0 478.0,465.0 466.0,430.0 454.0,400.0 440.0,372.0" fill="#fff480" opacity="0.88" filter="url(#hb4)"/>
<polygon points="440.0,353.0 458.0,354.0 472.0,378.0 488.0,405.0 506.0,430.0 524.0,452.0 524.0,505.0 486.0,505.0 482.0,465.0 472.0,435.0 460.0,405.0 448.0,378.0" fill="#fff250" opacity="0.6" filter="url(#hb3)"/>
<polygon points="442.0,353.0 452.0,356.0 462.0,375.0 470.0,400.0 466.0,410.0 456.0,390.0 448.0,372.0" fill="#f49a80" opacity="0.45" filter="url(#hb2)"/>
<line x1="439.6" y1="366.9" x2="521.9" y2="366.9" stroke="#d0d0d0" stroke-width="0.5" opacity="0.8"/>
<line x1="439.6" y1="381.7" x2="521.9" y2="381.7" stroke="#d0d0d0" stroke-width="0.5" opacity="0.8"/>
<line x1="439.6" y1="396.6" x2="521.9" y2="396.6" stroke="#d0d0d0" stroke-width="0.5" opacity="0.8"/>
<line x1="439.6" y1="411.4" x2="521.9" y2="411.4" stroke="#d0d0d0" stroke-width="0.5" opacity="0.8"/>
<line x1="439.6" y1="426.2" x2="521.9" y2="426.2" stroke="#d0d0d0" stroke-width="0.5" opacity="0.8"/>
<line x1="439.6" y1="441.0" x2="521.9" y2="441.0" stroke="#d0d0d0" stroke-width="0.5" opacity="0.8"/>
<line x1="439.6" y1="455.8" x2="521.9" y2="455.8" stroke="#d0d0d0" stroke-width="0.5" opacity="0.8"/>
<line x1="439.6" y1="470.7" x2="521.9" y2="470.7" stroke="#d0d0d0" stroke-width="0.5" opacity="0.8"/>
<line x1="439.6" y1="485.5" x2="521.9" y2="485.5" stroke="#d0d0d0" stroke-width="0.5" opacity="0.8"/>
<line x1="451.0" y1="352.1" x2="451.0" y2="500.3" stroke="#d0d0d0" stroke-width="0.5" opacity="0.8"/>
<line x1="475.0" y1="352.1" x2="475.0" y2="500.3" stroke="#d0d0d0" stroke-width="0.5" opacity="0.8"/>
<line x1="487.0" y1="352.1" x2="487.0" y2="500.3" stroke="#d0d0d0" stroke-width="0.5" opacity="0.8"/>
<line x1="500.0" y1="352.1" x2="500.0" y2="500.3" stroke="#d0d0d0" stroke-width="0.5" opacity="0.8"/>
<line x1="512.0" y1="352.1" x2="512.0" y2="500.3" stroke="#d0d0d0" stroke-width="0.5" opacity="0.8"/>
<polyline points="440.0,352.5 449.7,356.0 449.7,374.9 473.0,374.9 473.0,434.0 479.5,434.0 479.5,473.3 483.6,473.3 483.6,487.2 507.8,487.2 507.8,500.3" fill="none" stroke="#8c8ce0" stroke-width="0.7"/>
<polyline points="440.0,352.5 455.0,357.0 460.0,362.0 462.0,368.0 465.3,374.9 465.3,393.4 468.6,393.4 468.6,405.0 472.0,405.0 473.0,421.0 488.7,421.0 488.7,434.0 512.2,434.0 512.2,500.3" fill="none" stroke="#d2708e" stroke-width="0.7"/>
</g>
<rect x="439.6" y="352.1" width="82.29999999999995" height="148.2" fill="none" stroke="#333" stroke-width="1"/>
<line x1="437.6" y1="352.1" x2="439.6" y2="352.1" stroke="#333" stroke-width="0.6"/>
<line x1="437.6" y1="381.7" x2="439.6" y2="381.7" stroke="#333" stroke-width="0.6"/>
<line x1="437.6" y1="411.4" x2="439.6" y2="411.4" stroke="#333" stroke-width="0.6"/>
<line x1="437.6" y1="441.0" x2="439.6" y2="441.0" stroke="#333" stroke-width="0.6"/>
<line x1="437.6" y1="470.7" x2="439.6" y2="470.7" stroke="#333" stroke-width="0.6"/>
<line x1="437.6" y1="500.3" x2="439.6" y2="500.3" stroke="#333" stroke-width="0.6"/>
</svg>
<div class="t" style="left:435.3px;top:353.7px;font-size:8.2px;color:#111;-webkit-text-stroke:0.15px #111;transform:translate(-100%,-50%)">0</div>
<div class="t" style="left:435.3px;top:383.3px;font-size:8.2px;color:#111;-webkit-text-stroke:0.15px #111;transform:translate(-100%,-50%)">20</div>
<div class="t" style="left:435.3px;top:413.0px;font-size:8.2px;color:#111;-webkit-text-stroke:0.15px #111;transform:translate(-100%,-50%)">40</div>
<div class="t" style="left:435.3px;top:442.6px;font-size:8.2px;color:#111;-webkit-text-stroke:0.15px #111;transform:translate(-100%,-50%)">60</div>
<div class="t" style="left:435.3px;top:472.3px;font-size:8.2px;color:#111;-webkit-text-stroke:0.15px #111;transform:translate(-100%,-50%)">80</div>
<div class="t" style="left:435.3px;top:501.9px;font-size:8.2px;color:#111;-webkit-text-stroke:0.15px #111;transform:translate(-100%,-50%)">100</div>
<div class="t" style="left:451.0px;top:502.3px;font-size:7.8px;color:#111;-webkit-text-stroke:0.15px #111;transform:translateX(-50%)">1000</div>
<div class="t" style="left:475.0px;top:502.3px;font-size:7.8px;color:#111;-webkit-text-stroke:0.15px #111;transform:translateX(-50%)">2000</div>
<div class="t" style="left:500.0px;top:502.3px;font-size:7.8px;color:#111;-webkit-text-stroke:0.15px #111;transform:translateX(-50%)">3000</div>
<div class="t" style="left:473.0px;top:509.9px;font-size:7.6px;color:#111;-webkit-text-stroke:0.12px #111">vp [m/s]</div>
<div class="t" style="left:418.6px;top:424.7px;font-size:8.3px;color:#111;-webkit-text-stroke:0.12px #111;transform:translate(-50%,-50%) rotate(-90deg)">Depth [m]</div>
<div class="t" style="left:419.3px;top:338.4px;font-size:12.3px;font-weight:bold;color:#000">(f)</div>
<div class="t" style="left:434.2px;top:338.9px;font-size:10.9px;color:#000;-webkit-text-stroke:0.25px #000">Inversion HEI200, vp</div>
<svg width="550" height="684" style="left:0;top:0">
<defs>
<filter id="gb2" x="-10%" y="-10%" width="120%" height="120%"><feGaussianBlur stdDeviation="1.6"/></filter>
<filter id="gb4" x="-10%" y="-10%" width="120%" height="120%"><feGaussianBlur stdDeviation="3.5"/></filter>
<clipPath id="gclip"><path d="M29.5,555.1 L31.6,554.5 L33.7,553.9 L35.8,553.3 L37.9,552.7 L40.0,552.1 L42.0,551.5 L44.1,550.9 L46.2,550.4 L48.3,549.7 L50.4,549.1 L52.5,548.4 L54.6,548.0 L56.7,548.6 L58.8,549.1 L60.9,549.7 L62.9,550.3 L65.0,551.4 L67.1,552.6 L69.2,553.7 L71.3,554.9 L73.4,556.0 L75.5,557.0 L77.6,558.0 L79.7,558.9 L81.8,559.9 L83.9,560.8 L85.9,561.7 L88.0,562.2 L90.1,562.6 L92.2,563.0 L94.3,563.4 L96.4,563.9 L98.5,564.3 L100.6,564.7 L102.7,564.7 L104.8,564.7 L106.8,564.7 L108.9,564.7 L111.0,564.7 L113.1,564.8 L115.2,565.2 L117.3,565.6 L119.4,565.9 L121.5,566.3 L123.6,566.8 L125.7,567.3 L127.8,567.8 L129.8,568.2 L131.9,568.4 L134.0,568.6 L136.1,568.9 L138.2,569.1 L140.3,569.3 L142.4,569.5 L144.5,569.7 L146.6,569.6 L148.7,569.4 L150.7,569.3 L152.8,569.2 L154.9,569.2 L157.0,569.7 L159.1,570.1 L161.2,570.6 L163.3,571.0 L165.4,571.5 L167.5,571.9 L169.6,572.4 L171.7,572.7 L173.7,572.9 L175.8,573.1 L177.9,573.3 L180.0,573.5 L182.1,573.6 L184.2,573.8 L186.3,574.0 L188.4,573.6 L190.5,573.3 L192.6,573.0 L194.6,572.7 L196.7,572.4 L198.8,572.1 L200.9,571.8 L203.0,571.4 L205.1,571.1 L207.2,570.4 L209.3,569.4 L211.4,568.3 L213.5,567.3 L215.6,566.3 L217.6,565.2 L219.7,564.2 L221.8,563.2 L223.9,562.1 L226.0,561.2 L228.1,560.5 L230.2,559.8 L232.3,559.1 L234.4,558.4 L236.5,557.7 L238.6,557.0 L240.6,556.3 L242.7,555.6 L244.8,554.9 L246.9,555.1 L249.0,555.6 L251.1,556.1 L253.2,556.6 L255.3,557.1 L257.4,557.7 L259.5,558.2 L261.5,558.7 L263.6,559.2 L265.7,559.7 L267.8,560.2 L269.9,560.8 L272.0,561.3 L274.1,561.9 L276.2,562.4 L278.3,563.0 L280.4,563.5 L282.5,564.1 L284.5,564.6 L286.6,565.2 L288.7,565.7 L290.8,566.3 L292.9,566.9 L295.0,567.4 L297.1,568.0 L299.2,568.6 L301.3,569.1 L303.4,569.7 L305.4,570.3 L307.5,570.8 L309.6,571.4 L311.7,571.9 L313.8,572.5 L315.9,573.1 L318.0,573.6 L320.1,574.2 L322.2,574.8 L324.3,575.3 L326.4,575.6 L328.4,575.8 L330.5,576.0 L332.6,576.2 L334.7,576.4 L336.8,576.6 L338.9,576.8 L341.0,577.0 L343.1,576.7 L345.2,576.3 L347.3,576.0 L349.3,575.7 L351.4,575.4 L353.5,575.1 L355.6,574.7 L357.7,574.4 L359.8,574.0 L361.9,573.4 L364.0,572.9 L366.1,572.4 L368.2,571.9 L370.3,571.4 L372.3,570.9 L374.4,570.3 L376.5,570.1 L378.6,570.2 L380.7,570.4 L382.8,570.6 L384.9,570.7 L387.0,570.9 L389.1,571.1 L391.2,571.2 L393.2,571.4 L395.3,571.8 L397.4,572.3 L399.5,572.7 L401.6,573.2 L403.7,573.7 L405.8,574.1 L407.9,574.6 L410.0,575.0 L412.1,575.5 L414.2,576.0 L416.2,576.6 L418.3,577.1 L420.4,577.7 L422.5,578.2 L424.6,578.8 L426.7,579.3 L428.8,579.9 L430.9,580.4 L433.0,580.8 L435.1,581.2 L437.1,581.7 L439.2,582.1 L441.3,582.5 L443.4,582.9 L445.5,583.4 L447.6,583.8 L447.6,668.5 L29.5,652.7 Z"/></clipPath>
</defs>
<clipPath id="gclip2"><path d="M29.5,555.1 L29.5,555.1 L31.6,554.5 L33.7,553.9 L35.8,553.3 L37.9,552.7 L40.0,552.1 L42.0,551.5 L44.1,550.9 L46.2,550.4 L48.3,549.7 L50.4,549.1 L52.5,548.4 L54.6,548.0 L56.7,548.6 L58.8,549.1 L60.9,549.7 L62.9,550.3 L65.0,551.4 L67.1,552.6 L69.2,553.7 L71.3,554.9 L73.4,556.0 L75.5,557.0 L77.6,558.0 L79.7,558.9 L81.8,559.9 L83.9,560.8 L85.9,561.7 L88.0,562.2 L90.1,562.6 L92.2,563.0 L94.3,563.4 L96.4,563.9 L98.5,564.3 L100.6,564.7 L102.7,564.7 L104.8,564.7 L106.8,564.7 L108.9,564.7 L111.0,564.7 L113.1,564.8 L115.2,565.2 L117.3,565.6 L119.4,565.9 L121.5,566.3 L123.6,566.8 L125.7,567.3 L127.8,567.8 L129.8,568.2 L131.9,568.4 L134.0,568.6 L136.1,568.9 L138.2,569.1 L140.3,569.3 L142.4,569.5 L144.5,569.7 L146.6,569.6 L148.7,569.4 L150.7,569.3 L152.8,569.2 L154.9,569.2 L157.0,569.7 L159.1,570.1 L161.2,570.6 L163.3,571.0 L165.4,571.5 L167.5,571.9 L169.6,572.4 L171.7,572.7 L173.7,572.9 L175.8,573.1 L177.9,573.3 L180.0,573.5 L182.1,573.6 L184.2,573.8 L186.3,574.0 L188.4,573.6 L190.5,573.3 L192.6,573.0 L194.6,572.7 L196.7,572.4 L198.8,572.1 L200.9,571.8 L203.0,571.4 L205.1,571.1 L207.2,570.4 L209.3,569.4 L211.4,568.3 L213.5,567.3 L215.6,566.3 L217.6,565.2 L219.7,564.2 L221.8,563.2 L223.9,562.1 L226.0,561.2 L228.1,560.5 L230.2,559.8 L232.3,559.1 L234.4,558.4 L236.5,557.7 L238.6,557.0 L240.6,556.3 L242.7,555.6 L244.8,554.9 L246.9,555.1 L249.0,555.6 L251.1,556.1 L253.2,556.6 L255.3,557.1 L257.4,557.7 L259.5,558.2 L261.5,558.7 L263.6,559.2 L265.7,559.7 L267.8,560.2 L269.9,560.8 L272.0,561.3 L274.1,561.9 L276.2,562.4 L278.3,563.0 L280.4,563.5 L282.5,564.1 L284.5,564.6 L286.6,565.2 L288.7,565.7 L290.8,566.3 L292.9,566.9 L295.0,567.4 L297.1,568.0 L299.2,568.6 L301.3,569.1 L303.4,569.7 L305.4,570.3 L307.5,570.8 L309.6,571.4 L311.7,571.9 L313.8,572.5 L315.9,573.1 L318.0,573.6 L320.1,574.2 L322.2,574.8 L324.3,575.3 L326.4,575.6 L328.4,575.8 L330.5,576.0 L332.6,576.2 L334.7,576.4 L336.8,576.6 L338.9,576.8 L341.0,577.0 L343.1,576.7 L345.2,576.3 L347.3,576.0 L349.3,575.7 L351.4,575.4 L353.5,575.1 L355.6,574.7 L357.7,574.4 L359.8,574.0 L361.9,573.4 L364.0,572.9 L366.1,572.4 L368.2,571.9 L370.3,571.4 L372.3,570.9 L374.4,570.3 L376.5,570.1 L378.6,570.2 L380.7,570.4 L382.8,570.6 L384.9,570.7 L387.0,570.9 L389.1,571.1 L391.2,571.2 L393.2,571.4 L395.3,571.8 L397.4,572.3 L399.5,572.7 L401.6,573.2 L403.7,573.7 L405.8,574.1 L407.9,574.6 L410.0,575.0 L412.1,575.5 L414.2,576.0 L416.2,576.6 L418.3,577.1 L420.4,577.7 L422.5,578.2 L424.6,578.8 L426.7,579.3 L428.8,579.9 L430.9,580.4 L433.0,580.8 L435.1,581.2 L437.1,581.7 L439.2,582.1 L441.3,582.5 L443.4,582.9 L445.5,583.4 L447.6,583.8 L447.6,668.5 L445.5,668.5 L443.4,668.5 L441.3,668.5 L439.2,668.5 L437.1,668.5 L435.1,668.5 L433.0,668.5 L430.9,668.5 L428.8,668.5 L426.7,668.5 L424.6,668.5 L422.5,668.5 L420.4,668.5 L418.3,668.5 L416.2,668.5 L414.2,668.5 L412.1,668.5 L410.0,668.5 L407.9,668.5 L405.8,668.5 L403.7,668.4 L401.6,668.4 L399.5,668.4 L397.4,668.4 L395.3,668.4 L393.2,668.4 L391.2,668.4 L389.1,668.4 L387.0,668.4 L384.9,668.4 L382.8,668.4 L380.7,668.4 L378.6,668.4 L376.5,668.4 L374.4,668.4 L372.3,668.4 L370.3,668.4 L368.2,668.4 L366.1,668.4 L364.0,668.4 L361.9,668.4 L359.8,668.4 L357.7,668.4 L355.6,668.4 L353.5,668.4 L351.4,668.4 L349.3,668.4 L347.3,668.4 L345.2,668.4 L343.1,668.4 L341.0,668.4 L338.9,668.4 L336.8,668.4 L334.7,668.4 L332.6,668.4 L330.5,668.4 L328.4,668.4 L326.4,668.4 L324.3,668.4 L322.2,668.4 L320.1,668.3 L318.0,668.3 L315.9,668.3 L313.8,668.3 L311.7,668.3 L309.6,668.3 L307.5,668.3 L305.4,668.3 L303.4,668.3 L301.3,668.3 L299.2,668.3 L297.1,668.3 L295.0,668.3 L292.9,668.3 L290.8,668.3 L288.7,668.3 L286.6,668.3 L284.5,668.3 L282.5,668.3 L280.4,668.3 L278.3,668.3 L276.2,668.1 L274.1,667.9 L272.0,667.7 L269.9,667.4 L267.8,667.2 L265.7,667.0 L263.6,666.8 L261.5,666.5 L259.5,666.3 L257.4,666.1 L255.3,665.9 L253.2,665.6 L251.1,665.4 L249.0,665.2 L246.9,664.9 L244.8,664.7 L242.7,664.5 L240.6,664.3 L238.6,664.0 L236.5,663.8 L234.4,663.6 L232.3,663.4 L230.2,663.1 L228.1,662.9 L226.0,662.7 L223.9,662.5 L221.8,662.2 L219.7,662.0 L217.6,661.8 L215.6,661.6 L213.5,661.3 L211.4,661.1 L209.3,660.9 L207.2,660.7 L205.1,660.4 L203.0,660.2 L200.9,660.0 L198.8,659.9 L196.7,659.8 L194.6,659.7 L192.6,659.5 L190.5,659.4 L188.4,659.3 L186.3,659.2 L184.2,659.1 L182.1,659.0 L180.0,658.9 L177.9,658.8 L175.8,658.7 L173.7,658.5 L171.7,658.4 L169.6,658.3 L167.5,658.2 L165.4,658.1 L163.3,658.0 L161.2,657.9 L159.1,657.8 L157.0,657.6 L154.9,657.5 L152.8,657.4 L150.7,657.3 L148.7,657.2 L146.6,657.1 L144.5,657.0 L142.4,656.9 L140.3,656.8 L138.2,656.7 L136.1,656.7 L134.0,656.6 L131.9,656.5 L129.8,656.4 L127.8,656.4 L125.7,656.3 L123.6,656.2 L121.5,656.1 L119.4,656.0 L117.3,656.0 L115.2,655.9 L113.1,655.8 L111.0,655.7 L108.9,655.7 L106.8,655.6 L104.8,655.5 L102.7,655.4 L100.6,655.3 L98.5,655.3 L96.4,655.2 L94.3,655.1 L92.2,655.0 L90.1,655.0 L88.0,654.9 L85.9,654.8 L83.9,654.7 L81.8,654.6 L79.7,654.6 L77.6,654.5 L75.5,654.4 L73.4,654.3 L71.3,654.3 L69.2,654.2 L67.1,654.1 L65.0,654.0 L62.9,653.9 L60.9,653.9 L58.8,653.8 L56.7,653.7 L54.6,653.6 L52.5,653.6 L50.4,653.5 L48.3,653.4 L46.2,653.3 L44.1,653.2 L42.0,653.2 L40.0,653.1 L37.9,653.0 L35.8,652.9 L33.7,652.9 L31.6,652.8 L29.5,652.7 Z"/></clipPath>
<line x1="118.3" y1="546.4" x2="118.3" y2="669" stroke="#6a9ad8" stroke-width="0.9"/>
<line x1="207.6" y1="546.5" x2="207.6" y2="669" stroke="#6a9ad8" stroke-width="0.9"/>
<line x1="296.4" y1="545.8" x2="296.4" y2="668" stroke="#6a9ad8" stroke-width="0.9"/>
<line x1="386" y1="545.8" x2="386" y2="668" stroke="#6a9ad8" stroke-width="0.9"/>
<g clip-path="url(#gclip2)">
<rect x="29.5" y="540" width="418.1" height="135" fill="#44e02c"/>
<path d="M46.8,586.2 L57.7,597 L68.6,602.5 L81.7,612.4 L97,622.2 L112.3,632 L127.6,640.7 L140.6,646.2 L160,651.5 L200,653 L200,632 C170,628 140,615 120,600 C100,585 80,572 60,566 L46.8,572 Z" fill="#22a878" opacity="0.75" filter="url(#gb4)"/>
<g filter="url(#gb4)">
<path d="M29,600 C60,610 120,625 180,642 C240,640 300,645 360,640 C400,632 430,628 450,630 L450,680 L29,680 Z" fill="#2cb85a" opacity="0.7"/>
<path d="M60,575 C90,590 110,600 140,615 L140,640 L60,640 Z" fill="#28b070" opacity="0.5"/>
</g>
<g filter="url(#gb2)">
<polygon points="29.5,561.0 31.6,560.4 33.7,559.8 35.8,559.2 37.9,558.6 40.0,558.0 42.0,557.4 44.1,556.8 46.2,556.3 48.3,555.6 50.4,555.0 52.5,554.3 54.6,553.9 56.7,554.5 58.8,555.0 60.9,555.6 62.9,556.2 65.0,557.3 67.1,558.5 69.2,559.6 71.3,560.9 73.4,562.3 75.5,563.6 77.6,564.8 79.7,565.9 81.8,567.3 83.9,568.7 85.9,570.0 88.0,570.9 90.1,571.8 92.2,572.7 94.3,573.6 96.4,574.5 98.5,575.4 100.6,576.3 102.7,576.8 104.8,577.3 106.8,577.8 108.9,578.3 111.0,578.7 113.1,579.4 115.2,580.2 117.3,581.1 119.4,581.9 121.5,582.8 123.6,583.7 125.7,584.7 127.8,585.7 129.8,586.6 131.9,587.3 134.0,588.0 136.1,588.7 138.2,589.4 140.3,590.1 142.4,590.8 144.5,591.5 146.6,591.9 148.7,592.2 150.7,592.6 152.8,592.9 154.9,593.4 157.0,594.4 159.1,595.3 161.2,596.1 163.3,596.8 165.4,597.5 167.5,598.2 169.6,598.9 171.7,599.5 173.7,599.9 175.8,600.3 177.9,600.8 180.0,601.2 182.1,601.6 184.2,602.1 186.3,602.4 188.4,602.4 190.5,602.2 192.6,601.9 194.6,601.6 196.7,601.3 198.8,601.0 200.9,600.7 203.0,600.3 205.1,600.0 207.2,599.3 209.3,598.3 211.4,597.2 213.5,596.2 215.6,595.2 217.6,594.1 219.7,593.1 221.8,592.1 223.9,591.0 226.0,590.1 228.1,589.4 230.2,588.7 232.3,588.0 234.4,587.3 236.5,586.6 238.6,585.9 240.6,585.2 242.7,584.5 244.8,583.8 246.9,584.0 249.0,584.5 251.1,585.0 253.2,585.5 255.3,586.0 257.4,586.6 259.5,587.1 261.5,587.6 263.6,588.1 265.7,588.6 267.8,589.1 269.9,589.7 272.0,590.2 274.1,590.8 276.2,591.3 278.3,591.9 280.4,592.4 282.5,593.1 284.5,593.7 286.6,594.4 288.7,595.0 290.8,595.7 292.9,596.3 295.0,597.0 297.1,597.6 299.2,598.3 301.3,598.9 303.4,599.6 305.4,600.2 307.5,600.9 309.6,601.5 311.7,602.2 313.8,602.8 315.9,603.5 318.0,604.1 320.1,604.8 322.2,605.4 324.3,606.1 326.4,606.5 328.4,606.8 330.5,607.0 332.6,607.3 334.7,607.6 336.8,607.9 338.9,608.2 341.0,608.4 343.1,608.1 345.2,607.7 347.3,607.4 349.3,607.1 351.4,606.8 353.5,606.5 355.6,606.1 357.7,605.8 359.8,605.4 361.9,604.8 364.0,604.3 366.1,603.8 368.2,603.3 370.3,602.8 372.3,602.3 374.4,601.7 376.5,601.5 378.6,601.6 380.7,601.8 382.8,602.0 384.9,602.1 387.0,602.3 389.1,602.5 391.2,602.6 393.2,602.8 395.3,603.2 397.4,603.7 399.5,604.1 401.6,604.6 403.7,605.1 405.8,605.5 407.9,606.0 410.0,606.4 412.1,606.9 414.2,607.4 416.2,608.0 418.3,608.5 420.4,609.1 422.5,609.6 424.6,610.2 426.7,610.7 428.8,611.3 430.9,611.8 433.0,612.2 435.1,612.6 437.1,613.1 439.2,613.5 441.3,613.9 443.4,614.3 445.5,614.8 447.6,615.2 447.6,637.2 445.5,636.8 443.4,636.3 441.3,635.9 439.2,635.5 437.1,635.1 435.1,634.6 433.0,634.2 430.9,633.8 428.8,633.3 426.7,632.7 424.6,632.2 422.5,631.6 420.4,631.1 418.3,630.5 416.2,630.0 414.2,629.4 412.1,628.9 410.0,628.4 407.9,628.0 405.8,627.5 403.7,627.1 401.6,626.6 399.5,626.1 397.4,625.7 395.3,625.2 393.2,624.8 391.2,624.6 389.1,624.5 387.0,624.3 384.9,624.1 382.8,624.0 380.7,623.8 378.6,623.6 376.5,623.5 374.4,623.7 372.3,624.3 370.3,624.8 368.2,625.3 366.1,625.8 364.0,626.3 361.9,626.8 359.8,627.4 357.7,627.8 355.6,628.1 353.5,628.5 351.4,628.8 349.3,629.1 347.3,629.4 345.2,629.7 343.1,630.1 341.0,630.4 338.9,630.2 336.8,629.9 334.7,629.6 332.6,629.3 330.5,629.0 328.4,628.8 326.4,628.5 324.3,628.1 322.2,627.4 320.1,626.8 318.0,626.1 315.9,625.5 313.8,624.8 311.7,624.2 309.6,623.5 307.5,622.9 305.4,622.2 303.4,621.6 301.3,620.9 299.2,620.3 297.1,619.6 295.0,619.0 292.9,618.3 290.8,617.7 288.7,617.0 286.6,616.4 284.5,615.7 282.5,615.1 280.4,614.4 278.3,613.9 276.2,613.3 274.1,612.8 272.0,612.2 269.9,611.7 267.8,611.1 265.7,610.6 263.6,610.1 261.5,609.6 259.5,609.1 257.4,608.6 255.3,608.0 253.2,607.5 251.1,607.0 249.0,606.5 246.9,606.0 244.8,605.8 242.7,606.5 240.6,607.2 238.6,607.9 236.5,608.6 234.4,609.3 232.3,610.0 230.2,610.7 228.1,611.4 226.0,612.1 223.9,613.0 221.8,614.1 219.7,615.1 217.6,616.1 215.6,617.2 213.5,618.2 211.4,619.2 209.3,620.3 207.2,621.3 205.1,622.0 203.0,622.3 200.9,622.7 198.8,623.0 196.7,623.3 194.6,623.6 192.6,623.9 190.5,624.2 188.4,624.2 186.3,624.0 184.2,623.4 182.1,622.8 180.0,622.1 177.9,621.5 175.8,620.8 173.7,620.1 171.7,619.5 169.6,618.7 167.5,617.8 165.4,616.8 163.3,615.9 161.2,615.0 159.1,614.0 157.0,612.8 154.9,611.6 152.8,610.9 150.7,610.3 148.7,609.7 146.6,609.1 144.5,608.6 142.4,607.7 140.3,606.7 138.2,605.8 136.1,604.9 134.0,604.0 131.9,603.0 129.8,602.1 127.8,600.9 125.7,599.7 123.6,598.5 121.5,597.4 119.4,596.3 117.3,595.2 115.2,594.1 113.1,593.0 111.0,592.2 108.9,591.5 106.8,590.8 104.8,590.1 102.7,589.3 100.6,588.6 98.5,587.5 96.4,586.4 94.3,585.2 92.2,584.1 90.1,583.0 88.0,581.9 85.9,580.8 83.9,579.2 81.8,577.6 79.7,576.0 77.6,574.6 75.5,573.2 73.4,571.7 71.3,570.0 69.2,568.6 67.1,567.5 65.0,566.3 62.9,565.2 60.9,564.6 58.8,564.0 56.7,563.5 54.6,562.9 52.5,563.3 50.4,564.0 48.3,564.6 46.2,565.3 44.1,565.8 42.0,566.4 40.0,567.0 37.9,567.6 35.8,568.2 33.7,568.8 31.6,569.4 29.5,570.0" fill="#a8ec30" />
<polygon points="29.5,558.0 31.6,557.4 33.7,556.8 35.8,556.2 37.9,555.6 40.0,555.0 42.0,554.4 44.1,553.8 46.2,553.3 48.3,552.6 50.4,552.0 52.5,551.3 54.6,550.9 56.7,551.5 58.8,552.0 60.9,552.6 62.9,553.2 65.0,554.3 67.1,555.5 69.2,556.6 71.3,557.8 73.4,558.9 75.5,559.9 77.6,560.9 79.7,561.8 81.8,562.9 83.9,564.1 85.9,565.2 88.0,565.8 90.1,566.5 92.2,567.1 94.3,567.8 96.4,568.4 98.5,569.1 100.6,569.8 102.7,570.0 104.8,570.2 106.8,570.5 108.9,570.7 111.0,571.0 113.1,571.3 115.2,571.9 117.3,572.5 119.4,573.1 121.5,573.8 123.6,574.5 125.7,575.2 127.8,575.9 129.8,576.6 131.9,577.1 134.0,577.6 136.1,578.0 138.2,578.5 140.3,578.9 142.4,579.4 144.5,579.8 146.6,579.9 148.7,580.0 150.7,580.2 152.8,580.3 154.9,580.5 157.0,581.2 159.1,581.9 161.2,582.5 163.3,582.9 165.4,583.4 167.5,583.8 169.6,584.3 171.7,584.6 173.7,584.8 175.8,585.0 177.9,585.2 180.0,585.4 182.1,585.5 184.2,585.7 186.3,585.9 188.4,585.5 190.5,585.2 192.6,584.9 194.6,584.6 196.7,584.3 198.8,584.0 200.9,583.7 203.0,583.3 205.1,583.0 207.2,582.3 209.3,581.3 211.4,580.2 213.5,579.2 215.6,578.2 217.6,577.1 219.7,576.1 221.8,575.1 223.9,574.0 226.0,573.1 228.1,572.4 230.2,571.7 232.3,571.0 234.4,570.3 236.5,569.6 238.6,568.9 240.6,568.2 242.7,567.5 244.8,566.8 246.9,567.0 249.0,567.5 251.1,568.0 253.2,568.5 255.3,569.0 257.4,569.6 259.5,570.1 261.5,570.6 263.6,571.1 265.7,571.6 267.8,572.1 269.9,572.7 272.0,573.2 274.1,573.8 276.2,574.3 278.3,574.9 280.4,575.4 282.5,576.1 284.5,576.7 286.6,577.4 288.7,578.0 290.8,578.7 292.9,579.3 295.0,580.0 297.1,580.6 299.2,581.3 301.3,581.9 303.4,582.6 305.4,583.2 307.5,583.9 309.6,584.5 311.7,585.2 313.8,585.8 315.9,586.5 318.0,587.1 320.1,587.8 322.2,588.4 324.3,589.1 326.4,589.5 328.4,589.8 330.5,590.0 332.6,590.3 334.7,590.6 336.8,590.9 338.9,591.2 341.0,591.4 343.1,591.1 345.2,590.7 347.3,590.4 349.3,590.1 351.4,589.8 353.5,589.5 355.6,589.1 357.7,588.8 359.8,588.4 361.9,587.8 364.0,587.3 366.1,586.8 368.2,586.3 370.3,585.8 372.3,585.3 374.4,584.7 376.5,584.5 378.6,584.6 380.7,584.8 382.8,585.0 384.9,585.1 387.0,585.3 389.1,585.5 391.2,585.6 393.2,585.8 395.3,586.2 397.4,586.7 399.5,587.1 401.6,587.6 403.7,588.1 405.8,588.5 407.9,589.0 410.0,589.4 412.1,589.9 414.2,590.4 416.2,591.0 418.3,591.5 420.4,592.1 422.5,592.6 424.6,593.2 426.7,593.7 428.8,594.3 430.9,594.8 433.0,595.2 435.1,595.6 437.1,596.1 439.2,596.5 441.3,596.9 443.4,597.3 445.5,597.8 447.6,598.2 447.6,616.2 445.5,615.8 443.4,615.3 441.3,614.9 439.2,614.5 437.1,614.1 435.1,613.6 433.0,613.2 430.9,612.8 428.8,612.3 426.7,611.7 424.6,611.2 422.5,610.6 420.4,610.1 418.3,609.5 416.2,609.0 414.2,608.4 412.1,607.9 410.0,607.4 407.9,607.0 405.8,606.5 403.7,606.1 401.6,605.6 399.5,605.1 397.4,604.7 395.3,604.2 393.2,603.8 391.2,603.6 389.1,603.5 387.0,603.3 384.9,603.1 382.8,603.0 380.7,602.8 378.6,602.6 376.5,602.5 374.4,602.7 372.3,603.3 370.3,603.8 368.2,604.3 366.1,604.8 364.0,605.3 361.9,605.8 359.8,606.4 357.7,606.8 355.6,607.1 353.5,607.5 351.4,607.8 349.3,608.1 347.3,608.4 345.2,608.7 343.1,609.1 341.0,609.4 338.9,609.2 336.8,608.9 334.7,608.6 332.6,608.3 330.5,608.0 328.4,607.8 326.4,607.5 324.3,607.1 322.2,606.4 320.1,605.8 318.0,605.1 315.9,604.5 313.8,603.8 311.7,603.2 309.6,602.5 307.5,601.9 305.4,601.2 303.4,600.6 301.3,599.9 299.2,599.3 297.1,598.6 295.0,598.0 292.9,597.3 290.8,596.7 288.7,596.0 286.6,595.4 284.5,594.7 282.5,594.1 280.4,593.4 278.3,592.9 276.2,592.3 274.1,591.8 272.0,591.2 269.9,590.7 267.8,590.1 265.7,589.6 263.6,589.1 261.5,588.6 259.5,588.1 257.4,587.6 255.3,587.0 253.2,586.5 251.1,586.0 249.0,585.5 246.9,585.0 244.8,584.8 242.7,585.5 240.6,586.2 238.6,586.9 236.5,587.6 234.4,588.3 232.3,589.0 230.2,589.7 228.1,590.4 226.0,591.1 223.9,592.0 221.8,593.1 219.7,594.1 217.6,595.1 215.6,596.2 213.5,597.2 211.4,598.2 209.3,599.3 207.2,600.3 205.1,601.0 203.0,601.3 200.9,601.7 198.8,602.0 196.7,602.3 194.6,602.6 192.6,602.9 190.5,603.2 188.4,603.4 186.3,603.4 184.2,603.1 182.1,602.6 180.0,602.2 177.9,601.8 175.8,601.3 173.7,600.9 171.7,600.5 169.6,599.9 167.5,599.2 165.4,598.5 163.3,597.8 161.2,597.1 159.1,596.3 157.0,595.4 154.9,594.4 152.8,593.9 150.7,593.6 148.7,593.2 146.6,592.9 144.5,592.5 142.4,591.8 140.3,591.1 138.2,590.4 136.1,589.7 134.0,589.0 131.9,588.3 129.8,587.6 127.8,586.7 125.7,585.7 123.6,584.7 121.5,583.8 119.4,582.9 117.3,582.1 115.2,581.2 113.1,580.4 111.0,579.7 108.9,579.3 106.8,578.8 104.8,578.3 102.7,577.8 100.6,577.3 98.5,576.4 96.4,575.5 94.3,574.6 92.2,573.7 90.1,572.8 88.0,571.9 85.9,571.0 83.9,569.7 81.8,568.3 79.7,566.9 77.6,565.8 75.5,564.6 73.4,563.3 71.3,561.9 69.2,560.6 67.1,559.5 65.0,558.3 62.9,557.2 60.9,556.6 58.8,556.0 56.7,555.5 54.6,554.9 52.5,555.3 50.4,556.0 48.3,556.6 46.2,557.3 44.1,557.8 42.0,558.4 40.0,559.0 37.9,559.6 35.8,560.2 33.7,560.8 31.6,561.4 29.5,562.0" fill="#f4ee18" />
<polygon points="29.5,556.4 31.6,555.8 33.7,555.2 35.8,554.6 37.9,554.0 40.0,553.4 42.0,552.8 44.1,552.2 46.2,551.7 48.3,551.0 50.4,550.4 52.5,549.7 54.6,549.3 56.7,549.9 58.8,550.4 60.9,551.0 62.9,551.6 65.0,552.7 67.1,553.9 69.2,555.0 71.3,556.2 73.4,557.3 75.5,558.3 77.6,559.3 79.7,560.2 81.8,561.3 83.9,562.3 85.9,563.4 88.0,564.0 90.1,564.5 92.2,565.1 94.3,565.7 96.4,566.3 98.5,566.9 100.6,567.5 102.7,567.7 104.8,567.9 106.8,568.0 108.9,568.2 111.0,568.4 113.1,568.7 115.2,569.2 117.3,569.8 119.4,570.3 121.5,570.9 123.6,571.5 125.7,572.2 127.8,572.8 129.8,573.5 131.9,573.9 134.0,574.3 136.1,574.7 138.2,575.0 140.3,575.4 142.4,575.8 144.5,576.2 146.6,576.2 148.7,576.3 150.7,576.3 152.8,576.4 154.9,576.6 157.0,577.2 159.1,577.8 161.2,578.4 163.3,578.8 165.4,579.3 167.5,579.7 169.6,580.2 171.7,580.5 173.7,580.7 175.8,580.9 177.9,581.1 180.0,581.3 182.1,581.4 184.2,581.6 186.3,581.8 188.4,581.4 190.5,581.1 192.6,580.8 194.6,580.5 196.7,580.2 198.8,579.9 200.9,579.6 203.0,579.2 205.1,578.9 207.2,578.2 209.3,577.2 211.4,576.1 213.5,575.1 215.6,574.1 217.6,573.0 219.7,572.0 221.8,571.0 223.9,569.9 226.0,569.0 228.1,568.3 230.2,567.6 232.3,566.9 234.4,566.2 236.5,565.5 238.6,564.8 240.6,564.1 242.7,563.4 244.8,562.7 246.9,562.9 249.0,563.4 251.1,563.9 253.2,564.4 255.3,564.9 257.4,565.5 259.5,566.0 261.5,566.5 263.6,567.0 265.7,567.5 267.8,568.0 269.9,568.6 272.0,569.1 274.1,569.7 276.2,570.2 278.3,570.8 280.4,571.3 282.5,572.0 284.5,572.6 286.6,573.3 288.7,573.9 290.8,574.6 292.9,575.2 295.0,575.9 297.1,576.5 299.2,577.2 301.3,577.8 303.4,578.5 305.4,579.1 307.5,579.8 309.6,580.4 311.7,581.1 313.8,581.7 315.9,582.4 318.0,583.0 320.1,583.7 322.2,584.3 324.3,585.0 326.4,585.4 328.4,585.7 330.5,585.9 332.6,586.2 334.7,586.5 336.8,586.8 338.9,587.1 341.0,587.3 343.1,587.0 345.2,586.6 347.3,586.3 349.3,586.0 351.4,585.7 353.5,585.4 355.6,585.0 357.7,584.7 359.8,584.3 361.9,583.7 364.0,583.2 366.1,582.7 368.2,582.2 370.3,581.7 372.3,581.2 374.4,580.6 376.5,580.4 378.6,580.5 380.7,580.7 382.8,580.9 384.9,581.0 387.0,581.2 389.1,581.4 391.2,581.5 393.2,581.7 395.3,582.1 397.4,582.6 399.5,583.0 401.6,583.5 403.7,584.0 405.8,584.4 407.9,584.9 410.0,585.3 412.1,585.8 414.2,586.3 416.2,586.9 418.3,587.4 420.4,588.0 422.5,588.5 424.6,589.1 426.7,589.6 428.8,590.2 430.9,590.7 433.0,591.1 435.1,591.5 437.1,592.0 439.2,592.4 441.3,592.8 443.4,593.2 445.5,593.7 447.6,594.1 447.6,599.2 445.5,598.8 443.4,598.3 441.3,597.9 439.2,597.5 437.1,597.1 435.1,596.6 433.0,596.2 430.9,595.8 428.8,595.3 426.7,594.7 424.6,594.2 422.5,593.6 420.4,593.1 418.3,592.5 416.2,592.0 414.2,591.4 412.1,590.9 410.0,590.4 407.9,590.0 405.8,589.5 403.7,589.1 401.6,588.6 399.5,588.1 397.4,587.7 395.3,587.2 393.2,586.8 391.2,586.6 389.1,586.5 387.0,586.3 384.9,586.1 382.8,586.0 380.7,585.8 378.6,585.6 376.5,585.5 374.4,585.7 372.3,586.3 370.3,586.8 368.2,587.3 366.1,587.8 364.0,588.3 361.9,588.8 359.8,589.4 357.7,589.8 355.6,590.1 353.5,590.5 351.4,590.8 349.3,591.1 347.3,591.4 345.2,591.7 343.1,592.1 341.0,592.4 338.9,592.2 336.8,591.9 334.7,591.6 332.6,591.3 330.5,591.0 328.4,590.8 326.4,590.5 324.3,590.1 322.2,589.4 320.1,588.8 318.0,588.1 315.9,587.5 313.8,586.8 311.7,586.2 309.6,585.5 307.5,584.9 305.4,584.2 303.4,583.6 301.3,582.9 299.2,582.3 297.1,581.6 295.0,581.0 292.9,580.3 290.8,579.7 288.7,579.0 286.6,578.4 284.5,577.7 282.5,577.1 280.4,576.4 278.3,575.9 276.2,575.3 274.1,574.8 272.0,574.2 269.9,573.7 267.8,573.1 265.7,572.6 263.6,572.1 261.5,571.6 259.5,571.1 257.4,570.6 255.3,570.0 253.2,569.5 251.1,569.0 249.0,568.5 246.9,568.0 244.8,567.8 242.7,568.5 240.6,569.2 238.6,569.9 236.5,570.6 234.4,571.3 232.3,572.0 230.2,572.7 228.1,573.4 226.0,574.1 223.9,575.0 221.8,576.1 219.7,577.1 217.6,578.1 215.6,579.2 213.5,580.2 211.4,581.2 209.3,582.3 207.2,583.3 205.1,584.0 203.0,584.3 200.9,584.7 198.8,585.0 196.7,585.3 194.6,585.6 192.6,585.9 190.5,586.2 188.4,586.5 186.3,586.9 184.2,586.7 182.1,586.5 180.0,586.4 177.9,586.2 175.8,586.0 173.7,585.8 171.7,585.6 169.6,585.3 167.5,584.8 165.4,584.4 163.3,583.9 161.2,583.5 159.1,582.9 157.0,582.2 154.9,581.5 152.8,581.3 150.7,581.2 148.7,581.0 146.6,580.9 144.5,580.8 142.4,580.4 140.3,579.9 138.2,579.5 136.1,579.0 134.0,578.6 131.9,578.1 129.8,577.6 127.8,576.9 125.7,576.2 123.6,575.5 121.5,574.8 119.4,574.1 117.3,573.5 115.2,572.9 113.1,572.3 111.0,572.0 108.9,571.7 106.8,571.5 104.8,571.2 102.7,571.0 100.6,570.8 98.5,570.1 96.4,569.4 94.3,568.8 92.2,568.1 90.1,567.5 88.0,566.8 85.9,566.2 83.9,565.1 81.8,563.9 79.7,562.8 77.6,561.9 75.5,560.9 73.4,559.9 71.3,558.8 69.2,557.6 67.1,556.5 65.0,555.3 62.9,554.2 60.9,553.6 58.8,553.0 56.7,552.5 54.6,551.9 52.5,552.3 50.4,553.0 48.3,553.6 46.2,554.3 44.1,554.8 42.0,555.4 40.0,556.0 37.9,556.6 35.8,557.2 33.7,557.8 31.6,558.4 29.5,559.0" fill="#f8a018" />
<polygon points="29.5,554.6 31.6,554.0 33.7,553.4 35.8,552.8 37.9,552.2 40.0,551.6 42.0,551.0 44.1,550.4 46.2,549.9 48.3,549.2 50.4,548.6 52.5,547.9 54.6,547.5 56.7,548.1 58.8,548.6 60.9,549.2 62.9,549.8 65.0,550.9 67.1,552.1 69.2,553.2 71.3,554.4 73.4,555.5 75.5,556.5 77.6,557.5 79.7,558.4 81.8,559.4 83.9,560.3 85.9,561.2 88.0,561.7 90.1,562.1 92.2,562.6 94.3,563.0 96.4,563.5 98.5,564.0 100.6,564.4 102.7,564.5 104.8,564.5 106.8,564.6 108.9,564.6 111.0,564.7 113.1,564.8 115.2,565.2 117.3,565.6 119.4,566.1 121.5,566.5 123.6,567.0 125.7,567.5 127.8,568.1 129.8,568.6 131.9,568.8 134.0,569.1 136.1,569.3 138.2,569.6 140.3,569.9 142.4,570.1 144.5,570.4 146.6,570.3 148.7,570.2 150.7,570.1 152.8,570.0 154.9,570.1 157.0,570.6 159.1,571.1 161.2,571.6 163.3,572.0 165.4,572.5 167.5,572.9 169.6,573.4 171.7,573.7 173.7,573.9 175.8,574.1 177.9,574.3 180.0,574.5 182.1,574.6 184.2,574.8 186.3,575.0 188.4,574.6 190.5,574.3 192.6,574.0 194.6,573.7 196.7,573.4 198.8,573.1 200.9,572.8 203.0,572.4 205.1,572.1 207.2,571.4 209.3,570.4 211.4,569.3 213.5,568.3 215.6,567.3 217.6,566.2 219.7,565.2 221.8,564.2 223.9,563.1 226.0,562.2 228.1,561.5 230.2,560.8 232.3,560.1 234.4,559.4 236.5,558.7 238.6,558.0 240.6,557.3 242.7,556.6 244.8,555.9 246.9,556.1 249.0,556.6 251.1,557.1 253.2,557.6 255.3,558.1 257.4,558.7 259.5,559.2 261.5,559.7 263.6,560.2 265.7,560.7 267.8,561.2 269.9,561.8 272.0,562.3 274.1,562.9 276.2,563.4 278.3,564.0 280.4,564.5 282.5,565.2 284.5,565.8 286.6,566.5 288.7,567.1 290.8,567.8 292.9,568.4 295.0,569.1 297.1,569.7 299.2,570.4 301.3,571.0 303.4,571.7 305.4,572.3 307.5,573.0 309.6,573.6 311.7,574.3 313.8,574.9 315.9,575.6 318.0,576.2 320.1,576.9 322.2,577.5 324.3,578.2 326.4,578.6 328.4,578.9 330.5,579.1 332.6,579.4 334.7,579.7 336.8,580.0 338.9,580.3 341.0,580.5 343.1,580.2 345.2,579.8 347.3,579.5 349.3,579.2 351.4,578.9 353.5,578.6 355.6,578.2 357.7,577.9 359.8,577.5 361.9,576.9 364.0,576.4 366.1,575.9 368.2,575.4 370.3,574.9 372.3,574.4 374.4,573.8 376.5,573.6 378.6,573.7 380.7,573.9 382.8,574.1 384.9,574.2 387.0,574.4 389.1,574.6 391.2,574.7 393.2,574.9 395.3,575.3 397.4,575.8 399.5,576.2 401.6,576.7 403.7,577.2 405.8,577.6 407.9,578.1 410.0,578.5 412.1,579.0 414.2,579.5 416.2,580.1 418.3,580.6 420.4,581.2 422.5,581.7 424.6,582.3 426.7,582.8 428.8,583.4 430.9,583.9 433.0,584.3 435.1,584.7 437.1,585.2 439.2,585.6 441.3,586.0 443.4,586.4 445.5,586.9 447.6,587.3 447.6,595.1 445.5,594.7 443.4,594.2 441.3,593.8 439.2,593.4 437.1,593.0 435.1,592.5 433.0,592.1 430.9,591.7 428.8,591.2 426.7,590.6 424.6,590.1 422.5,589.5 420.4,589.0 418.3,588.4 416.2,587.9 414.2,587.3 412.1,586.8 410.0,586.3 407.9,585.9 405.8,585.4 403.7,585.0 401.6,584.5 399.5,584.0 397.4,583.6 395.3,583.1 393.2,582.7 391.2,582.5 389.1,582.4 387.0,582.2 384.9,582.0 382.8,581.9 380.7,581.7 378.6,581.5 376.5,581.4 374.4,581.6 372.3,582.2 370.3,582.7 368.2,583.2 366.1,583.7 364.0,584.2 361.9,584.7 359.8,585.3 357.7,585.7 355.6,586.0 353.5,586.4 351.4,586.7 349.3,587.0 347.3,587.3 345.2,587.6 343.1,588.0 341.0,588.3 338.9,588.1 336.8,587.8 334.7,587.5 332.6,587.2 330.5,586.9 328.4,586.7 326.4,586.4 324.3,586.0 322.2,585.3 320.1,584.7 318.0,584.0 315.9,583.4 313.8,582.7 311.7,582.1 309.6,581.4 307.5,580.8 305.4,580.1 303.4,579.5 301.3,578.8 299.2,578.2 297.1,577.5 295.0,576.9 292.9,576.2 290.8,575.6 288.7,574.9 286.6,574.3 284.5,573.6 282.5,573.0 280.4,572.3 278.3,571.8 276.2,571.2 274.1,570.7 272.0,570.1 269.9,569.6 267.8,569.0 265.7,568.5 263.6,568.0 261.5,567.5 259.5,567.0 257.4,566.5 255.3,565.9 253.2,565.4 251.1,564.9 249.0,564.4 246.9,563.9 244.8,563.7 242.7,564.4 240.6,565.1 238.6,565.8 236.5,566.5 234.4,567.2 232.3,567.9 230.2,568.6 228.1,569.3 226.0,570.0 223.9,570.9 221.8,572.0 219.7,573.0 217.6,574.0 215.6,575.1 213.5,576.1 211.4,577.1 209.3,578.2 207.2,579.2 205.1,579.9 203.0,580.2 200.9,580.6 198.8,580.9 196.7,581.2 194.6,581.5 192.6,581.8 190.5,582.1 188.4,582.4 186.3,582.8 184.2,582.6 182.1,582.4 180.0,582.3 177.9,582.1 175.8,581.9 173.7,581.7 171.7,581.5 169.6,581.2 167.5,580.7 165.4,580.3 163.3,579.8 161.2,579.4 159.1,578.8 157.0,578.2 154.9,577.6 152.8,577.4 150.7,577.3 148.7,577.3 146.6,577.2 144.5,577.2 142.4,576.8 140.3,576.4 138.2,576.0 136.1,575.7 134.0,575.3 131.9,574.9 129.8,574.5 127.8,573.8 125.7,573.2 123.6,572.5 121.5,571.9 119.4,571.3 117.3,570.8 115.2,570.2 113.1,569.7 111.0,569.4 108.9,569.2 106.8,569.0 104.8,568.9 102.7,568.7 100.6,568.5 98.5,567.9 96.4,567.3 94.3,566.7 92.2,566.1 90.1,565.5 88.0,565.0 85.9,564.4 83.9,563.3 81.8,562.3 79.7,561.2 77.6,560.3 75.5,559.3 73.4,558.3 71.3,557.2 69.2,556.0 67.1,554.9 65.0,553.7 62.9,552.6 60.9,552.0 58.8,551.4 56.7,550.9 54.6,550.3 52.5,550.7 50.4,551.4 48.3,552.0 46.2,552.7 44.1,553.2 42.0,553.8 40.0,554.4 37.9,555.0 35.8,555.6 33.7,556.2 31.6,556.8 29.5,557.4" fill="#f42a18" />
<polygon points="29.5,552.1 31.6,551.5 33.7,550.9 35.8,550.3 37.9,549.7 40.0,549.1 42.0,548.5 44.1,547.9 46.2,547.4 48.3,546.7 50.4,546.1 52.5,545.4 54.6,545.0 56.7,545.6 58.8,546.1 60.9,546.7 62.9,547.3 65.0,548.4 67.1,549.6 69.2,550.7 71.3,551.9 73.4,553.0 75.5,554.0 77.6,555.0 79.7,555.9 81.8,556.9 83.9,557.8 85.9,558.7 88.0,559.2 90.1,559.6 92.2,560.0 94.3,560.4 96.4,560.9 98.5,561.3 100.6,561.7 102.7,561.7 104.8,561.7 106.8,561.7 108.9,561.7 111.0,561.7 113.1,561.8 115.2,562.2 117.3,562.6 119.4,562.9 121.5,563.3 123.6,563.8 125.7,564.3 127.8,564.8 129.8,565.2 131.9,565.4 134.0,565.6 136.1,565.9 138.2,566.1 140.3,566.3 142.4,566.5 144.5,566.7 146.6,566.6 148.7,566.4 150.7,566.3 152.8,566.2 154.9,566.2 157.0,566.7 159.1,567.1 161.2,567.6 163.3,568.0 165.4,568.5 167.5,568.9 169.6,569.4 171.7,569.7 173.7,569.9 175.8,570.1 177.9,570.3 180.0,570.5 182.1,570.6 184.2,570.8 186.3,571.0 188.4,570.6 190.5,570.3 192.6,570.0 194.6,569.7 196.7,569.4 198.8,569.1 200.9,568.8 203.0,568.4 205.1,568.1 207.2,567.4 209.3,566.4 211.4,565.3 213.5,564.3 215.6,563.3 217.6,562.2 219.7,561.2 221.8,560.2 223.9,559.1 226.0,558.2 228.1,557.5 230.2,556.8 232.3,556.1 234.4,555.4 236.5,554.7 238.6,554.0 240.6,553.3 242.7,552.6 244.8,551.9 246.9,552.1 249.0,552.6 251.1,553.1 253.2,553.6 255.3,554.1 257.4,554.7 259.5,555.2 261.5,555.7 263.6,556.2 265.7,556.7 267.8,557.2 269.9,557.8 272.0,558.3 274.1,558.9 276.2,559.4 278.3,560.0 280.4,560.5 282.5,561.1 284.5,561.6 286.6,562.2 288.7,562.7 290.8,563.3 292.9,563.9 295.0,564.4 297.1,565.0 299.2,565.6 301.3,566.1 303.4,566.7 305.4,567.3 307.5,567.8 309.6,568.4 311.7,568.9 313.8,569.5 315.9,570.1 318.0,570.6 320.1,571.2 322.2,571.8 324.3,572.3 326.4,572.6 328.4,572.8 330.5,573.0 332.6,573.2 334.7,573.4 336.8,573.6 338.9,573.8 341.0,574.0 343.1,573.7 345.2,573.3 347.3,573.0 349.3,572.7 351.4,572.4 353.5,572.1 355.6,571.7 357.7,571.4 359.8,571.0 361.9,570.4 364.0,569.9 366.1,569.4 368.2,568.9 370.3,568.4 372.3,567.9 374.4,567.3 376.5,567.1 378.6,567.2 380.7,567.4 382.8,567.6 384.9,567.7 387.0,567.9 389.1,568.1 391.2,568.2 393.2,568.4 395.3,568.8 397.4,569.3 399.5,569.7 401.6,570.2 403.7,570.7 405.8,571.1 407.9,571.6 410.0,572.0 412.1,572.5 414.2,573.0 416.2,573.6 418.3,574.1 420.4,574.7 422.5,575.2 424.6,575.8 426.7,576.3 428.8,576.9 430.9,577.4 433.0,577.8 435.1,578.2 437.1,578.7 439.2,579.1 441.3,579.5 443.4,579.9 445.5,580.4 447.6,580.8 447.6,588.3 445.5,587.9 443.4,587.4 441.3,587.0 439.2,586.6 437.1,586.2 435.1,585.7 433.0,585.3 430.9,584.9 428.8,584.4 426.7,583.8 424.6,583.3 422.5,582.7 420.4,582.2 418.3,581.6 416.2,581.1 414.2,580.5 412.1,580.0 410.0,579.5 407.9,579.1 405.8,578.6 403.7,578.2 401.6,577.7 399.5,577.2 397.4,576.8 395.3,576.3 393.2,575.9 391.2,575.7 389.1,575.6 387.0,575.4 384.9,575.2 382.8,575.1 380.7,574.9 378.6,574.7 376.5,574.6 374.4,574.8 372.3,575.4 370.3,575.9 368.2,576.4 366.1,576.9 364.0,577.4 361.9,577.9 359.8,578.5 357.7,578.9 355.6,579.2 353.5,579.6 351.4,579.9 349.3,580.2 347.3,580.5 345.2,580.8 343.1,581.2 341.0,581.5 338.9,581.3 336.8,581.0 334.7,580.7 332.6,580.4 330.5,580.1 328.4,579.9 326.4,579.6 324.3,579.2 322.2,578.5 320.1,577.9 318.0,577.2 315.9,576.6 313.8,575.9 311.7,575.3 309.6,574.6 307.5,574.0 305.4,573.3 303.4,572.7 301.3,572.0 299.2,571.4 297.1,570.7 295.0,570.1 292.9,569.4 290.8,568.8 288.7,568.1 286.6,567.5 284.5,566.8 282.5,566.2 280.4,565.5 278.3,565.0 276.2,564.4 274.1,563.9 272.0,563.3 269.9,562.8 267.8,562.2 265.7,561.7 263.6,561.2 261.5,560.7 259.5,560.2 257.4,559.7 255.3,559.1 253.2,558.6 251.1,558.1 249.0,557.6 246.9,557.1 244.8,556.9 242.7,557.6 240.6,558.3 238.6,559.0 236.5,559.7 234.4,560.4 232.3,561.1 230.2,561.8 228.1,562.5 226.0,563.2 223.9,564.1 221.8,565.2 219.7,566.2 217.6,567.2 215.6,568.3 213.5,569.3 211.4,570.3 209.3,571.4 207.2,572.4 205.1,573.1 203.0,573.4 200.9,573.8 198.8,574.1 196.7,574.4 194.6,574.7 192.6,575.0 190.5,575.3 188.4,575.6 186.3,576.0 184.2,575.8 182.1,575.6 180.0,575.5 177.9,575.3 175.8,575.1 173.7,574.9 171.7,574.7 169.6,574.4 167.5,573.9 165.4,573.5 163.3,573.0 161.2,572.6 159.1,572.1 157.0,571.6 154.9,571.1 152.8,571.0 150.7,571.1 148.7,571.2 146.6,571.3 144.5,571.4 142.4,571.1 140.3,570.9 138.2,570.6 136.1,570.3 134.0,570.1 131.9,569.8 129.8,569.6 127.8,569.1 125.7,568.5 123.6,568.0 121.5,567.5 119.4,567.1 117.3,566.6 115.2,566.2 113.1,565.8 111.0,565.7 108.9,565.6 106.8,565.6 104.8,565.5 102.7,565.5 100.6,565.4 98.5,565.0 96.4,564.5 94.3,564.0 92.2,563.6 90.1,563.1 88.0,562.7 85.9,562.2 83.9,561.3 81.8,560.4 79.7,559.4 77.6,558.5 75.5,557.5 73.4,556.5 71.3,555.4 69.2,554.2 67.1,553.1 65.0,551.9 62.9,550.8 60.9,550.2 58.8,549.6 56.7,549.1 54.6,548.5 52.5,548.9 50.4,549.6 48.3,550.2 46.2,550.9 44.1,551.4 42.0,552.0 40.0,552.6 37.9,553.2 35.8,553.8 33.7,554.4 31.6,555.0 29.5,555.6" fill="#e81aa8" />
</g>
<g filter="url(#gb4)" opacity="0.7">
<ellipse cx="245" cy="600" rx="35" ry="10" fill="#c8f030"/>
<ellipse cx="330" cy="605" rx="30" ry="9" fill="#b0f030"/>
<ellipse cx="395" cy="600" rx="30" ry="12" fill="#d8f028"/>
</g>
<path d="M29,587.3 L40.3,584 L46.8,586.2 L57.7,597 L68.6,602.5 L81.7,612.4 L97,622.2 L112.3,632 L127.6,640.7 L140.6,646.2 L160,651.5 L180,653.5 L201,654 L201,670 L29,670 Z" fill="#0b2fe0"/>
<path d="M29,575 L40,578 L46.8,586.2 L40.3,584 L29,587.3 Z" fill="#1a9a8a" filter="url(#gb2)"/>
<path d="M201,653 C240,653 300,657 330,658.5 C345,657 360,649 376,641.5 L376,670 L201,670 Z" fill="#1a9a7c"/>
<path d="M201,661 L280,668.4 L376,668.4 L376,664 C330,664 260,663 201,658 Z" fill="#1a6aa0" opacity="0.8"/>
<rect x="376" y="639" width="25" height="31" fill="#1a5aa6"/>
<path d="M401,632 L447.6,632 L447.6,670 L401,670 Z" fill="#1a9a62"/>
<path d="M376,641.5 C390,637 398,635 401,634.2 L401,640 L376,642 Z" fill="#1a8a80"/>
<path d="M200,640 C240,645 300,650 330,652 L330,657 C300,656 240,652 200,652 Z" fill="#2cb050" opacity="0.6" filter="url(#gb2)"/>
<path d="M218.6,564.7 Q241.2,597.9 245.2,597.9 L309.5,613.2 Q315.1,613.2 347.1,576.0" fill="none" stroke="#18b080" stroke-width="0.55" opacity="0.73"/>
<path d="M68.9,553.5 Q82.8,581.2 85.3,581.2 L108.4,584.4 Q110.5,584.4 122.9,566.6" fill="none" stroke="#9020c0" stroke-width="0.55" opacity="0.79"/>
<path d="M133.4,568.6 Q160.6,625.2 165.4,625.2 L271.5,618.7 Q276.2,618.7 302.9,569.6" fill="none" stroke="#18b080" stroke-width="0.55" opacity="0.46"/>
<path d="M223.5,562.4 Q252.7,590.9 257.9,590.9 L349.5,603.9 Q354.9,603.9 385.3,570.8" fill="none" stroke="#7a20d8" stroke-width="0.55" opacity="0.61"/>
<path d="M29.5,555.1 Q50.5,576.5 54.2,576.5 L120.2,590.8 Q124.0,590.8 145.8,569.6" fill="none" stroke="#7a20d8" stroke-width="0.55" opacity="0.59"/>
<path d="M383.5,570.6 Q391.9,583.9 393.4,583.9 L411.9,588.9 Q413.1,588.9 419.5,577.4" fill="none" stroke="#e81a1a" stroke-width="0.55" opacity="0.61"/>
<path d="M59.4,549.3 Q93.2,607.3 99.2,607.3 L219.4,611.1 Q226.4,611.1 266.2,559.8" fill="none" stroke="#7a20d8" stroke-width="0.55" opacity="0.50"/>
<path d="M290.7,566.3 Q296.7,585.2 297.8,585.2 L316.2,589.6 Q317.6,589.6 325.1,575.5" fill="none" stroke="#e83a1a" stroke-width="0.55" opacity="0.79"/>
<path d="M351.2,575.4 Q370.8,592.0 374.3,592.0 L427.4,599.3 Q430.4,599.3 447.6,583.8" fill="none" stroke="#c01ab0" stroke-width="0.55" opacity="0.80"/>
<path d="M356.6,574.6 Q362.8,585.3 363.9,585.3 L381.3,582.9 Q382.1,582.9 386.7,570.9" fill="none" stroke="#c01ab0" stroke-width="0.55" opacity="0.59"/>
<path d="M29.5,555.1 Q36.5,565.8 37.7,565.8 L53.4,560.7 Q54.4,560.7 60.6,549.6" fill="none" stroke="#d02060" stroke-width="0.55" opacity="0.74"/>
<path d="M86.3,561.8 Q102.9,582.1 105.9,582.1 L131.3,584.3 Q134.1,584.3 150.1,569.4" fill="none" stroke="#e83a1a" stroke-width="0.55" opacity="0.51"/>
<path d="M107.6,564.7 Q146.5,612.3 153.4,612.3 L257.2,594.8 Q262.5,594.8 292.5,566.8" fill="none" stroke="#7a20d8" stroke-width="0.55" opacity="0.46"/>
<path d="M234.4,558.3 Q274.6,609.5 281.6,609.5 L371.4,615.5 Q380.5,615.5 432.0,580.6" fill="none" stroke="#d02a6a" stroke-width="0.55" opacity="0.51"/>
<path d="M280.3,563.5 Q292.0,585.6 294.0,585.6 L317.3,589.4 Q319.3,589.4 330.7,576.0" fill="none" stroke="#e83a1a" stroke-width="0.55" opacity="0.77"/>
<path d="M78.2,558.3 Q84.9,576.9 86.1,576.9 L108.0,578.6 Q109.0,578.6 114.8,565.1" fill="none" stroke="#d81a8a" stroke-width="0.55" opacity="0.48"/>
<path d="M87.4,562.1 Q147.4,638.7 158.0,638.7 L275.8,623.2 Q285.9,623.2 342.7,576.7" fill="none" stroke="#2040f0" stroke-width="0.55" opacity="0.77"/>
<path d="M228.0,560.5 Q257.3,622.1 262.5,622.1 L365.6,633.9 Q373.2,633.9 416.2,576.6" fill="none" stroke="#a0a020" stroke-width="0.55" opacity="0.56"/>
<path d="M48.6,549.6 Q57.7,565.6 59.3,565.6 L75.0,573.7 Q76.7,573.7 86.6,561.9" fill="none" stroke="#d81a8a" stroke-width="0.55" opacity="0.73"/>
<path d="M412.1,575.5 Q417.8,592.5 418.8,592.5 L436.9,598.2 Q438.5,598.2 447.6,583.8" fill="none" stroke="#e81a1a" stroke-width="0.55" opacity="0.75"/>
<path d="M269.0,560.5 Q286.9,587.7 290.1,587.7 L358.6,593.2 Q361.8,593.2 380.0,570.3" fill="none" stroke="#c01ab0" stroke-width="0.55" opacity="0.76"/>
<path d="M334.0,576.3 Q357.5,609.3 361.7,609.3 L419.8,612.8 Q424.0,612.8 447.6,583.8" fill="none" stroke="#d02a6a" stroke-width="0.55" opacity="0.71"/>
<path d="M29.5,555.1 Q54.8,579.5 59.2,579.5 L105.0,590.5 Q108.1,590.5 125.8,567.3" fill="none" stroke="#2060f0" stroke-width="0.55" opacity="0.50"/>
<path d="M84.4,561.0 Q137.4,614.1 146.7,614.1 L235.1,598.6 Q242.6,598.6 285.3,564.8" fill="none" stroke="#10a8a0" stroke-width="0.55" opacity="0.68"/>
<path d="M112.5,564.7 Q150.1,632.1 156.8,632.1 L280.7,620.1 Q287.4,620.1 325.4,575.5" fill="none" stroke="#5a30e0" stroke-width="0.55" opacity="0.52"/>
<path d="M85.8,561.6 Q138.3,637.8 147.5,637.8 L237.5,620.0 Q247.9,620.0 306.7,570.6" fill="none" stroke="#9018c8" stroke-width="0.55" opacity="0.49"/>
<path d="M29.5,555.1 Q71.8,604.0 79.3,604.0 L172.6,619.3 Q180.7,619.3 226.6,561.0" fill="none" stroke="#18b080" stroke-width="0.55" opacity="0.61"/>
<path d="M29.5,555.1 Q36.8,567.8 38.1,567.8 L53.9,562.2 Q54.9,562.2 60.7,549.7" fill="none" stroke="#e81a1a" stroke-width="0.55" opacity="0.67"/>
<path d="M173.0,572.8 Q177.7,588.3 178.5,588.3 L193.7,585.8 Q194.5,585.8 198.9,572.1" fill="none" stroke="#f02a3a" stroke-width="0.55" opacity="0.61"/>
<path d="M292.9,566.9 Q320.2,621.1 325.1,621.1 L409.5,615.7 Q415.2,615.7 447.6,583.8" fill="none" stroke="#2040f0" stroke-width="0.55" opacity="0.71"/>
<path d="M190.1,573.4 Q202.4,589.9 204.5,589.9 L235.6,576.2 Q238.3,576.2 253.1,556.6" fill="none" stroke="#d81a8a" stroke-width="0.55" opacity="0.59"/>
<path d="M319.7,574.1 Q329.5,595.9 331.2,595.9 L352.5,594.3 Q353.7,594.3 360.6,573.8" fill="none" stroke="#e81a1a" stroke-width="0.55" opacity="0.58"/>
<path d="M267.3,560.1 Q290.6,606.5 294.7,606.5 L361.7,614.8 Q367.2,614.8 398.6,572.6" fill="none" stroke="#3048e8" stroke-width="0.55" opacity="0.77"/>
<path d="M29.5,555.1 Q43.4,573.8 45.9,573.8 L68.0,577.4 Q69.9,577.4 81.1,559.6" fill="none" stroke="#5a30e0" stroke-width="0.55" opacity="0.54"/>
<path d="M226.2,561.1 Q247.5,578.1 251.2,578.1 L303.2,592.5 Q307.2,592.5 329.8,576.0" fill="none" stroke="#d02060" stroke-width="0.55" opacity="0.77"/>
<path d="M29.5,555.1 Q49.3,567.9 52.7,567.9 L95.6,584.8 Q99.3,584.8 120.8,566.2" fill="none" stroke="#d02060" stroke-width="0.55" opacity="0.50"/>
<path d="M245.5,554.7 Q299.2,621.3 308.7,621.3 L408.8,620.2 Q414.6,620.2 447.6,583.8" fill="none" stroke="#d02a6a" stroke-width="0.55" opacity="0.65"/>
<path d="M231.5,559.3 Q263.5,608.1 269.1,608.1 L344.5,621.4 Q349.4,621.4 377.0,570.1" fill="none" stroke="#18b080" stroke-width="0.55" opacity="0.52"/>
<path d="M385.2,570.8 Q398.7,590.8 401.1,590.8 L432.0,598.4 Q434.3,598.4 447.6,583.8" fill="none" stroke="#e81a1a" stroke-width="0.55" opacity="0.64"/>
<path d="M47.9,549.9 Q73.1,610.8 77.5,610.8 L169.4,619.5 Q173.7,619.5 198.4,572.1" fill="none" stroke="#d02a6a" stroke-width="0.55" opacity="0.61"/>
<path d="M414.5,576.1 Q420.0,592.6 421.0,592.6 L439.6,597.8 Q440.8,597.8 447.6,583.8" fill="none" stroke="#d02060" stroke-width="0.55" opacity="0.63"/>
<path d="M74.9,556.8 Q103.3,620.9 108.3,620.9 L194.6,620.8 Q201.9,620.8 243.2,555.4" fill="none" stroke="#10a0c0" stroke-width="0.55" opacity="0.50"/>
<path d="M34.4,553.7 Q56.5,575.5 60.4,575.5 L112.8,591.5 Q115.6,591.5 131.7,568.4" fill="none" stroke="#7a20d8" stroke-width="0.55" opacity="0.75"/>
<path d="M101.9,564.7 Q131.2,629.3 136.4,629.3 L239.6,620.4 Q247.2,620.4 290.2,566.1" fill="none" stroke="#18b080" stroke-width="0.55" opacity="0.51"/>
<path d="M29.5,555.1 Q48.8,579.8 52.2,579.8 L89.3,590.9 Q93.1,590.9 114.9,565.1" fill="none" stroke="#a0a020" stroke-width="0.55" opacity="0.67"/>
<path d="M79.0,558.6 Q104.2,589.6 108.6,589.6 L154.7,596.5 Q157.7,596.5 174.8,573.0" fill="none" stroke="#7a20d8" stroke-width="0.55" opacity="0.50"/>
<path d="M47.3,550.0 Q68.0,574.4 71.7,574.4 L109.9,584.9 Q112.9,584.9 129.6,568.2" fill="none" stroke="#d81a8a" stroke-width="0.55" opacity="0.52"/>
<path d="M249.0,555.6 Q257.4,575.6 258.9,575.6 L279.4,579.8 Q281.3,579.8 292.1,566.6" fill="none" stroke="#f05010" stroke-width="0.55" opacity="0.63"/>
<path d="M103.5,564.7 Q136.7,621.5 142.5,621.5 L255.2,609.3 Q264.4,609.3 316.2,573.2" fill="none" stroke="#18b080" stroke-width="0.55" opacity="0.62"/>
<path d="M39.8,552.2 Q58.5,576.6 61.8,576.6 L87.4,585.4 Q90.6,585.4 108.8,564.7" fill="none" stroke="#2040f0" stroke-width="0.55" opacity="0.50"/>
<path d="M110.7,564.7 Q153.1,614.8 160.6,614.8 L262.9,601.5 Q270.6,601.5 314.2,572.6" fill="none" stroke="#18b080" stroke-width="0.55" opacity="0.58"/>
<path d="M72.0,555.2 Q118.0,609.4 126.2,609.4 L231.5,599.3 Q240.9,599.3 294.6,567.3" fill="none" stroke="#10a0c0" stroke-width="0.55" opacity="0.66"/>
<path d="M29.5,555.1 Q39.5,565.1 41.3,565.1 L57.1,563.1 Q58.9,563.1 69.1,553.7" fill="none" stroke="#9020c0" stroke-width="0.55" opacity="0.65"/>
<path d="M109.3,564.7 Q165.1,616.5 174.9,616.5 L261.9,604.2 Q271.0,604.2 322.5,574.9" fill="none" stroke="#10a8a0" stroke-width="0.55" opacity="0.50"/>
<path d="M167.4,571.9 Q208.5,626.8 215.8,626.8 L314.2,625.2 Q322.8,625.2 371.6,571.0" fill="none" stroke="#5a30e0" stroke-width="0.55" opacity="0.56"/>
<path d="M71.7,555.1 Q112.6,646.0 119.9,646.0 L273.2,648.8 Q281.6,648.8 329.4,575.9" fill="none" stroke="#2060f0" stroke-width="0.55" opacity="0.57"/>
<path d="M157.4,569.7 Q197.6,607.3 204.7,607.3 L265.4,596.7 Q271.4,596.7 305.3,570.2" fill="none" stroke="#10a8a0" stroke-width="0.55" opacity="0.79"/>
<path d="M136.8,568.9 Q169.3,617.3 175.0,617.3 L252.3,596.9 Q256.2,596.9 277.9,562.9" fill="none" stroke="#2060f0" stroke-width="0.55" opacity="0.77"/>
<path d="M259.5,558.2 Q310.5,623.9 319.5,623.9 L396.9,624.6 Q404.5,624.6 447.6,583.8" fill="none" stroke="#7a20d8" stroke-width="0.55" opacity="0.64"/>
<path d="M196.2,572.5 Q218.7,603.4 222.6,603.4 L273.4,604.8 Q278.7,604.8 309.0,571.2" fill="none" stroke="#d02a6a" stroke-width="0.55" opacity="0.66"/>
<path d="M54.0,547.9 Q81.1,595.7 85.9,595.7 L147.0,600.9 Q151.2,600.9 174.9,573.0" fill="none" stroke="#3048e8" stroke-width="0.55" opacity="0.54"/>
<path d="M418.1,577.1 Q424.0,593.7 425.0,593.7 L437.5,595.9 Q438.5,595.9 444.6,583.2" fill="none" stroke="#9020c0" stroke-width="0.55" opacity="0.47"/>
<path d="M161.3,570.6 Q169.8,590.2 171.3,590.2 L187.2,592.7 Q188.1,592.7 193.3,572.9" fill="none" stroke="#9020c0" stroke-width="0.55" opacity="0.70"/>
<path d="M103.5,564.7 Q111.2,577.0 112.6,577.0 L124.9,578.0 Q126.3,578.0 134.4,568.7" fill="none" stroke="#e83a1a" stroke-width="0.55" opacity="0.66"/>
<path d="M77.6,558.0 Q98.2,593.0 101.8,593.0 L174.1,597.8 Q179.1,597.8 207.0,570.5" fill="none" stroke="#4028d0" stroke-width="0.55" opacity="0.50"/>
<path d="M203.8,571.3 Q237.9,605.3 243.9,605.3 L328.0,628.6 Q335.4,628.6 377.3,570.1" fill="none" stroke="#9018c8" stroke-width="0.55" opacity="0.78"/>
<path d="M201.0,571.7 Q226.7,595.9 231.3,595.9 L302.5,608.2 Q307.6,608.2 336.5,576.6" fill="none" stroke="#2060f0" stroke-width="0.55" opacity="0.55"/>
<path d="M144.0,569.7 Q174.2,625.4 179.5,625.4 L279.0,620.0 Q284.5,620.0 315.9,573.1" fill="none" stroke="#10a0c0" stroke-width="0.55" opacity="0.76"/>
<path d="M29.5,555.1 Q32.1,565.0 32.5,565.0 L43.0,561.0 Q43.4,561.0 46.0,550.4" fill="none" stroke="#c01ab0" stroke-width="0.55" opacity="0.48"/>
<path d="M29.5,555.1 Q36.6,569.1 37.9,569.1 L56.7,563.4 Q58.1,563.4 65.6,551.8" fill="none" stroke="#f05010" stroke-width="0.55" opacity="0.62"/>
<path d="M29.5,555.1 Q43.5,569.6 46.0,569.6 L68.7,573.4 Q71.2,573.4 85.3,561.4" fill="none" stroke="#d02060" stroke-width="0.55" opacity="0.60"/>
<path d="M29.5,555.1 Q58.7,584.4 63.9,584.4 L113.1,598.0 Q116.7,598.0 137.4,569.0" fill="none" stroke="#a0a020" stroke-width="0.55" opacity="0.74"/>
<path d="M106.4,564.7 Q136.9,609.9 142.3,609.9 L224.9,600.3 Q231.0,600.3 265.7,559.7" fill="none" stroke="#18b080" stroke-width="0.55" opacity="0.62"/>
<path d="M316.0,573.1 Q341.0,600.3 345.4,600.3 L407.1,598.4 Q413.2,598.4 447.6,583.8" fill="none" stroke="#a0a020" stroke-width="0.55" opacity="0.56"/>
<path d="M332.6,576.2 Q349.8,596.0 352.8,596.0 L395.8,591.5 Q399.5,591.5 420.5,577.7" fill="none" stroke="#f02a3a" stroke-width="0.55" opacity="0.56"/>
<path d="M213.9,567.1 Q237.6,597.0 241.7,597.0 L310.9,610.8 Q315.1,610.8 339.0,576.8" fill="none" stroke="#a0a020" stroke-width="0.55" opacity="0.76"/>
<path d="M133.3,568.6 Q184.4,608.1 193.5,608.1 L294.9,604.3 Q303.4,604.3 352.2,575.3" fill="none" stroke="#a0a020" stroke-width="0.55" opacity="0.65"/>
<path d="M142.0,569.5 Q180.4,630.7 187.2,630.7 L299.6,629.5 Q309.1,629.5 362.8,573.2" fill="none" stroke="#2060f0" stroke-width="0.55" opacity="0.73"/>
<path d="M29.5,555.1 Q54.3,577.7 58.7,577.7 L96.9,594.0 Q100.7,594.0 122.0,566.4" fill="none" stroke="#7a20d8" stroke-width="0.55" opacity="0.65"/>
<path d="M56.9,548.6 Q73.5,582.5 76.5,582.5 L134.8,590.1 Q138.1,590.1 157.2,569.7" fill="none" stroke="#3048e8" stroke-width="0.55" opacity="0.50"/>
<path d="M341.3,576.9 Q360.6,593.5 364.0,593.5 L400.3,594.4 Q403.3,594.4 420.2,577.6" fill="none" stroke="#9020c0" stroke-width="0.55" opacity="0.57"/>
<path d="M367.0,572.2 Q384.5,595.8 387.6,595.8 L425.0,604.4 Q428.4,604.4 447.6,583.8" fill="none" stroke="#2040f0" stroke-width="0.55" opacity="0.59"/>
<path d="M374.9,570.2 Q393.3,599.4 396.5,599.4 L425.5,608.7 Q428.8,608.7 447.6,583.8" fill="none" stroke="#3048e8" stroke-width="0.55" opacity="0.46"/>
<path d="M29.5,555.1 Q60.2,589.4 65.7,589.4 L150.5,608.3 Q155.1,608.3 180.9,573.5" fill="none" stroke="#3048e8" stroke-width="0.55" opacity="0.58"/>
<path d="M29.5,555.1 Q42.5,573.8 44.8,573.8 L78.3,580.6 Q81.5,580.6 99.6,564.5" fill="none" stroke="#a0a020" stroke-width="0.55" opacity="0.49"/>
<path d="M61.5,549.9 Q98.5,633.8 105.1,633.8 L241.3,628.6 Q250.2,628.6 300.4,568.9" fill="none" stroke="#5a30e0" stroke-width="0.55" opacity="0.49"/>
<path d="M29.5,555.1 Q45.6,575.3 48.5,575.3 L87.3,586.6 Q90.2,586.6 106.7,564.7" fill="none" stroke="#2060f0" stroke-width="0.55" opacity="0.59"/>
<path d="M410.3,575.1 Q418.4,596.3 419.9,596.3 L436.4,599.8 Q438.1,599.8 447.6,583.8" fill="none" stroke="#9020c0" stroke-width="0.55" opacity="0.77"/>
<path d="M36.7,553.0 Q58.3,579.7 62.1,579.7 L130.1,599.4 Q136.4,599.4 172.5,572.8" fill="none" stroke="#10a8a0" stroke-width="0.55" opacity="0.79"/>
<path d="M361.8,573.5 Q384.3,590.2 388.3,590.2 L421.4,598.4 Q425.4,598.4 447.6,583.8" fill="none" stroke="#f05010" stroke-width="0.55" opacity="0.61"/>
<path d="M132.6,568.5 Q161.0,604.2 166.0,604.2 L260.8,588.3 Q266.4,588.3 298.0,568.3" fill="none" stroke="#d02a6a" stroke-width="0.55" opacity="0.50"/>
<path d="M339.6,576.9 Q363.5,594.0 367.7,594.0 L425.5,598.8 Q428.8,598.8 447.6,583.8" fill="none" stroke="#d81a8a" stroke-width="0.55" opacity="0.74"/>
<path d="M64.0,550.8 Q107.3,609.2 115.0,609.2 L185.1,612.3 Q192.1,612.3 231.5,559.3" fill="none" stroke="#a0a020" stroke-width="0.55" opacity="0.66"/>
<path d="M388.0,571.0 Q392.3,583.2 393.0,583.2 L405.8,586.4 Q406.8,586.4 412.5,575.6" fill="none" stroke="#d02060" stroke-width="0.55" opacity="0.52"/>
<path d="M256.7,557.5 Q267.7,584.3 269.6,584.3 L301.6,589.7 Q303.5,589.7 314.5,572.7" fill="none" stroke="#2060f0" stroke-width="0.55" opacity="0.80"/>
<path d="M202.1,571.6 Q219.7,596.6 222.8,596.6 L283.4,597.1 Q287.2,597.1 308.4,571.1" fill="none" stroke="#7a20d8" stroke-width="0.55" opacity="0.68"/>
<path d="M34.7,553.6 Q70.5,604.9 76.9,604.9 L188.1,622.9 Q193.7,622.9 225.5,561.4" fill="none" stroke="#a0a020" stroke-width="0.55" opacity="0.52"/>
<path d="M287.1,565.3 Q326.0,630.6 332.8,630.6 L397.3,628.7 Q404.8,628.7 447.6,583.8" fill="none" stroke="#d02a6a" stroke-width="0.55" opacity="0.68"/>
<path d="M29.5,555.1 Q49.9,571.1 53.4,571.1 L113.3,587.1 Q116.8,587.1 136.7,568.9" fill="none" stroke="#3048e8" stroke-width="0.55" opacity="0.57"/>
<path d="M330.8,576.1 Q338.3,595.2 339.6,595.2 L363.3,589.5 Q365.1,589.5 375.2,570.1" fill="none" stroke="#e83a1a" stroke-width="0.55" opacity="0.59"/>
<path d="M335.3,576.5 Q347.2,589.2 349.3,589.2 L368.8,585.9 Q370.4,585.9 379.4,570.3" fill="none" stroke="#f05010" stroke-width="0.55" opacity="0.77"/>
<path d="M104.0,564.7 C105.2,571.2 108.9,596.2 111.4,603.6 C113.8,610.9 116.3,606.9 118.7,608.5 C121.2,610.2 123.7,611.9 126.1,613.4 C128.6,614.9 131.0,616.2 133.5,617.5 C135.9,618.8 138.4,620.2 140.9,621.3 C143.3,622.4 145.8,623.1 148.2,624.0 C150.7,624.9 153.1,625.9 155.6,626.7 C158.1,627.5 160.5,628.3 163.0,628.8 C165.4,629.4 167.9,629.6 170.4,630.0 C172.8,630.4 175.3,630.9 177.7,631.2 C180.2,631.6 182.6,631.8 185.1,632.1 C187.6,632.4 185.1,636.9 192.5,632.8 C199.8,628.7 216.9,619.6 229.2,607.4 C241.4,595.2 259.7,567.7 265.8,559.7" fill="none" stroke="#1898c0" stroke-width="0.55" opacity="0.65"/>
<path d="M58.6,549.1 C59.9,554.2 63.7,573.5 66.2,579.5 C68.7,585.5 71.2,583.1 73.7,585.1 C76.2,587.1 78.7,589.4 81.2,591.3 C83.7,593.3 86.2,595.0 88.7,596.8 C91.2,598.6 93.7,600.3 96.2,602.1 C98.7,603.9 101.2,605.7 103.7,607.5 C106.2,609.3 108.7,611.2 111.2,612.9 C113.7,614.6 116.2,616.2 118.7,617.8 C121.2,619.4 123.7,621.1 126.2,622.6 C128.7,624.1 131.2,625.3 133.7,626.5 C136.2,627.8 138.7,629.1 141.2,630.2 C143.7,631.2 142.3,635.6 148.7,632.8 C155.2,629.9 169.5,623.8 179.8,613.1 C190.2,602.4 205.8,576.0 211.0,568.5" fill="none" stroke="#18a0b0" stroke-width="0.55" opacity="0.54"/>
<path d="M108.5,564.7 C108.8,573.1 109.8,606.5 110.4,615.2 C111.0,623.9 111.7,616.3 112.3,616.9 C112.9,617.4 113.6,617.8 114.2,618.3 C114.9,618.8 115.5,619.3 116.1,619.8 C116.8,620.3 117.4,620.8 118.0,621.3 C118.7,621.8 119.3,622.3 119.9,622.8 C120.6,623.3 121.2,623.8 121.8,624.3 C122.5,624.8 123.1,625.3 123.7,625.7 C124.4,626.2 125.0,626.7 125.7,627.2 C126.3,627.7 126.9,628.3 127.6,628.7 C128.2,629.2 128.8,629.5 129.5,629.9 C130.1,630.3 117.7,632.2 131.4,631.1 C145.1,630.0 184.8,634.0 211.6,623.2 C238.3,612.5 278.4,576.0 291.8,566.6" fill="none" stroke="#18a0b0" stroke-width="0.55" opacity="0.58"/>
<path d="M32.8,554.1 C34.3,556.7 38.9,565.3 41.9,569.4 C45.0,573.4 48.0,575.8 51.0,578.7 C54.1,581.6 57.1,584.6 60.1,586.8 C63.2,589.0 66.2,589.8 69.2,591.9 C72.3,593.9 75.3,596.8 78.3,599.1 C81.4,601.3 84.4,603.5 87.4,605.6 C90.5,607.7 93.5,609.7 96.5,611.7 C99.6,613.8 102.6,615.8 105.6,617.9 C108.7,619.9 111.7,621.9 114.7,623.8 C117.8,625.7 120.8,627.6 123.8,629.3 C126.9,631.0 129.9,632.6 132.9,634.0 C136.0,635.5 132.6,640.2 142.0,638.0 C151.4,635.7 173.6,634.2 189.3,620.8 C205.1,607.4 228.7,568.1 236.6,557.6" fill="none" stroke="#18b878" stroke-width="0.55" opacity="0.89"/>
<path d="M52.5,548.4 C54.1,552.1 59.0,565.9 62.3,570.8 C65.6,575.6 68.8,574.9 72.1,577.3 C75.4,579.8 78.6,582.9 81.9,585.4 C85.2,588.0 88.4,590.1 91.7,592.4 C95.0,594.8 98.2,597.1 101.5,599.5 C104.8,601.8 108.0,604.2 111.3,606.5 C114.6,608.7 117.8,610.8 121.1,612.8 C124.4,614.9 127.6,616.9 130.9,618.7 C134.2,620.4 137.4,622.2 140.7,623.5 C144.0,624.9 147.2,625.8 150.5,626.9 C153.8,628.1 157.0,629.5 160.3,630.3 C163.6,631.1 152.6,633.9 170.1,631.7 C187.6,629.4 233.5,626.4 265.3,616.8 C297.0,607.2 344.5,581.0 360.4,573.8" fill="none" stroke="#3a40e0" stroke-width="0.55" opacity="0.74"/>
<path d="M65.8,551.8 C66.9,557.5 70.1,579.2 72.2,585.7 C74.3,592.3 76.5,589.4 78.6,591.1 C80.8,592.8 82.9,594.5 85.0,596.0 C87.2,597.6 89.3,599.1 91.4,600.7 C93.6,602.2 95.7,603.7 97.9,605.3 C100.0,606.8 102.1,608.3 104.3,609.9 C106.4,611.4 108.5,613.0 110.7,614.5 C112.8,616.0 115.0,617.3 117.1,618.7 C119.2,620.1 121.4,621.6 123.5,622.9 C125.6,624.2 127.8,625.5 129.9,626.7 C132.1,627.9 134.2,628.9 136.3,629.9 C138.5,630.9 134.3,634.2 142.7,632.8 C151.2,631.4 172.3,633.6 187.0,621.3 C201.8,609.1 223.9,569.7 231.3,559.4" fill="none" stroke="#2a50e8" stroke-width="0.55" opacity="0.73"/>
<path d="M36.6,553.1 C38.4,556.5 44.0,568.3 47.7,573.5 C51.4,578.7 55.1,581.5 58.8,584.3 C62.5,587.2 66.2,588.1 69.9,590.6 C73.6,593.1 77.3,596.6 81.0,599.3 C84.7,602.0 88.4,604.4 92.1,606.9 C95.8,609.4 99.5,611.9 103.2,614.3 C106.9,616.8 110.6,619.3 114.3,621.6 C118.0,624.0 121.7,626.3 125.4,628.3 C129.1,630.3 132.8,632.1 136.5,633.7 C140.2,635.2 143.9,636.4 147.6,637.7 C151.3,638.9 155.0,640.2 158.7,641.0 C162.4,641.8 150.4,644.1 169.8,642.4 C189.1,640.6 239.9,642.6 275.0,630.6 C310.0,618.6 362.6,580.4 380.2,570.4" fill="none" stroke="#18b878" stroke-width="0.55" opacity="0.54"/>
<path d="M102.0,564.7 C103.3,572.8 107.0,604.5 109.6,613.5 C112.1,622.4 114.6,616.8 117.1,618.4 C119.6,620.0 122.1,621.7 124.7,623.1 C127.2,624.6 129.7,625.9 132.2,627.2 C134.7,628.5 137.2,629.8 139.8,630.8 C142.3,631.9 144.8,632.6 147.3,633.4 C149.8,634.3 152.3,635.2 154.9,635.9 C157.4,636.7 159.9,637.4 162.4,637.9 C164.9,638.4 167.4,638.5 170.0,638.8 C172.5,639.1 175.0,639.5 177.5,639.8 C180.0,640.0 182.6,640.2 185.1,640.3 C187.6,640.5 180.3,642.9 192.6,640.8 C204.9,638.7 236.9,638.7 259.0,627.8 C281.1,616.9 314.3,584.3 325.4,575.5" fill="none" stroke="#20b0a0" stroke-width="0.55" opacity="0.54"/>
<path d="M92.7,563.1 C94.0,569.8 98.0,595.6 100.6,603.3 C103.3,610.9 105.9,607.1 108.6,608.9 C111.2,610.7 113.9,612.5 116.5,614.2 C119.2,616.0 121.8,617.7 124.5,619.3 C127.1,620.9 129.8,622.3 132.4,623.7 C135.1,625.0 137.7,626.5 140.4,627.6 C143.0,628.7 145.6,629.4 148.3,630.3 C150.9,631.2 153.6,632.3 156.2,633.0 C158.9,633.8 161.5,634.4 164.2,634.9 C166.8,635.4 169.5,635.6 172.1,635.9 C174.8,636.3 177.4,636.7 180.1,637.0 C182.7,637.3 178.5,641.1 188.0,637.5 C197.5,634.0 220.7,627.6 237.0,615.5 C253.4,603.4 277.9,573.5 286.1,565.0" fill="none" stroke="#10a890" stroke-width="0.55" opacity="0.88"/>
<path d="M43.4,551.2 C44.6,552.9 48.4,558.7 50.9,561.7 C53.4,564.8 56.0,567.5 58.5,569.6 C61.0,571.6 63.5,572.4 66.0,574.1 C68.5,575.8 71.0,577.8 73.6,579.9 C76.1,581.9 78.6,584.3 81.1,586.3 C83.6,588.3 86.1,590.1 88.6,591.9 C91.2,593.8 93.7,595.7 96.2,597.5 C98.7,599.4 101.2,601.2 103.7,603.1 C106.3,604.9 108.8,606.9 111.3,608.6 C113.8,610.4 116.3,612.0 118.8,613.7 C121.3,615.4 123.9,617.2 126.4,618.8 C128.9,620.3 122.1,623.0 133.9,622.9 C145.7,622.7 176.1,628.8 197.2,618.0 C218.3,607.3 250.0,568.4 260.5,558.4" fill="none" stroke="#2a50e8" stroke-width="0.55" opacity="0.77"/>
<path d="M107.9,564.7 C109.1,572.2 112.8,601.5 115.3,609.8 C117.7,618.1 120.2,613.0 122.7,614.6 C125.1,616.1 127.6,617.7 130.0,619.0 C132.5,620.4 134.9,621.6 137.4,622.8 C139.9,623.9 142.3,624.9 144.8,625.9 C147.2,626.8 149.7,627.6 152.2,628.5 C154.6,629.4 157.1,630.5 159.5,631.1 C162.0,631.8 164.5,631.9 166.9,632.3 C169.4,632.7 171.8,633.1 174.3,633.4 C176.7,633.8 179.2,634.1 181.7,634.4 C184.1,634.7 186.6,634.8 189.0,635.0 C191.5,635.2 183.0,640.5 196.4,635.6 C209.8,630.7 245.1,615.4 269.5,605.6 C293.9,595.7 330.4,581.5 342.6,576.7" fill="none" stroke="#10a890" stroke-width="0.55" opacity="0.64"/>
<path d="M108.0,564.7 C108.4,573.7 109.9,609.5 110.9,618.9 C111.9,628.3 112.9,620.3 113.9,621.0 C114.9,621.7 115.9,622.3 116.8,623.0 C117.8,623.6 118.8,624.3 119.8,625.0 C120.8,625.6 121.8,626.3 122.8,627.0 C123.8,627.6 124.8,628.3 125.7,629.0 C126.7,629.6 127.7,630.2 128.7,630.8 C129.7,631.4 130.7,631.9 131.7,632.4 C132.7,632.9 133.6,633.4 134.6,633.9 C135.6,634.5 136.6,635.0 137.6,635.5 C138.6,636.0 139.6,636.6 140.6,637.1 C141.6,637.5 137.0,640.1 143.5,638.2 C150.0,636.3 167.6,637.9 179.6,625.9 C191.6,613.9 209.7,576.2 215.7,566.2" fill="none" stroke="#2a50e8" stroke-width="0.55" opacity="0.80"/>
<path d="M66.7,552.3 C67.7,559.5 70.6,587.5 72.5,595.4 C74.5,603.4 76.4,598.6 78.3,600.1 C80.3,601.6 82.2,603.1 84.1,604.5 C86.1,605.8 88.0,607.1 90.0,608.4 C91.9,609.8 93.8,611.1 95.8,612.4 C97.7,613.7 99.6,615.1 101.6,616.4 C103.5,617.7 105.4,619.1 107.4,620.4 C109.3,621.7 111.2,623.0 113.2,624.3 C115.1,625.5 117.1,626.7 119.0,627.8 C120.9,629.0 122.9,630.3 124.8,631.4 C126.7,632.5 128.7,633.5 130.6,634.5 C132.5,635.5 123.0,638.9 136.4,637.2 C149.8,635.6 186.1,636.6 210.9,624.5 C235.8,612.5 273.0,574.8 285.4,564.9" fill="none" stroke="#2a50e8" stroke-width="0.55" opacity="0.60"/>
<path d="M63.7,550.7 C65.1,555.3 69.2,572.7 71.9,578.4 C74.6,584.2 77.3,583.1 80.0,585.2 C82.7,587.4 85.4,589.3 88.1,591.3 C90.8,593.3 93.5,595.2 96.2,597.2 C98.9,599.1 101.6,601.1 104.3,603.1 C107.0,605.0 109.7,607.1 112.4,608.9 C115.1,610.8 117.8,612.5 120.5,614.2 C123.3,616.0 126.0,617.8 128.7,619.4 C131.4,620.9 134.1,622.2 136.8,623.5 C139.5,624.7 142.2,625.9 144.9,627.0 C147.6,628.0 150.3,628.9 153.0,629.9 C155.7,630.8 150.2,637.0 161.1,632.5 C172.1,628.0 199.4,614.4 218.6,602.7 C237.7,591.0 266.4,569.1 276.0,562.4" fill="none" stroke="#20b0a0" stroke-width="0.55" opacity="0.86"/>
<path d="M85.0,561.3 C86.3,568.8 90.2,597.9 92.8,606.3 C95.4,614.7 98.0,609.9 100.6,611.6 C103.2,613.4 105.8,615.2 108.4,617.0 C111.0,618.7 113.6,620.4 116.2,622.0 C118.8,623.6 121.4,625.3 124.0,626.8 C126.6,628.3 129.2,629.6 131.8,630.9 C134.4,632.2 137.0,633.5 139.6,634.6 C142.2,635.6 144.8,636.4 147.3,637.2 C149.9,638.0 152.5,638.9 155.1,639.7 C157.7,640.4 160.3,641.1 162.9,641.5 C165.5,642.0 168.1,642.1 170.7,642.4 C173.3,642.7 161.1,646.3 178.5,643.2 C195.9,640.1 242.8,635.8 274.9,623.8 C307.0,611.8 355.2,579.9 371.3,571.1" fill="none" stroke="#2a50e8" stroke-width="0.55" opacity="0.72"/>
<path d="M64.0,550.9 C65.8,558.5 71.0,587.9 74.5,596.9 C78.0,605.8 81.5,602.2 85.0,604.7 C88.6,607.2 92.1,609.4 95.6,611.7 C99.1,614.0 102.6,616.4 106.1,618.7 C109.6,621.0 113.1,623.2 116.6,625.4 C120.1,627.5 123.6,629.8 127.1,631.6 C130.6,633.5 134.1,635.0 137.6,636.4 C141.1,637.8 144.7,638.9 148.2,640.0 C151.7,641.1 155.2,642.4 158.7,643.1 C162.2,643.8 165.7,644.0 169.2,644.3 C172.7,644.7 176.2,645.1 179.7,645.3 C183.2,645.5 175.3,646.7 190.2,645.5 C205.1,644.4 242.8,650.0 269.0,638.4 C295.3,626.8 334.7,586.4 347.8,575.9" fill="none" stroke="#6a28d0" stroke-width="0.55" opacity="0.54"/>
<path d="M80.5,559.3 C81.7,567.0 85.4,596.8 87.9,605.3 C90.3,613.8 92.8,608.7 95.3,610.4 C97.7,612.0 100.2,613.7 102.7,615.4 C105.1,617.0 107.6,618.8 110.1,620.4 C112.5,622.0 115.0,623.5 117.4,625.0 C119.9,626.5 122.4,628.1 124.8,629.5 C127.3,630.9 129.8,632.1 132.2,633.3 C134.7,634.5 137.1,635.8 139.6,636.7 C142.1,637.7 144.5,638.4 147.0,639.2 C149.5,640.0 151.9,640.8 154.4,641.5 C156.8,642.2 159.3,643.0 161.8,643.4 C164.2,643.9 151.8,645.8 169.2,644.2 C186.5,642.5 233.7,645.2 266.0,633.4 C298.3,621.6 346.7,583.2 362.8,573.2" fill="none" stroke="#10a890" stroke-width="0.55" opacity="0.64"/>
<path d="M85.1,561.3 C86.6,570.3 91.0,605.3 94.0,615.2 C97.0,625.2 99.9,619.1 102.9,621.1 C105.9,623.0 108.9,625.1 111.8,626.9 C114.8,628.8 117.8,630.5 120.8,632.1 C123.7,633.8 126.7,635.6 129.7,637.0 C132.6,638.5 135.6,639.8 138.6,640.9 C141.6,642.1 144.5,642.9 147.5,643.8 C150.5,644.7 153.4,645.7 156.4,646.4 C159.4,647.0 162.4,647.5 165.3,647.8 C168.3,648.2 171.3,648.3 174.3,648.5 C177.2,648.7 180.2,648.9 183.2,649.0 C186.1,649.1 172.8,652.3 192.1,649.2 C211.3,646.1 263.2,643.1 298.7,630.6 C334.2,618.0 387.5,583.4 405.3,574.0" fill="none" stroke="#6a28d0" stroke-width="0.55" opacity="0.50"/>
<path d="M60.2,549.5 C61.3,554.3 64.6,572.6 66.8,578.2 C69.0,583.9 71.3,581.6 73.5,583.4 C75.7,585.2 77.9,587.2 80.1,589.0 C82.3,590.8 84.5,592.4 86.8,594.0 C89.0,595.7 91.2,597.3 93.4,598.9 C95.6,600.5 97.8,602.1 100.1,603.8 C102.3,605.4 104.5,607.0 106.7,608.6 C108.9,610.2 111.1,611.9 113.3,613.4 C115.6,614.9 117.8,616.3 120.0,617.8 C122.2,619.2 124.4,620.8 126.6,622.2 C128.9,623.5 131.1,624.5 133.3,625.7 C135.5,626.9 122.3,630.0 139.9,629.1 C157.6,628.2 206.2,629.0 239.3,620.3 C272.5,611.5 322.1,584.0 338.7,576.8" fill="none" stroke="#18a0b0" stroke-width="0.55" opacity="0.57"/>
<path d="M65.9,551.9 C66.9,558.5 69.8,584.0 71.8,591.4 C73.7,598.8 75.6,594.6 77.6,596.1 C79.5,597.7 81.5,599.3 83.4,600.7 C85.3,602.1 87.3,603.4 89.2,604.8 C91.1,606.1 93.1,607.5 95.0,608.8 C97.0,610.2 98.9,611.5 100.8,612.9 C102.8,614.3 104.7,615.6 106.7,617.0 C108.6,618.3 110.5,619.7 112.5,621.0 C114.4,622.3 116.3,623.5 118.3,624.7 C120.2,625.9 122.2,627.2 124.1,628.3 C126.0,629.5 128.0,630.6 129.9,631.6 C131.8,632.7 120.4,635.7 135.7,634.5 C151.0,633.2 193.0,635.0 221.7,624.4 C250.4,613.8 293.3,579.8 307.7,570.9" fill="none" stroke="#20b0a0" stroke-width="0.55" opacity="0.71"/>
<path d="M53.8,548.0 C55.0,552.0 58.4,567.3 60.7,572.0 C63.0,576.7 65.2,574.5 67.5,576.2 C69.8,577.8 72.1,579.8 74.4,581.7 C76.7,583.6 78.9,585.8 81.2,587.6 C83.5,589.4 85.8,591.0 88.1,592.7 C90.4,594.4 92.7,596.1 94.9,597.8 C97.2,599.5 99.5,601.2 101.8,602.9 C104.1,604.5 106.4,606.3 108.6,607.9 C110.9,609.6 113.2,611.2 115.5,612.8 C117.8,614.3 120.1,615.9 122.3,617.3 C124.6,618.8 126.9,620.4 129.2,621.7 C131.5,623.0 118.2,628.2 136.0,625.3 C153.9,622.3 202.8,611.8 236.2,603.7 C269.6,595.6 319.6,581.1 336.3,576.6" fill="none" stroke="#3a40e0" stroke-width="0.55" opacity="0.65"/>
<path d="M31.4,554.5 C33.2,556.6 38.5,563.2 42.0,567.1 C45.6,571.0 49.1,574.8 52.7,578.0 C56.2,581.1 59.7,583.6 63.3,586.1 C66.8,588.7 70.4,590.7 73.9,593.2 C77.4,595.7 81.0,598.7 84.5,601.3 C88.1,603.8 91.6,606.0 95.1,608.4 C98.7,610.8 102.2,613.3 105.7,615.6 C109.3,617.9 112.8,620.3 116.4,622.5 C119.9,624.7 123.4,627.0 127.0,628.9 C130.5,630.8 134.1,632.4 137.6,633.8 C141.1,635.3 144.7,636.4 148.2,637.6 C151.8,638.7 143.0,642.8 158.8,640.8 C174.7,638.8 215.2,636.4 243.3,625.6 C271.5,614.8 313.7,584.1 327.8,575.8" fill="none" stroke="#6a28d0" stroke-width="0.55" opacity="0.61"/>
<path d="M104.4,564.7 C104.8,574.3 106.0,612.3 106.8,622.1 C107.6,632.0 108.4,623.3 109.2,623.8 C110.0,624.4 110.8,625.0 111.6,625.5 C112.4,626.1 113.1,626.6 113.9,627.1 C114.7,627.6 115.5,628.1 116.3,628.6 C117.1,629.1 117.9,629.6 118.7,630.1 C119.5,630.6 120.3,631.1 121.1,631.6 C121.9,632.1 122.7,632.7 123.5,633.2 C124.3,633.7 125.1,634.2 125.9,634.7 C126.6,635.2 127.4,635.7 128.2,636.1 C129.0,636.5 129.8,636.9 130.6,637.3 C131.4,637.7 115.8,639.9 133.0,638.4 C150.2,636.9 200.3,638.5 233.9,628.2 C267.6,617.9 318.1,585.1 334.9,576.4" fill="none" stroke="#6a28d0" stroke-width="0.55" opacity="0.72"/>
<path d="M85.3,561.4 C86.8,569.2 91.2,599.2 94.2,608.0 C97.2,616.8 100.2,612.0 103.2,614.0 C106.1,616.0 109.1,618.2 112.1,620.1 C115.1,622.0 118.1,623.7 121.0,625.5 C124.0,627.2 127.0,629.0 130.0,630.5 C132.9,632.1 135.9,633.5 138.9,634.6 C141.9,635.8 144.9,636.7 147.8,637.7 C150.8,638.6 153.8,639.7 156.8,640.4 C159.8,641.1 162.7,641.6 165.7,642.0 C168.7,642.4 171.7,642.6 174.7,642.9 C177.6,643.1 180.6,643.4 183.6,643.6 C186.6,643.7 172.9,645.1 192.5,643.9 C212.2,642.7 265.2,647.7 301.6,636.3 C337.9,624.8 392.4,585.3 410.6,575.2" fill="none" stroke="#18b878" stroke-width="0.55" opacity="0.54"/>
<path d="M67.0,552.5 C68.4,560.8 72.7,593.1 75.6,602.5 C78.4,611.9 81.3,606.8 84.1,608.8 C87.0,610.8 89.8,612.6 92.7,614.4 C95.5,616.3 98.4,618.2 101.2,620.1 C104.1,621.9 106.9,623.9 109.8,625.7 C112.6,627.5 115.5,629.1 118.3,630.8 C121.2,632.5 124.0,634.4 126.9,635.8 C129.7,637.3 132.6,638.5 135.4,639.7 C138.3,640.9 141.1,642.0 144.0,642.9 C146.8,643.9 149.7,644.6 152.5,645.4 C155.4,646.2 158.2,647.2 161.1,647.7 C163.9,648.2 157.3,652.0 169.6,648.4 C181.9,644.7 213.2,638.8 235.0,625.6 C256.8,612.3 289.5,578.3 300.4,568.9" fill="none" stroke="#6a28d0" stroke-width="0.55" opacity="0.81"/>
<path d="M38.9,552.4 C40.7,554.7 46.2,562.4 49.8,566.4 C53.4,570.4 57.0,573.5 60.7,576.3 C64.3,579.1 67.9,580.5 71.5,583.1 C75.2,585.7 78.8,589.1 82.4,591.9 C86.1,594.6 89.7,596.9 93.3,599.4 C96.9,601.9 100.6,604.5 104.2,607.0 C107.8,609.4 111.4,612.0 115.1,614.3 C118.7,616.7 122.3,619.1 126.0,621.1 C129.6,623.1 133.2,624.9 136.8,626.5 C140.5,628.1 144.1,629.4 147.7,630.6 C151.3,631.9 155.0,633.3 158.6,634.2 C162.2,635.0 156.4,638.7 169.5,635.8 C182.5,632.9 214.5,627.7 237.0,616.7 C259.6,605.8 293.3,577.8 304.6,570.0" fill="none" stroke="#10a890" stroke-width="0.55" opacity="0.61"/>
<path d="M59.0,549.2 C60.8,557.2 66.2,588.0 69.8,597.4 C73.4,606.9 77.0,603.2 80.6,605.8 C84.2,608.3 87.8,610.6 91.4,613.0 C95.0,615.3 98.6,617.7 102.2,620.0 C105.8,622.4 109.4,624.8 113.0,627.1 C116.6,629.3 120.2,631.4 123.8,633.4 C127.4,635.3 131.0,637.1 134.6,638.6 C138.2,640.2 141.8,641.4 145.4,642.6 C149.0,643.8 152.6,644.9 156.2,645.7 C159.8,646.5 163.4,647.0 167.0,647.4 C170.6,647.8 174.2,648.0 177.8,648.2 C181.4,648.4 180.6,652.1 188.6,648.5 C196.6,645.0 213.4,641.8 225.9,626.9 C238.3,612.0 256.9,570.4 263.1,559.0" fill="none" stroke="#1898c0" stroke-width="0.55" opacity="0.74"/>
<path d="M58.9,549.2 C60.5,553.2 65.3,568.2 68.5,573.6 C71.7,578.9 74.8,579.0 78.0,581.5 C81.2,584.0 84.4,586.4 87.6,588.8 C90.8,591.2 94.0,593.4 97.2,595.7 C100.4,598.0 103.6,600.3 106.7,602.5 C109.9,604.8 113.1,607.0 116.3,609.1 C119.5,611.2 122.7,613.4 125.9,615.3 C129.1,617.2 132.3,618.8 135.5,620.3 C138.6,621.9 141.8,623.2 145.0,624.5 C148.2,625.7 151.4,626.8 154.6,627.8 C157.8,628.8 161.0,629.7 164.2,630.3 C167.3,630.9 157.8,635.4 173.7,631.7 C189.6,627.9 230.9,616.9 259.4,607.6 C288.0,598.4 330.9,581.6 345.2,576.3" fill="none" stroke="#18a0b0" stroke-width="0.55" opacity="0.89"/>
<path d="M102.9,564.7 C103.3,574.0 104.5,611.0 105.3,620.6 C106.1,630.2 106.9,621.7 107.7,622.3 C108.5,622.8 109.3,623.4 110.0,624.0 C110.8,624.5 111.6,625.1 112.4,625.7 C113.2,626.2 114.0,626.7 114.8,627.2 C115.6,627.7 116.4,628.2 117.1,628.7 C117.9,629.2 118.7,629.7 119.5,630.2 C120.3,630.7 121.1,631.2 121.9,631.8 C122.7,632.3 123.5,632.8 124.2,633.3 C125.0,633.8 125.8,634.3 126.6,634.8 C127.4,635.3 128.2,635.7 129.0,636.1 C129.8,636.5 117.8,637.0 131.3,637.3 C144.9,637.6 183.9,649.8 210.2,637.9 C236.5,626.0 276.0,577.9 289.1,565.8" fill="none" stroke="#6a28d0" stroke-width="0.55" opacity="0.69"/>
<path d="M86.7,561.9 C88.1,568.8 92.1,595.5 94.8,603.3 C97.5,611.1 100.2,607.1 102.9,608.9 C105.6,610.8 108.3,612.8 111.0,614.6 C113.7,616.4 116.4,618.0 119.1,619.7 C121.8,621.4 124.5,623.3 127.2,624.8 C129.9,626.3 132.6,627.5 135.3,628.7 C138.0,629.9 140.7,631.1 143.4,632.2 C146.1,633.2 148.8,633.9 151.5,634.8 C154.2,635.7 156.9,636.9 159.6,637.5 C162.3,638.1 165.0,638.2 167.7,638.5 C170.4,638.9 173.1,639.2 175.8,639.5 C178.5,639.8 166.6,643.4 183.9,640.2 C201.3,637.0 247.8,632.1 279.7,620.4 C311.6,608.7 359.5,578.5 375.4,570.1" fill="none" stroke="#10a890" stroke-width="0.55" opacity="0.63"/>
<path d="M40.7,551.9 C42.8,557.9 49.0,580.6 53.2,588.0 C57.3,595.5 61.5,593.7 65.6,596.6 C69.7,599.5 73.9,602.5 78.0,605.4 C82.2,608.3 86.3,611.1 90.5,613.9 C94.6,616.7 98.8,619.3 102.9,622.0 C107.1,624.6 111.2,627.3 115.4,629.8 C119.5,632.3 123.6,634.9 127.8,637.0 C131.9,639.1 136.1,640.9 140.2,642.4 C144.4,643.9 148.5,644.9 152.7,645.9 C156.8,646.9 161.0,647.8 165.1,648.4 C169.3,649.0 173.4,649.1 177.5,649.3 C181.7,649.5 180.2,652.0 190.0,649.6 C199.8,647.2 221.0,649.3 236.5,635.1 C252.0,620.8 275.2,576.0 283.0,564.2" fill="none" stroke="#18b878" stroke-width="0.55" opacity="0.80"/>
<path d="M47.8,549.9 C49.9,554.9 56.0,573.9 60.1,580.2 C64.2,586.6 68.3,585.1 72.5,587.9 C76.6,590.7 80.7,594.4 84.8,597.3 C88.9,600.3 93.0,602.9 97.1,605.7 C101.2,608.5 105.3,611.4 109.4,614.0 C113.5,616.7 117.6,619.3 121.8,621.7 C125.9,624.1 130.0,626.3 134.1,628.2 C138.2,630.1 142.3,631.6 146.4,633.0 C150.5,634.5 154.6,636.0 158.7,636.9 C162.8,637.8 167.0,638.0 171.1,638.4 C175.2,638.8 179.3,639.2 183.4,639.4 C187.5,639.7 179.8,642.9 195.7,639.9 C211.6,636.9 251.1,632.4 278.8,621.3 C306.5,610.2 348.0,581.4 361.9,573.4" fill="none" stroke="#2a50e8" stroke-width="0.55" opacity="0.80"/>
<path d="M104.0,564.7 C105.3,574.1 108.9,610.8 111.4,620.9 C113.8,631.1 116.3,624.0 118.7,625.4 C121.2,626.9 123.6,628.5 126.0,629.9 C128.5,631.2 130.9,632.3 133.4,633.5 C135.8,634.6 138.3,635.9 140.7,636.8 C143.2,637.8 145.6,638.4 148.0,639.1 C150.5,639.9 152.9,640.7 155.4,641.4 C157.8,642.0 160.3,642.7 162.7,643.1 C165.2,643.5 167.6,643.6 170.0,643.8 C172.5,644.1 174.9,644.4 177.4,644.6 C179.8,644.8 182.3,644.9 184.7,645.0 C187.2,645.1 172.7,649.2 192.1,645.3 C211.4,641.4 264.4,633.2 300.6,621.5 C336.7,609.7 391.0,582.6 409.1,574.8" fill="none" stroke="#20b0a0" stroke-width="0.55" opacity="0.64"/>
<path d="M108.6,564.7 C109.8,574.5 113.3,613.0 115.7,623.5 C118.1,634.1 120.5,626.5 122.9,627.9 C125.3,629.3 127.7,630.6 130.1,631.9 C132.4,633.1 134.8,634.1 137.2,635.1 C139.6,636.2 142.0,637.1 144.4,637.9 C146.8,638.7 149.2,639.4 151.6,640.1 C153.9,640.8 156.3,641.8 158.7,642.3 C161.1,642.9 163.5,643.0 165.9,643.3 C168.3,643.6 170.7,643.8 173.1,644.1 C175.4,644.3 177.8,644.6 180.2,644.8 C182.6,644.9 185.0,645.0 187.4,645.0 C189.8,645.1 181.8,647.5 194.5,645.3 C207.3,643.1 240.8,643.4 263.9,631.9 C287.0,620.4 321.6,585.5 333.2,576.3" fill="none" stroke="#2a50e8" stroke-width="0.55" opacity="0.80"/>
<path d="M72.8,555.7 C74.0,563.6 77.6,594.6 79.9,603.4 C82.3,612.2 84.7,606.7 87.1,608.3 C89.5,610.0 91.8,611.5 94.2,613.1 C96.6,614.7 99.0,616.3 101.4,617.9 C103.7,619.5 106.1,621.1 108.5,622.7 C110.9,624.2 113.3,625.7 115.6,627.2 C118.0,628.7 120.4,630.1 122.8,631.4 C125.2,632.8 127.5,634.2 129.9,635.4 C132.3,636.6 134.7,637.6 137.1,638.6 C139.4,639.6 141.8,640.5 144.2,641.3 C146.6,642.1 149.0,642.7 151.3,643.4 C153.7,644.1 151.5,647.2 158.5,645.6 C165.4,643.9 181.6,647.8 193.2,633.6 C204.7,619.4 222.1,572.7 227.8,560.5" fill="none" stroke="#1898c0" stroke-width="0.55" opacity="0.69"/>
<path d="M42.8,551.3 C44.4,553.5 49.1,560.7 52.2,564.2 C55.4,567.7 58.5,570.0 61.6,572.3 C64.8,574.7 67.9,576.1 71.0,578.4 C74.2,580.7 77.3,583.7 80.4,586.2 C83.6,588.6 86.7,590.8 89.8,593.1 C93.0,595.3 96.1,597.5 99.2,599.8 C102.4,602.0 105.5,604.3 108.6,606.5 C111.8,608.7 114.9,610.8 118.0,612.8 C121.2,614.9 124.3,617.1 127.4,618.9 C130.6,620.7 133.7,622.1 136.9,623.6 C140.0,625.0 143.1,626.2 146.3,627.4 C149.4,628.6 136.4,631.8 155.7,630.7 C175.0,629.6 226.6,630.5 262.1,620.7 C297.5,610.9 350.7,580.0 368.5,571.8" fill="none" stroke="#6a28d0" stroke-width="0.55" opacity="0.68"/>
<path d="M43.8,551.0 C45.6,554.1 50.9,565.0 54.4,569.3 C57.9,573.6 61.4,574.4 64.9,576.9 C68.4,579.4 71.9,581.9 75.5,584.6 C79.0,587.2 82.5,590.1 86.0,592.6 C89.5,595.2 93.0,597.6 96.5,600.0 C100.0,602.5 103.6,605.0 107.1,607.4 C110.6,609.8 114.1,612.1 117.6,614.4 C121.1,616.6 124.6,619.0 128.1,620.9 C131.7,622.9 135.2,624.5 138.7,626.0 C142.2,627.5 145.7,628.6 149.2,629.8 C152.7,631.0 156.2,632.5 159.8,633.3 C163.3,634.1 150.6,637.8 170.3,634.7 C189.9,631.5 241.9,625.2 277.7,614.5 C313.5,603.9 367.2,578.0 385.1,570.7" fill="none" stroke="#1898c0" stroke-width="0.55" opacity="0.83"/>
<path d="M44.5,550.8 C45.9,555.4 50.0,572.4 52.8,578.1 C55.5,583.9 58.3,583.1 61.0,585.1 C63.7,587.0 66.5,587.9 69.2,589.7 C72.0,591.6 74.7,594.2 77.5,596.3 C80.2,598.4 83.0,600.5 85.7,602.4 C88.4,604.4 91.2,606.2 93.9,608.1 C96.7,609.9 99.4,611.8 102.2,613.7 C104.9,615.6 107.6,617.5 110.4,619.3 C113.1,621.1 115.9,622.8 118.6,624.5 C121.4,626.2 124.1,628.0 126.9,629.5 C129.6,631.0 132.3,632.3 135.1,633.5 C137.8,634.7 126.6,640.1 143.3,636.9 C160.0,633.7 204.6,624.4 235.2,614.2 C265.8,604.0 311.7,582.1 327.0,575.7" fill="none" stroke="#3a40e0" stroke-width="0.55" opacity="0.84"/>
<path d="M61.3,549.8 C62.3,556.4 65.4,582.1 67.4,589.5 C69.4,596.9 71.4,592.5 73.4,594.1 C75.4,595.7 77.5,597.4 79.5,599.0 C81.5,600.5 83.5,602.0 85.5,603.4 C87.6,604.9 89.6,606.2 91.6,607.6 C93.6,609.0 95.6,610.4 97.7,611.8 C99.7,613.2 101.7,614.6 103.7,616.0 C105.7,617.4 107.8,618.9 109.8,620.2 C111.8,621.6 113.8,622.9 115.8,624.2 C117.8,625.4 119.9,626.7 121.9,627.9 C123.9,629.2 125.9,630.5 127.9,631.6 C130.0,632.7 127.5,635.4 134.0,634.5 C140.5,633.6 155.8,636.8 166.7,626.4 C177.6,616.0 194.0,581.1 199.5,572.0" fill="none" stroke="#6a28d0" stroke-width="0.55" opacity="0.79"/>
<path d="M41.5,551.7 C43.4,553.7 49.3,560.3 53.2,563.8 C57.2,567.3 61.1,569.7 65.0,572.6 C68.9,575.5 72.8,578.4 76.8,581.3 C80.7,584.3 84.6,587.3 88.5,590.2 C92.4,593.0 96.4,595.7 100.3,598.4 C104.2,601.2 108.1,604.1 112.0,606.7 C116.0,609.3 119.9,611.9 123.8,614.2 C127.7,616.4 131.6,618.6 135.6,620.4 C139.5,622.3 143.4,623.7 147.3,625.1 C151.2,626.6 155.1,628.1 159.1,629.1 C163.0,630.0 166.9,630.3 170.8,630.8 C174.7,631.3 164.8,635.3 182.6,632.1 C200.4,628.9 245.9,621.7 277.5,611.4 C309.2,601.2 356.6,577.6 372.4,570.8" fill="none" stroke="#10a890" stroke-width="0.55" opacity="0.87"/>
<path d="M63.9,550.8 C65.7,556.8 71.4,579.3 75.1,586.7 C78.8,594.1 82.6,592.5 86.3,595.2 C90.1,597.9 93.8,600.3 97.5,602.9 C101.3,605.5 105.0,608.2 108.8,610.6 C112.5,613.1 116.2,615.5 120.0,617.8 C123.7,620.1 127.5,622.3 131.2,624.2 C134.9,626.1 138.7,627.8 142.4,629.2 C146.2,630.6 149.9,631.8 153.6,632.8 C157.4,633.8 161.1,634.7 164.9,635.4 C168.6,636.0 172.3,636.3 176.1,636.6 C179.8,637.0 183.6,637.2 187.3,637.4 C191.1,637.6 181.0,639.6 198.5,637.9 C216.0,636.3 261.1,638.9 292.4,627.7 C323.7,616.5 370.7,580.3 386.3,570.8" fill="none" stroke="#18a0b0" stroke-width="0.55" opacity="0.80"/>
<path d="M78.5,558.4 C79.4,564.9 82.1,590.2 84.0,597.4 C85.8,604.5 87.6,600.0 89.4,601.3 C91.2,602.6 93.0,603.9 94.8,605.2 C96.7,606.5 98.5,607.8 100.3,609.1 C102.1,610.4 103.9,611.7 105.7,613.0 C107.5,614.3 109.3,615.7 111.2,616.9 C113.0,618.2 114.8,619.3 116.6,620.5 C118.4,621.7 120.2,622.9 122.0,624.0 C123.9,625.2 125.7,626.5 127.5,627.6 C129.3,628.6 131.1,629.4 132.9,630.3 C134.7,631.2 136.6,632.2 138.4,633.0 C140.2,633.8 133.3,638.9 143.8,635.3 C154.3,631.6 182.3,624.2 201.6,611.4 C220.8,598.5 249.7,567.0 259.4,558.1" fill="none" stroke="#6a28d0" stroke-width="0.55" opacity="0.78"/>
</g>
<polyline points="29.5,555.1 31.6,554.5 33.7,553.9 35.8,553.3 37.9,552.7 40.0,552.1 42.0,551.5 44.1,550.9 46.2,550.4 48.3,549.7 50.4,549.1 52.5,548.4 54.6,548.0 56.7,548.6 58.8,549.1 60.9,549.7 62.9,550.3 65.0,551.4 67.1,552.6 69.2,553.7 71.3,554.9 73.4,556.0 75.5,557.0 77.6,558.0 79.7,558.9 81.8,559.9 83.9,560.8 85.9,561.7 88.0,562.2 90.1,562.6 92.2,563.0 94.3,563.4 96.4,563.9 98.5,564.3 100.6,564.7 102.7,564.7 104.8,564.7 106.8,564.7 108.9,564.7 111.0,564.7 113.1,564.8 115.2,565.2 117.3,565.6 119.4,565.9 121.5,566.3 123.6,566.8 125.7,567.3 127.8,567.8 129.8,568.2 131.9,568.4 134.0,568.6 136.1,568.9 138.2,569.1 140.3,569.3 142.4,569.5 144.5,569.7 146.6,569.6 148.7,569.4 150.7,569.3 152.8,569.2 154.9,569.2 157.0,569.7 159.1,570.1 161.2,570.6 163.3,571.0 165.4,571.5 167.5,571.9 169.6,572.4 171.7,572.7 173.7,572.9 175.8,573.1 177.9,573.3 180.0,573.5 182.1,573.6 184.2,573.8 186.3,574.0 188.4,573.6 190.5,573.3 192.6,573.0 194.6,572.7 196.7,572.4 198.8,572.1 200.9,571.8 203.0,571.4 205.1,571.1 207.2,570.4 209.3,569.4 211.4,568.3 213.5,567.3 215.6,566.3 217.6,565.2 219.7,564.2 221.8,563.2 223.9,562.1 226.0,561.2 228.1,560.5 230.2,559.8 232.3,559.1 234.4,558.4 236.5,557.7 238.6,557.0 240.6,556.3 242.7,555.6 244.8,554.9 246.9,555.1 249.0,555.6 251.1,556.1 253.2,556.6 255.3,557.1 257.4,557.7 259.5,558.2 261.5,558.7 263.6,559.2 265.7,559.7 267.8,560.2 269.9,560.8 272.0,561.3 274.1,561.9 276.2,562.4 278.3,563.0 280.4,563.5 282.5,564.1 284.5,564.6 286.6,565.2 288.7,565.7 290.8,566.3 292.9,566.9 295.0,567.4 297.1,568.0 299.2,568.6 301.3,569.1 303.4,569.7 305.4,570.3 307.5,570.8 309.6,571.4 311.7,571.9 313.8,572.5 315.9,573.1 318.0,573.6 320.1,574.2 322.2,574.8 324.3,575.3 326.4,575.6 328.4,575.8 330.5,576.0 332.6,576.2 334.7,576.4 336.8,576.6 338.9,576.8 341.0,577.0 343.1,576.7 345.2,576.3 347.3,576.0 349.3,575.7 351.4,575.4 353.5,575.1 355.6,574.7 357.7,574.4 359.8,574.0 361.9,573.4 364.0,572.9 366.1,572.4 368.2,571.9 370.3,571.4 372.3,570.9 374.4,570.3 376.5,570.1 378.6,570.2 380.7,570.4 382.8,570.6 384.9,570.7 387.0,570.9 389.1,571.1 391.2,571.2 393.2,571.4 395.3,571.8 397.4,572.3 399.5,572.7 401.6,573.2 403.7,573.7 405.8,574.1 407.9,574.6 410.0,575.0 412.1,575.5 414.2,576.0 416.2,576.6 418.3,577.1 420.4,577.7 422.5,578.2 424.6,578.8 426.7,579.3 428.8,579.9 430.9,580.4 433.0,580.8 435.1,581.2 437.1,581.7 439.2,582.1 441.3,582.5 443.4,582.9 445.5,583.4 447.6,583.8" fill="none" stroke="#2a1a3a" stroke-width="1.0"/>
<circle cx="46.8" cy="549.7" r="1.6" fill="#20c8c8"/>
<circle cx="74.5" cy="556.1" r="1.6" fill="#9a3ac8"/>
<circle cx="129.7" cy="567.7" r="1.6" fill="#c8c840"/>
<circle cx="154.5" cy="568.6" r="1.6" fill="#3a5ad0"/>
<circle cx="170.5" cy="572.1" r="1.6" fill="#20c060"/>
<circle cx="186.0" cy="573.5" r="1.6" fill="#c8c840"/>
<circle cx="206.0" cy="570.5" r="1.6" fill="#20c060"/>
<circle cx="245.3" cy="554.2" r="1.6" fill="#3a5ad0"/>
<circle cx="268.2" cy="559.8" r="1.6" fill="#3a5ad0"/>
<circle cx="287.8" cy="565.0" r="1.6" fill="#20c060"/>
<circle cx="304.5" cy="569.5" r="1.6" fill="#20c060"/>
<circle cx="324.9" cy="575.0" r="1.6" fill="#c8c840"/>
<circle cx="340.9" cy="576.5" r="1.6" fill="#c8c840"/>
<circle cx="358.4" cy="573.8" r="1.6" fill="#20c8c8"/>
<circle cx="375.8" cy="569.5" r="1.6" fill="#9a3ac8"/>
<circle cx="393.3" cy="570.9" r="1.6" fill="#c8c840"/>
<circle cx="412.2" cy="575.0" r="1.6" fill="#3a5ad0"/>
<circle cx="429.6" cy="579.6" r="1.6" fill="#20c060"/>
<polyline points="31.0,569.5 38.0,577.5 46.8,586.2 57.7,597.0 68.6,602.5 81.7,612.4 97.0,622.2 112.3,632.0 127.6,640.7 140.6,646.2 160.0,651.5 180.0,652.8 229.0,652.8 278.0,655.3 327.0,658.7 352.0,653.8 376.0,641.5 401.0,634.2 420.5,626.8 433.0,610.0 441.0,595.0 445.0,588.0 447.3,585.0" fill="none" stroke="#fff" stroke-width="2" stroke-dasharray="1.8 2.2"/>
<line x1="29.5" y1="546.5" x2="29.5" y2="668" stroke="#6a9ad8" stroke-width="0.9"/>
<line x1="24.5" y1="628.4" x2="29.5" y2="628.4" stroke="#555" stroke-width="0.6"/>
<rect x="465.5" y="556.80" width="8.1" height="7.09" fill="#1a2ad8"/>
<rect x="465.5" y="563.59" width="8.1" height="7.09" fill="#1a6aa0"/>
<rect x="465.5" y="570.39" width="8.1" height="7.09" fill="#1a9a6a"/>
<rect x="465.5" y="577.18" width="8.1" height="7.09" fill="#1ac030"/>
<rect x="465.5" y="583.97" width="8.1" height="7.09" fill="#30e020"/>
<rect x="465.5" y="590.76" width="8.1" height="7.09" fill="#48e030"/>
<rect x="465.5" y="597.56" width="8.1" height="7.09" fill="#90e020"/>
<rect x="465.5" y="604.35" width="8.1" height="7.09" fill="#c8f020"/>
<rect x="465.5" y="611.14" width="8.1" height="7.09" fill="#f8f000"/>
<rect x="465.5" y="617.94" width="8.1" height="7.09" fill="#f8b000"/>
<rect x="465.5" y="624.73" width="8.1" height="7.09" fill="#f85000"/>
<rect x="465.5" y="631.52" width="8.1" height="7.09" fill="#f00000"/>
<rect x="465.5" y="638.31" width="8.1" height="7.09" fill="#f0088a"/>
<rect x="465.5" y="645.11" width="8.1" height="7.09" fill="#f020f0"/>
</svg>
<div class="t" style="left:12.3px;top:523.3px;font-size:12.5px;font-weight:bold;color:#000">(g)</div>
<div class="t" style="left:32.2px;top:524.6px;font-size:10.5px;color:#000;-webkit-text-stroke:0.25px #000">SRT Profile SP02</div>
<div class="t" style="left:31.6px;top:535.2px;font-size:10.5px;color:#000;-webkit-text-stroke:0.25px #000">NW</div>
<div class="t" style="left:434.7px;top:537px;font-size:10.5px;color:#000;-webkit-text-stroke:0.25px #000">SE</div>
<div class="t" style="left:6.3px;top:624.3px;font-size:7.7px;color:#111;-webkit-text-stroke:0.12px #111">1960</div>
<div class="t" style="left:31px;top:671px;font-size:7.7px;color:#111;-webkit-text-stroke:0.12px #111;transform:translateX(-50%)">0</div>
<div class="t" style="left:118.8px;top:671px;font-size:7.7px;color:#111;-webkit-text-stroke:0.12px #111;transform:translateX(-50%)">50</div>
<div class="t" style="left:207.8px;top:671px;font-size:7.7px;color:#111;-webkit-text-stroke:0.12px #111;transform:translateX(-50%)">100</div>
<div class="t" style="left:297.8px;top:671px;font-size:7.7px;color:#111;-webkit-text-stroke:0.12px #111;transform:translateX(-50%)">150</div>
<div class="t" style="left:386.2px;top:671px;font-size:7.7px;color:#111;-webkit-text-stroke:0.12px #111;transform:translateX(-50%)">200</div>
<div class="t" style="left:435.5px;top:671px;font-size:7.7px;color:#111;-webkit-text-stroke:0.12px #111">[m]</div>
<div class="t" style="left:476px;top:560.6px;font-size:7.5px;color:#111;-webkit-text-stroke:0.12px #111">2900</div>
<div class="t" style="left:476px;top:587.0px;font-size:7.5px;color:#111;-webkit-text-stroke:0.12px #111">2100</div>
<div class="t" style="left:476px;top:613.7px;font-size:7.5px;color:#111;-webkit-text-stroke:0.12px #111">1300</div>
<div class="t" style="left:476px;top:639.3px;font-size:7.5px;color:#111;-webkit-text-stroke:0.12px #111">500</div>
<div class="t" style="left:476px;top:660px;font-size:7.6px;color:#111;-webkit-text-stroke:0.12px #111">Vp [m/s]</div>
</body></html>
